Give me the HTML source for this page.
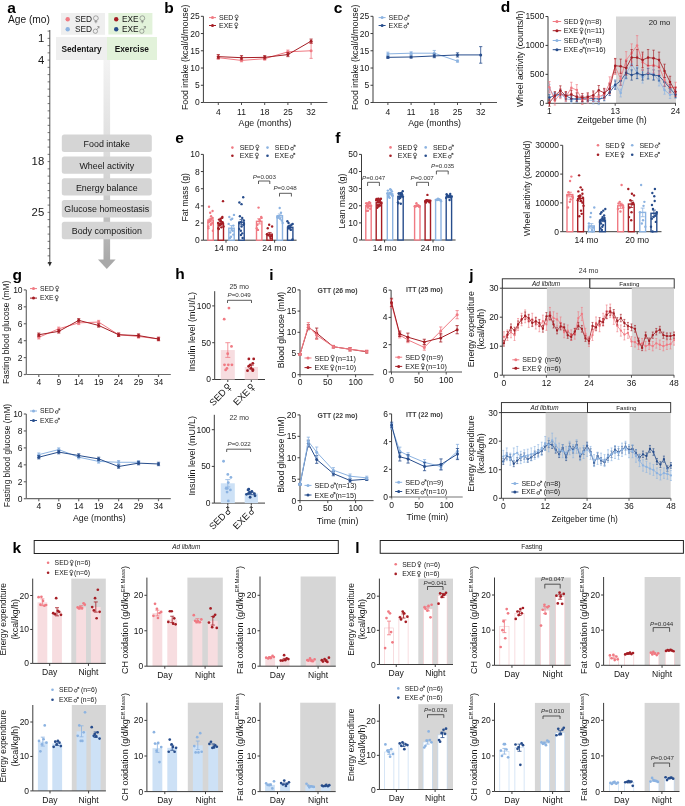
<!DOCTYPE html>
<html><head><meta charset="utf-8"><style>
html,body{margin:0;padding:0;background:#fff;}
svg{display:block;will-change:transform;}
</style></head><body>
<svg width="685" height="806" viewBox="0 0 685 806">
<rect width="685" height="806" fill="#fff"/>
<g font-family='"Liberation Sans", sans-serif' font-size="8.5" fill="#161616">
<text x="7.2" y="12.7" font-weight="bold" fill="#000" font-size="15.5">a</text>
<text x="8" y="23.2" font-size="10.2">Age (mo)</text>
<rect x="61" y="13" width="44" height="21.8" fill="#efefef"/>
<rect x="108.4" y="13" width="44" height="21.5" fill="#e2f2da"/>
<circle cx="67.7" cy="19.2" r="2.2" fill="#f07a83"/>
<g><text x="75" y="22.11" font-size="8.3" xml:space="preserve">SED</text><circle cx="95.88" cy="18.2" r="2.41" fill="none" stroke="#666" stroke-width="0.54"/><path d="M95.88 20.61V23.27M94.39 21.69H97.38" stroke="#666" stroke-width="0.54" fill="none"/></g>
<circle cx="67.7" cy="29.3" r="2.2" fill="#8cb3e1"/>
<g><text x="75" y="32.2" font-size="8.3" xml:space="preserve">SED</text><circle cx="95.39" cy="31.21" r="2.16" fill="none" stroke="#666" stroke-width="0.54"/><path d="M96.94 29.66L99.04 26.56M97.21 26.56H99.04V28.39" stroke="#666" stroke-width="0.54" fill="none"/></g>
<circle cx="116.2" cy="19.2" r="2.2" fill="#a51d24"/>
<g><text x="121.9" y="22.11" font-size="8.3" xml:space="preserve">EXE</text><circle cx="142.33" cy="18.2" r="2.41" fill="none" stroke="#666" stroke-width="0.54"/><path d="M142.33 20.61V23.27M140.83 21.69H143.82" stroke="#666" stroke-width="0.54" fill="none"/></g>
<circle cx="116.2" cy="29.3" r="2.2" fill="#274d8c"/>
<g><text x="121.9" y="32.2" font-size="8.3" xml:space="preserve">EXE</text><circle cx="141.83" cy="31.21" r="2.16" fill="none" stroke="#666" stroke-width="0.54"/><path d="M143.38 29.66L145.48 26.56M143.66 26.56H145.48V28.39" stroke="#666" stroke-width="0.54" fill="none"/></g>
<rect x="56" y="37" width="51" height="23" fill="#efefef"/>
<rect x="107" y="37" width="50" height="23" fill="#e2f2da"/>
<text x="81.5" y="51.8" text-anchor="middle" font-weight="bold" font-size="8.3">Sedentary</text>
<text x="131.8" y="51.8" text-anchor="middle" font-weight="bold" font-size="8.3">Exercise</text>
<defs><linearGradient id="gb" x1="0" y1="0" x2="0" y2="1"><stop offset="0" stop-color="#f3f3f3"/><stop offset="0.55" stop-color="#d8d8d8"/><stop offset="1" stop-color="#a9a9a9"/></linearGradient></defs>
<rect x="103.5" y="60" width="6.6" height="200" fill="url(#gb)"/>
<polygon points="98,259.5 115.6,259.5 106.8,269" fill="#a9a9a9"/>
<line x1="49.8" y1="30" x2="49.8" y2="263.5" stroke="#3c3c3c" stroke-width="0.9"/>
<polygon points="47.8,262 51.8,262 49.8,266.5" fill="#2a2a2a"/>
<line x1="47.6" y1="31.1" x2="49.8" y2="31.1" stroke="#3c3c3c" stroke-width="0.7"/>
<line x1="47.6" y1="38.35" x2="49.8" y2="38.35" stroke="#3c3c3c" stroke-width="0.7"/>
<line x1="47.6" y1="45.6" x2="49.8" y2="45.6" stroke="#3c3c3c" stroke-width="0.7"/>
<line x1="47.6" y1="52.85" x2="49.8" y2="52.85" stroke="#3c3c3c" stroke-width="0.7"/>
<line x1="47.6" y1="60.1" x2="49.8" y2="60.1" stroke="#3c3c3c" stroke-width="0.7"/>
<line x1="47.6" y1="67.35" x2="49.8" y2="67.35" stroke="#3c3c3c" stroke-width="0.7"/>
<line x1="47.6" y1="74.6" x2="49.8" y2="74.6" stroke="#3c3c3c" stroke-width="0.7"/>
<line x1="47.6" y1="81.85" x2="49.8" y2="81.85" stroke="#3c3c3c" stroke-width="0.7"/>
<line x1="47.6" y1="89.1" x2="49.8" y2="89.1" stroke="#3c3c3c" stroke-width="0.7"/>
<line x1="47.6" y1="96.35" x2="49.8" y2="96.35" stroke="#3c3c3c" stroke-width="0.7"/>
<line x1="47.6" y1="103.6" x2="49.8" y2="103.6" stroke="#3c3c3c" stroke-width="0.7"/>
<line x1="47.6" y1="110.85" x2="49.8" y2="110.85" stroke="#3c3c3c" stroke-width="0.7"/>
<line x1="47.6" y1="118.1" x2="49.8" y2="118.1" stroke="#3c3c3c" stroke-width="0.7"/>
<line x1="47.6" y1="125.35" x2="49.8" y2="125.35" stroke="#3c3c3c" stroke-width="0.7"/>
<line x1="47.6" y1="132.6" x2="49.8" y2="132.6" stroke="#3c3c3c" stroke-width="0.7"/>
<line x1="47.6" y1="139.85" x2="49.8" y2="139.85" stroke="#3c3c3c" stroke-width="0.7"/>
<line x1="47.6" y1="147.1" x2="49.8" y2="147.1" stroke="#3c3c3c" stroke-width="0.7"/>
<line x1="47.6" y1="154.35" x2="49.8" y2="154.35" stroke="#3c3c3c" stroke-width="0.7"/>
<line x1="47.6" y1="161.6" x2="49.8" y2="161.6" stroke="#3c3c3c" stroke-width="0.7"/>
<line x1="47.6" y1="168.85" x2="49.8" y2="168.85" stroke="#3c3c3c" stroke-width="0.7"/>
<line x1="47.6" y1="176.1" x2="49.8" y2="176.1" stroke="#3c3c3c" stroke-width="0.7"/>
<line x1="47.6" y1="183.35" x2="49.8" y2="183.35" stroke="#3c3c3c" stroke-width="0.7"/>
<line x1="47.6" y1="190.6" x2="49.8" y2="190.6" stroke="#3c3c3c" stroke-width="0.7"/>
<line x1="47.6" y1="197.85" x2="49.8" y2="197.85" stroke="#3c3c3c" stroke-width="0.7"/>
<line x1="47.6" y1="205.1" x2="49.8" y2="205.1" stroke="#3c3c3c" stroke-width="0.7"/>
<line x1="47.6" y1="212.35" x2="49.8" y2="212.35" stroke="#3c3c3c" stroke-width="0.7"/>
<line x1="47.6" y1="219.6" x2="49.8" y2="219.6" stroke="#3c3c3c" stroke-width="0.7"/>
<line x1="47.6" y1="226.85" x2="49.8" y2="226.85" stroke="#3c3c3c" stroke-width="0.7"/>
<line x1="47.6" y1="234.1" x2="49.8" y2="234.1" stroke="#3c3c3c" stroke-width="0.7"/>
<line x1="47.6" y1="241.35" x2="49.8" y2="241.35" stroke="#3c3c3c" stroke-width="0.7"/>
<line x1="47.6" y1="248.6" x2="49.8" y2="248.6" stroke="#3c3c3c" stroke-width="0.7"/>
<line x1="47.6" y1="255.85" x2="49.8" y2="255.85" stroke="#3c3c3c" stroke-width="0.7"/>
<line x1="47.6" y1="263.1" x2="49.8" y2="263.1" stroke="#3c3c3c" stroke-width="0.7"/>
<text x="44.2" y="42.15" text-anchor="end" font-size="11.3">1</text>
<text x="44.2" y="63.9" text-anchor="end" font-size="11.3">4</text>
<text x="44.2" y="165.4" text-anchor="end" font-size="11.3">18</text>
<text x="44.2" y="216.15" text-anchor="end" font-size="11.3">25</text>
<rect x="61.8" y="134.6" width="90" height="17.4" fill="#d5d5d5" rx="2.5"/>
<text x="106.8" y="146.9" text-anchor="middle" font-size="8.9">Food intake</text>
<rect x="61.8" y="156.4" width="90" height="17.4" fill="#d5d5d5" rx="2.5"/>
<text x="106.8" y="168.7" text-anchor="middle" font-size="8.9">Wheel activity</text>
<rect x="61.8" y="178.2" width="90" height="17.4" fill="#d5d5d5" rx="2.5"/>
<text x="106.8" y="190.5" text-anchor="middle" font-size="8.9">Energy balance</text>
<rect x="61.8" y="200" width="90" height="17.4" fill="#d5d5d5" rx="2.5"/>
<text x="106.8" y="212.3" text-anchor="middle" font-size="8.9">Glucose homeostasis</text>
<rect x="61.8" y="221.8" width="90" height="17.4" fill="#d5d5d5" rx="2.5"/>
<text x="106.8" y="234.1" text-anchor="middle" font-size="8.9">Body composition</text>
<text x="164.2" y="12.6" font-weight="bold" fill="#000" font-size="15.5">b</text>
<line x1="203.4" y1="16.3" x2="203.4" y2="102.5" stroke="#3c3c3c" stroke-width="1"/>
<line x1="200.9" y1="102.5" x2="203.4" y2="102.5" stroke="#3c3c3c" stroke-width="1"/>
<text x="199.7" y="105.47" text-anchor="end">0</text>
<line x1="200.9" y1="85.26" x2="203.4" y2="85.26" stroke="#3c3c3c" stroke-width="1"/>
<text x="199.7" y="88.23" text-anchor="end">5</text>
<line x1="200.9" y1="68.02" x2="203.4" y2="68.02" stroke="#3c3c3c" stroke-width="1"/>
<text x="199.7" y="71" text-anchor="end">10</text>
<line x1="200.9" y1="50.78" x2="203.4" y2="50.78" stroke="#3c3c3c" stroke-width="1"/>
<text x="199.7" y="53.76" text-anchor="end">15</text>
<line x1="200.9" y1="33.54" x2="203.4" y2="33.54" stroke="#3c3c3c" stroke-width="1"/>
<text x="199.7" y="36.52" text-anchor="end">20</text>
<line x1="200.9" y1="16.3" x2="203.4" y2="16.3" stroke="#3c3c3c" stroke-width="1"/>
<text x="199.7" y="19.27" text-anchor="end">25</text>
<line x1="203.4" y1="102.5" x2="327.4" y2="102.5" stroke="#3c3c3c" stroke-width="0.9"/>
<line x1="218.3" y1="102.5" x2="218.3" y2="105" stroke="#3c3c3c" stroke-width="0.9"/>
<text x="218.3" y="114.5" text-anchor="middle">4</text>
<line x1="241.5" y1="102.5" x2="241.5" y2="105" stroke="#3c3c3c" stroke-width="0.9"/>
<text x="241.5" y="114.5" text-anchor="middle">11</text>
<line x1="264.7" y1="102.5" x2="264.7" y2="105" stroke="#3c3c3c" stroke-width="0.9"/>
<text x="264.7" y="114.5" text-anchor="middle">18</text>
<line x1="287.9" y1="102.5" x2="287.9" y2="105" stroke="#3c3c3c" stroke-width="0.9"/>
<text x="287.9" y="114.5" text-anchor="middle">25</text>
<line x1="311.1" y1="102.5" x2="311.1" y2="105" stroke="#3c3c3c" stroke-width="0.9"/>
<text x="311.1" y="114.5" text-anchor="middle">32</text>
<text x="265" y="126.4" text-anchor="middle" font-size="8.8">Age (months)</text>
<text x="188" y="57.3" text-anchor="middle" font-size="8.75" transform="rotate(-90 188 57.3)">Food intake (kcal/d/mouse)</text>
<polyline points="218.3,57.68 241.5,60.43 264.7,58.71 287.9,51.81 311.1,50.78" fill="none" stroke="#f07a83" stroke-width="1" stroke-linejoin="round"/>
<line x1="218.3" y1="59.06" x2="218.3" y2="56.3" stroke="#f07a83" stroke-width="0.8"/>
<line x1="216.7" y1="59.06" x2="219.9" y2="59.06" stroke="#f07a83" stroke-width="0.8"/>
<line x1="216.7" y1="56.3" x2="219.9" y2="56.3" stroke="#f07a83" stroke-width="0.8"/>
<circle cx="218.3" cy="57.68" r="1.5" fill="#f07a83"/>
<line x1="241.5" y1="61.81" x2="241.5" y2="59.06" stroke="#f07a83" stroke-width="0.8"/>
<line x1="239.9" y1="61.81" x2="243.1" y2="61.81" stroke="#f07a83" stroke-width="0.8"/>
<line x1="239.9" y1="59.06" x2="243.1" y2="59.06" stroke="#f07a83" stroke-width="0.8"/>
<circle cx="241.5" cy="60.43" r="1.5" fill="#f07a83"/>
<line x1="264.7" y1="60.09" x2="264.7" y2="57.33" stroke="#f07a83" stroke-width="0.8"/>
<line x1="263.1" y1="60.09" x2="266.3" y2="60.09" stroke="#f07a83" stroke-width="0.8"/>
<line x1="263.1" y1="57.33" x2="266.3" y2="57.33" stroke="#f07a83" stroke-width="0.8"/>
<circle cx="264.7" cy="58.71" r="1.5" fill="#f07a83"/>
<line x1="287.9" y1="53.54" x2="287.9" y2="50.09" stroke="#f07a83" stroke-width="0.8"/>
<line x1="286.3" y1="53.54" x2="289.5" y2="53.54" stroke="#f07a83" stroke-width="0.8"/>
<line x1="286.3" y1="50.09" x2="289.5" y2="50.09" stroke="#f07a83" stroke-width="0.8"/>
<circle cx="287.9" cy="51.81" r="1.5" fill="#f07a83"/>
<line x1="311.1" y1="58.37" x2="311.1" y2="43.19" stroke="#f07a83" stroke-width="0.8"/>
<line x1="309.5" y1="58.37" x2="312.7" y2="58.37" stroke="#f07a83" stroke-width="0.8"/>
<line x1="309.5" y1="43.19" x2="312.7" y2="43.19" stroke="#f07a83" stroke-width="0.8"/>
<circle cx="311.1" cy="50.78" r="1.5" fill="#f07a83"/>
<polyline points="218.3,56.64 241.5,57.68 264.7,57.33 287.9,54.57 311.1,41.13" fill="none" stroke="#a51d24" stroke-width="1" stroke-linejoin="round"/>
<line x1="218.3" y1="58.71" x2="218.3" y2="54.57" stroke="#a51d24" stroke-width="0.8"/>
<line x1="216.7" y1="58.71" x2="219.9" y2="58.71" stroke="#a51d24" stroke-width="0.8"/>
<line x1="216.7" y1="54.57" x2="219.9" y2="54.57" stroke="#a51d24" stroke-width="0.8"/>
<circle cx="218.3" cy="56.64" r="1.5" fill="#a51d24"/>
<line x1="241.5" y1="59.74" x2="241.5" y2="55.61" stroke="#a51d24" stroke-width="0.8"/>
<line x1="239.9" y1="59.74" x2="243.1" y2="59.74" stroke="#a51d24" stroke-width="0.8"/>
<line x1="239.9" y1="55.61" x2="243.1" y2="55.61" stroke="#a51d24" stroke-width="0.8"/>
<circle cx="241.5" cy="57.68" r="1.5" fill="#a51d24"/>
<line x1="264.7" y1="59.06" x2="264.7" y2="55.61" stroke="#a51d24" stroke-width="0.8"/>
<line x1="263.1" y1="59.06" x2="266.3" y2="59.06" stroke="#a51d24" stroke-width="0.8"/>
<line x1="263.1" y1="55.61" x2="266.3" y2="55.61" stroke="#a51d24" stroke-width="0.8"/>
<circle cx="264.7" cy="57.33" r="1.5" fill="#a51d24"/>
<line x1="287.9" y1="56.64" x2="287.9" y2="52.5" stroke="#a51d24" stroke-width="0.8"/>
<line x1="286.3" y1="56.64" x2="289.5" y2="56.64" stroke="#a51d24" stroke-width="0.8"/>
<line x1="286.3" y1="52.5" x2="289.5" y2="52.5" stroke="#a51d24" stroke-width="0.8"/>
<circle cx="287.9" cy="54.57" r="1.5" fill="#a51d24"/>
<line x1="311.1" y1="43.19" x2="311.1" y2="39.06" stroke="#a51d24" stroke-width="0.8"/>
<line x1="309.5" y1="43.19" x2="312.7" y2="43.19" stroke="#a51d24" stroke-width="0.8"/>
<line x1="309.5" y1="39.06" x2="312.7" y2="39.06" stroke="#a51d24" stroke-width="0.8"/>
<circle cx="311.1" cy="41.13" r="1.5" fill="#a51d24"/>
<line x1="209" y1="17.6" x2="216" y2="17.6" stroke="#f07a83" stroke-width="1"/>
<circle cx="212.5" cy="17.6" r="1.5" fill="#f07a83"/>
<g><text x="219" y="20.05" font-size="7" xml:space="preserve">SED</text><circle cx="236.61" cy="16.55" r="1.54" fill="none" stroke="#161616" stroke-width="0.67"/><path d="M236.61 18.09V21.03M235.35 19.7H237.87" stroke="#161616" stroke-width="0.67" fill="none"/></g>
<line x1="209" y1="25.5" x2="216" y2="25.5" stroke="#a51d24" stroke-width="1"/>
<circle cx="212.5" cy="25.5" r="1.5" fill="#a51d24"/>
<g><text x="219" y="27.95" font-size="7" xml:space="preserve">EXE</text><circle cx="236.23" cy="24.45" r="1.54" fill="none" stroke="#161616" stroke-width="0.67"/><path d="M236.23 25.99V28.93M234.97 27.6H237.49" stroke="#161616" stroke-width="0.67" fill="none"/></g>
<text x="333.8" y="12.6" font-weight="bold" fill="#000" font-size="15.5">c</text>
<line x1="373" y1="16.3" x2="373" y2="102.5" stroke="#3c3c3c" stroke-width="1"/>
<line x1="370.5" y1="102.5" x2="373" y2="102.5" stroke="#3c3c3c" stroke-width="1"/>
<text x="369.3" y="105.47" text-anchor="end">0</text>
<line x1="370.5" y1="85.26" x2="373" y2="85.26" stroke="#3c3c3c" stroke-width="1"/>
<text x="369.3" y="88.23" text-anchor="end">5</text>
<line x1="370.5" y1="68.02" x2="373" y2="68.02" stroke="#3c3c3c" stroke-width="1"/>
<text x="369.3" y="71" text-anchor="end">10</text>
<line x1="370.5" y1="50.78" x2="373" y2="50.78" stroke="#3c3c3c" stroke-width="1"/>
<text x="369.3" y="53.76" text-anchor="end">15</text>
<line x1="370.5" y1="33.54" x2="373" y2="33.54" stroke="#3c3c3c" stroke-width="1"/>
<text x="369.3" y="36.52" text-anchor="end">20</text>
<line x1="370.5" y1="16.3" x2="373" y2="16.3" stroke="#3c3c3c" stroke-width="1"/>
<text x="369.3" y="19.27" text-anchor="end">25</text>
<line x1="373" y1="102.5" x2="497" y2="102.5" stroke="#3c3c3c" stroke-width="0.9"/>
<line x1="387.9" y1="102.5" x2="387.9" y2="105" stroke="#3c3c3c" stroke-width="0.9"/>
<text x="387.9" y="114.5" text-anchor="middle">4</text>
<line x1="411.1" y1="102.5" x2="411.1" y2="105" stroke="#3c3c3c" stroke-width="0.9"/>
<text x="411.1" y="114.5" text-anchor="middle">11</text>
<line x1="434.3" y1="102.5" x2="434.3" y2="105" stroke="#3c3c3c" stroke-width="0.9"/>
<text x="434.3" y="114.5" text-anchor="middle">18</text>
<line x1="457.5" y1="102.5" x2="457.5" y2="105" stroke="#3c3c3c" stroke-width="0.9"/>
<text x="457.5" y="114.5" text-anchor="middle">25</text>
<line x1="480.7" y1="102.5" x2="480.7" y2="105" stroke="#3c3c3c" stroke-width="0.9"/>
<text x="480.7" y="114.5" text-anchor="middle">32</text>
<text x="434.6" y="126.4" text-anchor="middle" font-size="8.8">Age (months)</text>
<text x="357.6" y="57.3" text-anchor="middle" font-size="8.75" transform="rotate(-90 357.6 57.3)">Food intake (kcal/d/mouse)</text>
<polyline points="387.9,53.88 411.1,53.19 434.3,53.19 457.5,61.12" fill="none" stroke="#8cb3e1" stroke-width="1" stroke-linejoin="round"/>
<line x1="387.9" y1="55.61" x2="387.9" y2="52.16" stroke="#8cb3e1" stroke-width="0.8"/>
<line x1="386.3" y1="55.61" x2="389.5" y2="55.61" stroke="#8cb3e1" stroke-width="0.8"/>
<line x1="386.3" y1="52.16" x2="389.5" y2="52.16" stroke="#8cb3e1" stroke-width="0.8"/>
<circle cx="387.9" cy="53.88" r="1.5" fill="#8cb3e1"/>
<line x1="411.1" y1="54.57" x2="411.1" y2="51.81" stroke="#8cb3e1" stroke-width="0.8"/>
<line x1="409.5" y1="54.57" x2="412.7" y2="54.57" stroke="#8cb3e1" stroke-width="0.8"/>
<line x1="409.5" y1="51.81" x2="412.7" y2="51.81" stroke="#8cb3e1" stroke-width="0.8"/>
<circle cx="411.1" cy="53.19" r="1.5" fill="#8cb3e1"/>
<line x1="434.3" y1="55.95" x2="434.3" y2="50.44" stroke="#8cb3e1" stroke-width="0.8"/>
<line x1="432.7" y1="55.95" x2="435.9" y2="55.95" stroke="#8cb3e1" stroke-width="0.8"/>
<line x1="432.7" y1="50.44" x2="435.9" y2="50.44" stroke="#8cb3e1" stroke-width="0.8"/>
<circle cx="434.3" cy="53.19" r="1.5" fill="#8cb3e1"/>
<line x1="457.5" y1="62.16" x2="457.5" y2="60.09" stroke="#8cb3e1" stroke-width="0.8"/>
<line x1="455.9" y1="62.16" x2="459.1" y2="62.16" stroke="#8cb3e1" stroke-width="0.8"/>
<line x1="455.9" y1="60.09" x2="459.1" y2="60.09" stroke="#8cb3e1" stroke-width="0.8"/>
<circle cx="457.5" cy="61.12" r="1.5" fill="#8cb3e1"/>
<polyline points="387.9,57.33 411.1,56.99 434.3,55.95 457.5,54.92 480.7,54.92" fill="none" stroke="#274d8c" stroke-width="1" stroke-linejoin="round"/>
<line x1="387.9" y1="58.37" x2="387.9" y2="56.3" stroke="#274d8c" stroke-width="0.8"/>
<line x1="386.3" y1="58.37" x2="389.5" y2="58.37" stroke="#274d8c" stroke-width="0.8"/>
<line x1="386.3" y1="56.3" x2="389.5" y2="56.3" stroke="#274d8c" stroke-width="0.8"/>
<circle cx="387.9" cy="57.33" r="1.5" fill="#274d8c"/>
<line x1="411.1" y1="58.02" x2="411.1" y2="55.95" stroke="#274d8c" stroke-width="0.8"/>
<line x1="409.5" y1="58.02" x2="412.7" y2="58.02" stroke="#274d8c" stroke-width="0.8"/>
<line x1="409.5" y1="55.95" x2="412.7" y2="55.95" stroke="#274d8c" stroke-width="0.8"/>
<circle cx="411.1" cy="56.99" r="1.5" fill="#274d8c"/>
<line x1="434.3" y1="57.68" x2="434.3" y2="54.23" stroke="#274d8c" stroke-width="0.8"/>
<line x1="432.7" y1="57.68" x2="435.9" y2="57.68" stroke="#274d8c" stroke-width="0.8"/>
<line x1="432.7" y1="54.23" x2="435.9" y2="54.23" stroke="#274d8c" stroke-width="0.8"/>
<circle cx="434.3" cy="55.95" r="1.5" fill="#274d8c"/>
<line x1="457.5" y1="56.99" x2="457.5" y2="52.85" stroke="#274d8c" stroke-width="0.8"/>
<line x1="455.9" y1="56.99" x2="459.1" y2="56.99" stroke="#274d8c" stroke-width="0.8"/>
<line x1="455.9" y1="52.85" x2="459.1" y2="52.85" stroke="#274d8c" stroke-width="0.8"/>
<circle cx="457.5" cy="54.92" r="1.5" fill="#274d8c"/>
<line x1="480.7" y1="63.19" x2="480.7" y2="46.64" stroke="#274d8c" stroke-width="0.8"/>
<line x1="479.1" y1="63.19" x2="482.3" y2="63.19" stroke="#274d8c" stroke-width="0.8"/>
<line x1="479.1" y1="46.64" x2="482.3" y2="46.64" stroke="#274d8c" stroke-width="0.8"/>
<circle cx="480.7" cy="54.92" r="1.5" fill="#274d8c"/>
<line x1="378.6" y1="17.6" x2="385.6" y2="17.6" stroke="#8cb3e1" stroke-width="1"/>
<circle cx="382.1" cy="17.6" r="1.5" fill="#8cb3e1"/>
<g><text x="388.6" y="20.05" font-size="7" xml:space="preserve">SED</text><circle cx="405.79" cy="18.65" r="1.4" fill="none" stroke="#161616" stroke-width="0.67"/><path d="M406.8 17.64L408.87 15.29M407.33 15.29H408.87V16.83" stroke="#161616" stroke-width="0.67" fill="none"/></g>
<line x1="378.6" y1="25.5" x2="385.6" y2="25.5" stroke="#274d8c" stroke-width="1"/>
<circle cx="382.1" cy="25.5" r="1.5" fill="#274d8c"/>
<g><text x="388.6" y="27.95" font-size="7" xml:space="preserve">EXE</text><circle cx="405.41" cy="26.55" r="1.4" fill="none" stroke="#161616" stroke-width="0.67"/><path d="M406.42 25.54L408.49 23.19M406.95 23.19H408.49V24.73" stroke="#161616" stroke-width="0.67" fill="none"/></g>
<text x="500.8" y="12.4" font-weight="bold" fill="#000" font-size="15.5">d</text>
<rect x="616" y="16.5" width="60" height="86.8" fill="#d6d6d6"/>
<line x1="548" y1="16.5" x2="548" y2="103.3" stroke="#3c3c3c" stroke-width="1"/>
<line x1="545.5" y1="103.3" x2="548" y2="103.3" stroke="#3c3c3c" stroke-width="1"/>
<text x="544.3" y="106.27" text-anchor="end">0</text>
<line x1="545.5" y1="74.37" x2="548" y2="74.37" stroke="#3c3c3c" stroke-width="1"/>
<text x="544.3" y="77.34" text-anchor="end">500</text>
<line x1="545.5" y1="45.43" x2="548" y2="45.43" stroke="#3c3c3c" stroke-width="1"/>
<text x="544.3" y="48.41" text-anchor="end">1000</text>
<line x1="545.5" y1="16.5" x2="548" y2="16.5" stroke="#3c3c3c" stroke-width="1"/>
<text x="544.3" y="19.48" text-anchor="end">1500</text>
<line x1="548" y1="103.3" x2="676" y2="103.3" stroke="#3c3c3c" stroke-width="0.9"/>
<line x1="549.4" y1="103.3" x2="549.4" y2="105.8" stroke="#3c3c3c" stroke-width="0.9"/>
<text x="549.4" y="113.88" text-anchor="middle">1</text>
<line x1="615.19" y1="103.3" x2="615.19" y2="105.8" stroke="#3c3c3c" stroke-width="0.9"/>
<text x="615.19" y="113.88" text-anchor="middle">13</text>
<line x1="675.5" y1="103.3" x2="675.5" y2="105.8" stroke="#3c3c3c" stroke-width="0.9"/>
<text x="675.5" y="113.88" text-anchor="middle">24</text>
<text x="659.5" y="25.2" text-anchor="middle" fill="#222" font-size="7.8">20 mo</text>
<text x="612" y="123.2" text-anchor="middle" font-size="8.8">Zeitgeber time (h)</text>
<text x="523.2" y="58.8" text-anchor="middle" font-size="8.7" transform="rotate(-90 523.2 58.8)">Wheel acitivity (counts/h)</text>
<polyline points="549.4,88.72 554.88,96.88 560.37,93.64 565.85,98.61 571.33,100.06 576.81,99.02 582.3,99.02 587.78,100.06 593.26,100.75 598.74,101.56 604.23,93 609.71,88.31 615.19,84.44 620.67,93 626.16,73.27 631.64,64.3 637.12,72.86 642.6,77.61 648.09,72.86 653.57,73.73 659.05,80.79 664.53,89.99 670.02,94.74 675.5,93.64" fill="none" stroke="#8cb3e1" stroke-width="0.85" stroke-linejoin="round"/>
<line x1="549.4" y1="93.07" x2="549.4" y2="84.37" stroke="#8cb3e1" stroke-width="0.65"/>
<line x1="548.2" y1="93.07" x2="550.6" y2="93.07" stroke="#8cb3e1" stroke-width="0.65"/>
<line x1="548.2" y1="84.37" x2="550.6" y2="84.37" stroke="#8cb3e1" stroke-width="0.65"/>
<circle cx="549.4" cy="88.72" r="1.25" fill="#8cb3e1"/>
<line x1="554.88" y1="100.41" x2="554.88" y2="93.34" stroke="#8cb3e1" stroke-width="0.65"/>
<line x1="553.68" y1="100.41" x2="556.08" y2="100.41" stroke="#8cb3e1" stroke-width="0.65"/>
<line x1="553.68" y1="93.34" x2="556.08" y2="93.34" stroke="#8cb3e1" stroke-width="0.65"/>
<circle cx="554.88" cy="96.88" r="1.25" fill="#8cb3e1"/>
<line x1="560.37" y1="97.5" x2="560.37" y2="89.78" stroke="#8cb3e1" stroke-width="0.65"/>
<line x1="559.17" y1="97.5" x2="561.57" y2="97.5" stroke="#8cb3e1" stroke-width="0.65"/>
<line x1="559.17" y1="89.78" x2="561.57" y2="89.78" stroke="#8cb3e1" stroke-width="0.65"/>
<circle cx="560.37" cy="93.64" r="1.25" fill="#8cb3e1"/>
<line x1="565.85" y1="101.97" x2="565.85" y2="95.25" stroke="#8cb3e1" stroke-width="0.65"/>
<line x1="564.65" y1="101.97" x2="567.05" y2="101.97" stroke="#8cb3e1" stroke-width="0.65"/>
<line x1="564.65" y1="95.25" x2="567.05" y2="95.25" stroke="#8cb3e1" stroke-width="0.65"/>
<circle cx="565.85" cy="98.61" r="1.25" fill="#8cb3e1"/>
<line x1="571.33" y1="103.28" x2="571.33" y2="96.84" stroke="#8cb3e1" stroke-width="0.65"/>
<line x1="570.13" y1="103.28" x2="572.53" y2="103.28" stroke="#8cb3e1" stroke-width="0.65"/>
<line x1="570.13" y1="96.84" x2="572.53" y2="96.84" stroke="#8cb3e1" stroke-width="0.65"/>
<circle cx="571.33" cy="100.06" r="1.25" fill="#8cb3e1"/>
<line x1="576.81" y1="102.34" x2="576.81" y2="95.7" stroke="#8cb3e1" stroke-width="0.65"/>
<line x1="575.61" y1="102.34" x2="578.01" y2="102.34" stroke="#8cb3e1" stroke-width="0.65"/>
<line x1="575.61" y1="95.7" x2="578.01" y2="95.7" stroke="#8cb3e1" stroke-width="0.65"/>
<circle cx="576.81" cy="99.02" r="1.25" fill="#8cb3e1"/>
<line x1="582.3" y1="102.34" x2="582.3" y2="95.7" stroke="#8cb3e1" stroke-width="0.65"/>
<line x1="581.1" y1="102.34" x2="583.5" y2="102.34" stroke="#8cb3e1" stroke-width="0.65"/>
<line x1="581.1" y1="95.7" x2="583.5" y2="95.7" stroke="#8cb3e1" stroke-width="0.65"/>
<circle cx="582.3" cy="99.02" r="1.25" fill="#8cb3e1"/>
<line x1="587.78" y1="103.28" x2="587.78" y2="96.84" stroke="#8cb3e1" stroke-width="0.65"/>
<line x1="586.58" y1="103.28" x2="588.98" y2="103.28" stroke="#8cb3e1" stroke-width="0.65"/>
<line x1="586.58" y1="96.84" x2="588.98" y2="96.84" stroke="#8cb3e1" stroke-width="0.65"/>
<circle cx="587.78" cy="100.06" r="1.25" fill="#8cb3e1"/>
<line x1="593.26" y1="103.9" x2="593.26" y2="97.61" stroke="#8cb3e1" stroke-width="0.65"/>
<line x1="592.06" y1="103.9" x2="594.46" y2="103.9" stroke="#8cb3e1" stroke-width="0.65"/>
<line x1="592.06" y1="97.61" x2="594.46" y2="97.61" stroke="#8cb3e1" stroke-width="0.65"/>
<circle cx="593.26" cy="100.75" r="1.25" fill="#8cb3e1"/>
<line x1="598.74" y1="104.63" x2="598.74" y2="98.5" stroke="#8cb3e1" stroke-width="0.65"/>
<line x1="597.54" y1="104.63" x2="599.94" y2="104.63" stroke="#8cb3e1" stroke-width="0.65"/>
<line x1="597.54" y1="98.5" x2="599.94" y2="98.5" stroke="#8cb3e1" stroke-width="0.65"/>
<circle cx="598.74" cy="101.56" r="1.25" fill="#8cb3e1"/>
<line x1="604.23" y1="96.92" x2="604.23" y2="89.08" stroke="#8cb3e1" stroke-width="0.65"/>
<line x1="603.03" y1="96.92" x2="605.43" y2="96.92" stroke="#8cb3e1" stroke-width="0.65"/>
<line x1="603.03" y1="89.08" x2="605.43" y2="89.08" stroke="#8cb3e1" stroke-width="0.65"/>
<circle cx="604.23" cy="93" r="1.25" fill="#8cb3e1"/>
<line x1="609.71" y1="92.7" x2="609.71" y2="83.92" stroke="#8cb3e1" stroke-width="0.65"/>
<line x1="608.51" y1="92.7" x2="610.91" y2="92.7" stroke="#8cb3e1" stroke-width="0.65"/>
<line x1="608.51" y1="83.92" x2="610.91" y2="83.92" stroke="#8cb3e1" stroke-width="0.65"/>
<circle cx="609.71" cy="88.31" r="1.25" fill="#8cb3e1"/>
<line x1="615.19" y1="89.22" x2="615.19" y2="79.66" stroke="#8cb3e1" stroke-width="0.65"/>
<line x1="613.99" y1="89.22" x2="616.39" y2="89.22" stroke="#8cb3e1" stroke-width="0.65"/>
<line x1="613.99" y1="79.66" x2="616.39" y2="79.66" stroke="#8cb3e1" stroke-width="0.65"/>
<circle cx="615.19" cy="84.44" r="1.25" fill="#8cb3e1"/>
<line x1="620.67" y1="96.92" x2="620.67" y2="89.08" stroke="#8cb3e1" stroke-width="0.65"/>
<line x1="619.47" y1="96.92" x2="621.87" y2="96.92" stroke="#8cb3e1" stroke-width="0.65"/>
<line x1="619.47" y1="89.08" x2="621.87" y2="89.08" stroke="#8cb3e1" stroke-width="0.65"/>
<circle cx="620.67" cy="93" r="1.25" fill="#8cb3e1"/>
<line x1="626.16" y1="79.16" x2="626.16" y2="67.37" stroke="#8cb3e1" stroke-width="0.65"/>
<line x1="624.96" y1="79.16" x2="627.36" y2="79.16" stroke="#8cb3e1" stroke-width="0.65"/>
<line x1="624.96" y1="67.37" x2="627.36" y2="67.37" stroke="#8cb3e1" stroke-width="0.65"/>
<circle cx="626.16" cy="73.27" r="1.25" fill="#8cb3e1"/>
<line x1="631.64" y1="71.09" x2="631.64" y2="57.5" stroke="#8cb3e1" stroke-width="0.65"/>
<line x1="630.44" y1="71.09" x2="632.84" y2="71.09" stroke="#8cb3e1" stroke-width="0.65"/>
<line x1="630.44" y1="57.5" x2="632.84" y2="57.5" stroke="#8cb3e1" stroke-width="0.65"/>
<circle cx="631.64" cy="64.3" r="1.25" fill="#8cb3e1"/>
<line x1="637.12" y1="78.8" x2="637.12" y2="66.93" stroke="#8cb3e1" stroke-width="0.65"/>
<line x1="635.92" y1="78.8" x2="638.32" y2="78.8" stroke="#8cb3e1" stroke-width="0.65"/>
<line x1="635.92" y1="66.93" x2="638.32" y2="66.93" stroke="#8cb3e1" stroke-width="0.65"/>
<circle cx="637.12" cy="72.86" r="1.25" fill="#8cb3e1"/>
<line x1="642.6" y1="83.07" x2="642.6" y2="72.14" stroke="#8cb3e1" stroke-width="0.65"/>
<line x1="641.4" y1="83.07" x2="643.8" y2="83.07" stroke="#8cb3e1" stroke-width="0.65"/>
<line x1="641.4" y1="72.14" x2="643.8" y2="72.14" stroke="#8cb3e1" stroke-width="0.65"/>
<circle cx="642.6" cy="77.61" r="1.25" fill="#8cb3e1"/>
<line x1="648.09" y1="78.8" x2="648.09" y2="66.93" stroke="#8cb3e1" stroke-width="0.65"/>
<line x1="646.89" y1="78.8" x2="649.29" y2="78.8" stroke="#8cb3e1" stroke-width="0.65"/>
<line x1="646.89" y1="66.93" x2="649.29" y2="66.93" stroke="#8cb3e1" stroke-width="0.65"/>
<circle cx="648.09" cy="72.86" r="1.25" fill="#8cb3e1"/>
<line x1="653.57" y1="79.58" x2="653.57" y2="67.88" stroke="#8cb3e1" stroke-width="0.65"/>
<line x1="652.37" y1="79.58" x2="654.77" y2="79.58" stroke="#8cb3e1" stroke-width="0.65"/>
<line x1="652.37" y1="67.88" x2="654.77" y2="67.88" stroke="#8cb3e1" stroke-width="0.65"/>
<circle cx="653.57" cy="73.73" r="1.25" fill="#8cb3e1"/>
<line x1="659.05" y1="85.93" x2="659.05" y2="75.65" stroke="#8cb3e1" stroke-width="0.65"/>
<line x1="657.85" y1="85.93" x2="660.25" y2="85.93" stroke="#8cb3e1" stroke-width="0.65"/>
<line x1="657.85" y1="75.65" x2="660.25" y2="75.65" stroke="#8cb3e1" stroke-width="0.65"/>
<circle cx="659.05" cy="80.79" r="1.25" fill="#8cb3e1"/>
<line x1="664.53" y1="94.21" x2="664.53" y2="85.77" stroke="#8cb3e1" stroke-width="0.65"/>
<line x1="663.33" y1="94.21" x2="665.73" y2="94.21" stroke="#8cb3e1" stroke-width="0.65"/>
<line x1="663.33" y1="85.77" x2="665.73" y2="85.77" stroke="#8cb3e1" stroke-width="0.65"/>
<circle cx="664.53" cy="89.99" r="1.25" fill="#8cb3e1"/>
<line x1="670.02" y1="98.49" x2="670.02" y2="90.99" stroke="#8cb3e1" stroke-width="0.65"/>
<line x1="668.82" y1="98.49" x2="671.22" y2="98.49" stroke="#8cb3e1" stroke-width="0.65"/>
<line x1="668.82" y1="90.99" x2="671.22" y2="90.99" stroke="#8cb3e1" stroke-width="0.65"/>
<circle cx="670.02" cy="94.74" r="1.25" fill="#8cb3e1"/>
<line x1="675.5" y1="97.5" x2="675.5" y2="89.78" stroke="#8cb3e1" stroke-width="0.65"/>
<line x1="674.3" y1="97.5" x2="676.7" y2="97.5" stroke="#8cb3e1" stroke-width="0.65"/>
<line x1="674.3" y1="89.78" x2="676.7" y2="89.78" stroke="#8cb3e1" stroke-width="0.65"/>
<circle cx="675.5" cy="93.64" r="1.25" fill="#8cb3e1"/>
<polyline points="549.4,97.51 554.88,95.78 560.37,93.64 565.85,95.78 571.33,98.67 576.81,99.02 582.3,99.02 587.78,98.61 593.26,98.61 598.74,99.02 604.23,97.92 609.71,92.13 615.19,85.07 620.67,80.79 626.16,72.86 631.64,75 637.12,73.27 642.6,75 648.09,73.73 653.57,75 659.05,75.87 664.53,81.89 670.02,88.31 675.5,94.74" fill="none" stroke="#274d8c" stroke-width="0.85" stroke-linejoin="round"/>
<line x1="549.4" y1="100.41" x2="549.4" y2="94.62" stroke="#274d8c" stroke-width="0.65"/>
<line x1="548.2" y1="100.41" x2="550.6" y2="100.41" stroke="#274d8c" stroke-width="0.65"/>
<line x1="548.2" y1="94.62" x2="550.6" y2="94.62" stroke="#274d8c" stroke-width="0.65"/>
<circle cx="549.4" cy="97.51" r="1.25" fill="#274d8c"/>
<line x1="554.88" y1="98.84" x2="554.88" y2="92.71" stroke="#274d8c" stroke-width="0.65"/>
<line x1="553.68" y1="98.84" x2="556.08" y2="98.84" stroke="#274d8c" stroke-width="0.65"/>
<line x1="553.68" y1="92.71" x2="556.08" y2="92.71" stroke="#274d8c" stroke-width="0.65"/>
<circle cx="554.88" cy="95.78" r="1.25" fill="#274d8c"/>
<line x1="560.37" y1="96.92" x2="560.37" y2="90.36" stroke="#274d8c" stroke-width="0.65"/>
<line x1="559.17" y1="96.92" x2="561.57" y2="96.92" stroke="#274d8c" stroke-width="0.65"/>
<line x1="559.17" y1="90.36" x2="561.57" y2="90.36" stroke="#274d8c" stroke-width="0.65"/>
<circle cx="560.37" cy="93.64" r="1.25" fill="#274d8c"/>
<line x1="565.85" y1="98.84" x2="565.85" y2="92.71" stroke="#274d8c" stroke-width="0.65"/>
<line x1="564.65" y1="98.84" x2="567.05" y2="98.84" stroke="#274d8c" stroke-width="0.65"/>
<line x1="564.65" y1="92.71" x2="567.05" y2="92.71" stroke="#274d8c" stroke-width="0.65"/>
<circle cx="565.85" cy="95.78" r="1.25" fill="#274d8c"/>
<line x1="571.33" y1="101.45" x2="571.33" y2="95.89" stroke="#274d8c" stroke-width="0.65"/>
<line x1="570.13" y1="101.45" x2="572.53" y2="101.45" stroke="#274d8c" stroke-width="0.65"/>
<line x1="570.13" y1="95.89" x2="572.53" y2="95.89" stroke="#274d8c" stroke-width="0.65"/>
<circle cx="571.33" cy="98.67" r="1.25" fill="#274d8c"/>
<line x1="576.81" y1="101.76" x2="576.81" y2="96.27" stroke="#274d8c" stroke-width="0.65"/>
<line x1="575.61" y1="101.76" x2="578.01" y2="101.76" stroke="#274d8c" stroke-width="0.65"/>
<line x1="575.61" y1="96.27" x2="578.01" y2="96.27" stroke="#274d8c" stroke-width="0.65"/>
<circle cx="576.81" cy="99.02" r="1.25" fill="#274d8c"/>
<line x1="582.3" y1="101.76" x2="582.3" y2="96.27" stroke="#274d8c" stroke-width="0.65"/>
<line x1="581.1" y1="101.76" x2="583.5" y2="101.76" stroke="#274d8c" stroke-width="0.65"/>
<line x1="581.1" y1="96.27" x2="583.5" y2="96.27" stroke="#274d8c" stroke-width="0.65"/>
<circle cx="582.3" cy="99.02" r="1.25" fill="#274d8c"/>
<line x1="587.78" y1="101.4" x2="587.78" y2="95.83" stroke="#274d8c" stroke-width="0.65"/>
<line x1="586.58" y1="101.4" x2="588.98" y2="101.4" stroke="#274d8c" stroke-width="0.65"/>
<line x1="586.58" y1="95.83" x2="588.98" y2="95.83" stroke="#274d8c" stroke-width="0.65"/>
<circle cx="587.78" cy="98.61" r="1.25" fill="#274d8c"/>
<line x1="593.26" y1="101.4" x2="593.26" y2="95.83" stroke="#274d8c" stroke-width="0.65"/>
<line x1="592.06" y1="101.4" x2="594.46" y2="101.4" stroke="#274d8c" stroke-width="0.65"/>
<line x1="592.06" y1="95.83" x2="594.46" y2="95.83" stroke="#274d8c" stroke-width="0.65"/>
<circle cx="593.26" cy="98.61" r="1.25" fill="#274d8c"/>
<line x1="598.74" y1="101.76" x2="598.74" y2="96.27" stroke="#274d8c" stroke-width="0.65"/>
<line x1="597.54" y1="101.76" x2="599.94" y2="101.76" stroke="#274d8c" stroke-width="0.65"/>
<line x1="597.54" y1="96.27" x2="599.94" y2="96.27" stroke="#274d8c" stroke-width="0.65"/>
<circle cx="598.74" cy="99.02" r="1.25" fill="#274d8c"/>
<line x1="604.23" y1="100.77" x2="604.23" y2="95.07" stroke="#274d8c" stroke-width="0.65"/>
<line x1="603.03" y1="100.77" x2="605.43" y2="100.77" stroke="#274d8c" stroke-width="0.65"/>
<line x1="603.03" y1="95.07" x2="605.43" y2="95.07" stroke="#274d8c" stroke-width="0.65"/>
<circle cx="604.23" cy="97.92" r="1.25" fill="#274d8c"/>
<line x1="609.71" y1="95.56" x2="609.71" y2="88.7" stroke="#274d8c" stroke-width="0.65"/>
<line x1="608.51" y1="95.56" x2="610.91" y2="95.56" stroke="#274d8c" stroke-width="0.65"/>
<line x1="608.51" y1="88.7" x2="610.91" y2="88.7" stroke="#274d8c" stroke-width="0.65"/>
<circle cx="609.71" cy="92.13" r="1.25" fill="#274d8c"/>
<line x1="615.19" y1="89.21" x2="615.19" y2="80.93" stroke="#274d8c" stroke-width="0.65"/>
<line x1="613.99" y1="89.21" x2="616.39" y2="89.21" stroke="#274d8c" stroke-width="0.65"/>
<line x1="613.99" y1="80.93" x2="616.39" y2="80.93" stroke="#274d8c" stroke-width="0.65"/>
<circle cx="615.19" cy="85.07" r="1.25" fill="#274d8c"/>
<line x1="620.67" y1="85.36" x2="620.67" y2="76.22" stroke="#274d8c" stroke-width="0.65"/>
<line x1="619.47" y1="85.36" x2="621.87" y2="85.36" stroke="#274d8c" stroke-width="0.65"/>
<line x1="619.47" y1="76.22" x2="621.87" y2="76.22" stroke="#274d8c" stroke-width="0.65"/>
<circle cx="620.67" cy="80.79" r="1.25" fill="#274d8c"/>
<line x1="626.16" y1="78.22" x2="626.16" y2="67.5" stroke="#274d8c" stroke-width="0.65"/>
<line x1="624.96" y1="78.22" x2="627.36" y2="78.22" stroke="#274d8c" stroke-width="0.65"/>
<line x1="624.96" y1="67.5" x2="627.36" y2="67.5" stroke="#274d8c" stroke-width="0.65"/>
<circle cx="626.16" cy="72.86" r="1.25" fill="#274d8c"/>
<line x1="631.64" y1="80.15" x2="631.64" y2="69.86" stroke="#274d8c" stroke-width="0.65"/>
<line x1="630.44" y1="80.15" x2="632.84" y2="80.15" stroke="#274d8c" stroke-width="0.65"/>
<line x1="630.44" y1="69.86" x2="632.84" y2="69.86" stroke="#274d8c" stroke-width="0.65"/>
<circle cx="631.64" cy="75" r="1.25" fill="#274d8c"/>
<line x1="637.12" y1="78.59" x2="637.12" y2="67.95" stroke="#274d8c" stroke-width="0.65"/>
<line x1="635.92" y1="78.59" x2="638.32" y2="78.59" stroke="#274d8c" stroke-width="0.65"/>
<line x1="635.92" y1="67.95" x2="638.32" y2="67.95" stroke="#274d8c" stroke-width="0.65"/>
<circle cx="637.12" cy="73.27" r="1.25" fill="#274d8c"/>
<line x1="642.6" y1="80.15" x2="642.6" y2="69.86" stroke="#274d8c" stroke-width="0.65"/>
<line x1="641.4" y1="80.15" x2="643.8" y2="80.15" stroke="#274d8c" stroke-width="0.65"/>
<line x1="641.4" y1="69.86" x2="643.8" y2="69.86" stroke="#274d8c" stroke-width="0.65"/>
<circle cx="642.6" cy="75" r="1.25" fill="#274d8c"/>
<line x1="648.09" y1="79" x2="648.09" y2="68.46" stroke="#274d8c" stroke-width="0.65"/>
<line x1="646.89" y1="79" x2="649.29" y2="79" stroke="#274d8c" stroke-width="0.65"/>
<line x1="646.89" y1="68.46" x2="649.29" y2="68.46" stroke="#274d8c" stroke-width="0.65"/>
<circle cx="648.09" cy="73.73" r="1.25" fill="#274d8c"/>
<line x1="653.57" y1="80.15" x2="653.57" y2="69.86" stroke="#274d8c" stroke-width="0.65"/>
<line x1="652.37" y1="80.15" x2="654.77" y2="80.15" stroke="#274d8c" stroke-width="0.65"/>
<line x1="652.37" y1="69.86" x2="654.77" y2="69.86" stroke="#274d8c" stroke-width="0.65"/>
<circle cx="653.57" cy="75" r="1.25" fill="#274d8c"/>
<line x1="659.05" y1="80.93" x2="659.05" y2="70.81" stroke="#274d8c" stroke-width="0.65"/>
<line x1="657.85" y1="80.93" x2="660.25" y2="80.93" stroke="#274d8c" stroke-width="0.65"/>
<line x1="657.85" y1="70.81" x2="660.25" y2="70.81" stroke="#274d8c" stroke-width="0.65"/>
<circle cx="659.05" cy="75.87" r="1.25" fill="#274d8c"/>
<line x1="664.53" y1="86.35" x2="664.53" y2="77.43" stroke="#274d8c" stroke-width="0.65"/>
<line x1="663.33" y1="86.35" x2="665.73" y2="86.35" stroke="#274d8c" stroke-width="0.65"/>
<line x1="663.33" y1="77.43" x2="665.73" y2="77.43" stroke="#274d8c" stroke-width="0.65"/>
<circle cx="664.53" cy="81.89" r="1.25" fill="#274d8c"/>
<line x1="670.02" y1="92.13" x2="670.02" y2="84.5" stroke="#274d8c" stroke-width="0.65"/>
<line x1="668.82" y1="92.13" x2="671.22" y2="92.13" stroke="#274d8c" stroke-width="0.65"/>
<line x1="668.82" y1="84.5" x2="671.22" y2="84.5" stroke="#274d8c" stroke-width="0.65"/>
<circle cx="670.02" cy="88.31" r="1.25" fill="#274d8c"/>
<line x1="675.5" y1="97.91" x2="675.5" y2="91.56" stroke="#274d8c" stroke-width="0.65"/>
<line x1="674.3" y1="97.91" x2="676.7" y2="97.91" stroke="#274d8c" stroke-width="0.65"/>
<line x1="674.3" y1="91.56" x2="676.7" y2="91.56" stroke="#274d8c" stroke-width="0.65"/>
<circle cx="675.5" cy="94.74" r="1.25" fill="#274d8c"/>
<polyline points="549.4,87.21 554.88,100.75 560.37,93.64 565.85,96.88 571.33,87.85 576.81,89.99 582.3,100.06 587.78,98.61 593.26,96.88 598.74,96.88 604.23,94.27 609.71,82.93 615.19,66.84 620.67,78.65 626.16,60.02 631.64,52.96 637.12,45.43 642.6,62.16 648.09,65.8 653.57,65.17 659.05,66.84 664.53,79.75 670.02,87.21 675.5,87.85" fill="none" stroke="#f07a83" stroke-width="0.85" stroke-linejoin="round"/>
<line x1="549.4" y1="92.87" x2="549.4" y2="81.55" stroke="#f07a83" stroke-width="0.65"/>
<line x1="548.2" y1="92.87" x2="550.6" y2="92.87" stroke="#f07a83" stroke-width="0.65"/>
<line x1="548.2" y1="81.55" x2="550.6" y2="81.55" stroke="#f07a83" stroke-width="0.65"/>
<circle cx="549.4" cy="87.21" r="1.25" fill="#f07a83"/>
<line x1="554.88" y1="105.06" x2="554.88" y2="96.45" stroke="#f07a83" stroke-width="0.65"/>
<line x1="553.68" y1="105.06" x2="556.08" y2="105.06" stroke="#f07a83" stroke-width="0.65"/>
<line x1="553.68" y1="96.45" x2="556.08" y2="96.45" stroke="#f07a83" stroke-width="0.65"/>
<circle cx="554.88" cy="100.75" r="1.25" fill="#f07a83"/>
<line x1="560.37" y1="98.65" x2="560.37" y2="88.62" stroke="#f07a83" stroke-width="0.65"/>
<line x1="559.17" y1="98.65" x2="561.57" y2="98.65" stroke="#f07a83" stroke-width="0.65"/>
<line x1="559.17" y1="88.62" x2="561.57" y2="88.62" stroke="#f07a83" stroke-width="0.65"/>
<circle cx="560.37" cy="93.64" r="1.25" fill="#f07a83"/>
<line x1="565.85" y1="101.57" x2="565.85" y2="92.18" stroke="#f07a83" stroke-width="0.65"/>
<line x1="564.65" y1="101.57" x2="567.05" y2="101.57" stroke="#f07a83" stroke-width="0.65"/>
<line x1="564.65" y1="92.18" x2="567.05" y2="92.18" stroke="#f07a83" stroke-width="0.65"/>
<circle cx="565.85" cy="96.88" r="1.25" fill="#f07a83"/>
<line x1="571.33" y1="93.45" x2="571.33" y2="82.25" stroke="#f07a83" stroke-width="0.65"/>
<line x1="570.13" y1="93.45" x2="572.53" y2="93.45" stroke="#f07a83" stroke-width="0.65"/>
<line x1="570.13" y1="82.25" x2="572.53" y2="82.25" stroke="#f07a83" stroke-width="0.65"/>
<circle cx="571.33" cy="87.85" r="1.25" fill="#f07a83"/>
<line x1="576.81" y1="95.37" x2="576.81" y2="84.61" stroke="#f07a83" stroke-width="0.65"/>
<line x1="575.61" y1="95.37" x2="578.01" y2="95.37" stroke="#f07a83" stroke-width="0.65"/>
<line x1="575.61" y1="84.61" x2="578.01" y2="84.61" stroke="#f07a83" stroke-width="0.65"/>
<circle cx="576.81" cy="89.99" r="1.25" fill="#f07a83"/>
<line x1="582.3" y1="104.43" x2="582.3" y2="95.68" stroke="#f07a83" stroke-width="0.65"/>
<line x1="581.1" y1="104.43" x2="583.5" y2="104.43" stroke="#f07a83" stroke-width="0.65"/>
<line x1="581.1" y1="95.68" x2="583.5" y2="95.68" stroke="#f07a83" stroke-width="0.65"/>
<circle cx="582.3" cy="100.06" r="1.25" fill="#f07a83"/>
<line x1="587.78" y1="103.13" x2="587.78" y2="94.09" stroke="#f07a83" stroke-width="0.65"/>
<line x1="586.58" y1="103.13" x2="588.98" y2="103.13" stroke="#f07a83" stroke-width="0.65"/>
<line x1="586.58" y1="94.09" x2="588.98" y2="94.09" stroke="#f07a83" stroke-width="0.65"/>
<circle cx="587.78" cy="98.61" r="1.25" fill="#f07a83"/>
<line x1="593.26" y1="101.57" x2="593.26" y2="92.18" stroke="#f07a83" stroke-width="0.65"/>
<line x1="592.06" y1="101.57" x2="594.46" y2="101.57" stroke="#f07a83" stroke-width="0.65"/>
<line x1="592.06" y1="92.18" x2="594.46" y2="92.18" stroke="#f07a83" stroke-width="0.65"/>
<circle cx="593.26" cy="96.88" r="1.25" fill="#f07a83"/>
<line x1="598.74" y1="101.57" x2="598.74" y2="92.18" stroke="#f07a83" stroke-width="0.65"/>
<line x1="597.54" y1="101.57" x2="599.94" y2="101.57" stroke="#f07a83" stroke-width="0.65"/>
<line x1="597.54" y1="92.18" x2="599.94" y2="92.18" stroke="#f07a83" stroke-width="0.65"/>
<circle cx="598.74" cy="96.88" r="1.25" fill="#f07a83"/>
<line x1="604.23" y1="99.23" x2="604.23" y2="89.32" stroke="#f07a83" stroke-width="0.65"/>
<line x1="603.03" y1="99.23" x2="605.43" y2="99.23" stroke="#f07a83" stroke-width="0.65"/>
<line x1="603.03" y1="89.32" x2="605.43" y2="89.32" stroke="#f07a83" stroke-width="0.65"/>
<circle cx="604.23" cy="94.27" r="1.25" fill="#f07a83"/>
<line x1="609.71" y1="89.02" x2="609.71" y2="76.84" stroke="#f07a83" stroke-width="0.65"/>
<line x1="608.51" y1="89.02" x2="610.91" y2="89.02" stroke="#f07a83" stroke-width="0.65"/>
<line x1="608.51" y1="76.84" x2="610.91" y2="76.84" stroke="#f07a83" stroke-width="0.65"/>
<circle cx="609.71" cy="82.93" r="1.25" fill="#f07a83"/>
<line x1="615.19" y1="74.54" x2="615.19" y2="59.15" stroke="#f07a83" stroke-width="0.65"/>
<line x1="613.99" y1="74.54" x2="616.39" y2="74.54" stroke="#f07a83" stroke-width="0.65"/>
<line x1="613.99" y1="59.15" x2="616.39" y2="59.15" stroke="#f07a83" stroke-width="0.65"/>
<circle cx="615.19" cy="66.84" r="1.25" fill="#f07a83"/>
<line x1="620.67" y1="85.16" x2="620.67" y2="72.13" stroke="#f07a83" stroke-width="0.65"/>
<line x1="619.47" y1="85.16" x2="621.87" y2="85.16" stroke="#f07a83" stroke-width="0.65"/>
<line x1="619.47" y1="72.13" x2="621.87" y2="72.13" stroke="#f07a83" stroke-width="0.65"/>
<circle cx="620.67" cy="78.65" r="1.25" fill="#f07a83"/>
<line x1="626.16" y1="68.39" x2="626.16" y2="51.64" stroke="#f07a83" stroke-width="0.65"/>
<line x1="624.96" y1="68.39" x2="627.36" y2="68.39" stroke="#f07a83" stroke-width="0.65"/>
<line x1="624.96" y1="51.64" x2="627.36" y2="51.64" stroke="#f07a83" stroke-width="0.65"/>
<circle cx="626.16" cy="60.02" r="1.25" fill="#f07a83"/>
<line x1="631.64" y1="62.04" x2="631.64" y2="43.87" stroke="#f07a83" stroke-width="0.65"/>
<line x1="630.44" y1="62.04" x2="632.84" y2="62.04" stroke="#f07a83" stroke-width="0.65"/>
<line x1="630.44" y1="43.87" x2="632.84" y2="43.87" stroke="#f07a83" stroke-width="0.65"/>
<circle cx="631.64" cy="52.96" r="1.25" fill="#f07a83"/>
<line x1="637.12" y1="55.27" x2="637.12" y2="35.6" stroke="#f07a83" stroke-width="0.65"/>
<line x1="635.92" y1="55.27" x2="638.32" y2="55.27" stroke="#f07a83" stroke-width="0.65"/>
<line x1="635.92" y1="35.6" x2="638.32" y2="35.6" stroke="#f07a83" stroke-width="0.65"/>
<circle cx="637.12" cy="45.43" r="1.25" fill="#f07a83"/>
<line x1="642.6" y1="70.32" x2="642.6" y2="53.99" stroke="#f07a83" stroke-width="0.65"/>
<line x1="641.4" y1="70.32" x2="643.8" y2="70.32" stroke="#f07a83" stroke-width="0.65"/>
<line x1="641.4" y1="53.99" x2="643.8" y2="53.99" stroke="#f07a83" stroke-width="0.65"/>
<circle cx="642.6" cy="62.16" r="1.25" fill="#f07a83"/>
<line x1="648.09" y1="73.6" x2="648.09" y2="58" stroke="#f07a83" stroke-width="0.65"/>
<line x1="646.89" y1="73.6" x2="649.29" y2="73.6" stroke="#f07a83" stroke-width="0.65"/>
<line x1="646.89" y1="58" x2="649.29" y2="58" stroke="#f07a83" stroke-width="0.65"/>
<circle cx="648.09" cy="65.8" r="1.25" fill="#f07a83"/>
<line x1="653.57" y1="73.03" x2="653.57" y2="57.3" stroke="#f07a83" stroke-width="0.65"/>
<line x1="652.37" y1="73.03" x2="654.77" y2="73.03" stroke="#f07a83" stroke-width="0.65"/>
<line x1="652.37" y1="57.3" x2="654.77" y2="57.3" stroke="#f07a83" stroke-width="0.65"/>
<circle cx="653.57" cy="65.17" r="1.25" fill="#f07a83"/>
<line x1="659.05" y1="74.54" x2="659.05" y2="59.15" stroke="#f07a83" stroke-width="0.65"/>
<line x1="657.85" y1="74.54" x2="660.25" y2="74.54" stroke="#f07a83" stroke-width="0.65"/>
<line x1="657.85" y1="59.15" x2="660.25" y2="59.15" stroke="#f07a83" stroke-width="0.65"/>
<circle cx="659.05" cy="66.84" r="1.25" fill="#f07a83"/>
<line x1="664.53" y1="86.15" x2="664.53" y2="73.34" stroke="#f07a83" stroke-width="0.65"/>
<line x1="663.33" y1="86.15" x2="665.73" y2="86.15" stroke="#f07a83" stroke-width="0.65"/>
<line x1="663.33" y1="73.34" x2="665.73" y2="73.34" stroke="#f07a83" stroke-width="0.65"/>
<circle cx="664.53" cy="79.75" r="1.25" fill="#f07a83"/>
<line x1="670.02" y1="92.87" x2="670.02" y2="81.55" stroke="#f07a83" stroke-width="0.65"/>
<line x1="668.82" y1="92.87" x2="671.22" y2="92.87" stroke="#f07a83" stroke-width="0.65"/>
<line x1="668.82" y1="81.55" x2="671.22" y2="81.55" stroke="#f07a83" stroke-width="0.65"/>
<circle cx="670.02" cy="87.21" r="1.25" fill="#f07a83"/>
<line x1="675.5" y1="93.45" x2="675.5" y2="82.25" stroke="#f07a83" stroke-width="0.65"/>
<line x1="674.3" y1="93.45" x2="676.7" y2="93.45" stroke="#f07a83" stroke-width="0.65"/>
<line x1="674.3" y1="82.25" x2="676.7" y2="82.25" stroke="#f07a83" stroke-width="0.65"/>
<circle cx="675.5" cy="87.85" r="1.25" fill="#f07a83"/>
<polyline points="549.4,102.72 554.88,95.78 560.37,90.57 565.85,95.78 571.33,94.62 576.81,96.93 582.3,97.51 587.78,96.93 593.26,95.2 598.74,90.28 604.23,92.88 609.71,88.83 615.19,65.69 620.67,66.27 626.16,68 631.64,57.59 637.12,57.59 642.6,59.9 648.09,57.59 653.57,58.16 659.05,59.9 664.53,70.89 670.02,81.89 675.5,91.73" fill="none" stroke="#a51d24" stroke-width="0.85" stroke-linejoin="round"/>
<line x1="549.4" y1="106.25" x2="549.4" y2="99.19" stroke="#a51d24" stroke-width="0.65"/>
<line x1="548.2" y1="106.25" x2="550.6" y2="106.25" stroke="#a51d24" stroke-width="0.65"/>
<line x1="548.2" y1="99.19" x2="550.6" y2="99.19" stroke="#a51d24" stroke-width="0.65"/>
<circle cx="549.4" cy="102.72" r="1.25" fill="#a51d24"/>
<line x1="554.88" y1="100" x2="554.88" y2="91.55" stroke="#a51d24" stroke-width="0.65"/>
<line x1="553.68" y1="100" x2="556.08" y2="100" stroke="#a51d24" stroke-width="0.65"/>
<line x1="553.68" y1="91.55" x2="556.08" y2="91.55" stroke="#a51d24" stroke-width="0.65"/>
<circle cx="554.88" cy="95.78" r="1.25" fill="#a51d24"/>
<line x1="560.37" y1="95.31" x2="560.37" y2="85.82" stroke="#a51d24" stroke-width="0.65"/>
<line x1="559.17" y1="95.31" x2="561.57" y2="95.31" stroke="#a51d24" stroke-width="0.65"/>
<line x1="559.17" y1="85.82" x2="561.57" y2="85.82" stroke="#a51d24" stroke-width="0.65"/>
<circle cx="560.37" cy="90.57" r="1.25" fill="#a51d24"/>
<line x1="565.85" y1="100" x2="565.85" y2="91.55" stroke="#a51d24" stroke-width="0.65"/>
<line x1="564.65" y1="100" x2="567.05" y2="100" stroke="#a51d24" stroke-width="0.65"/>
<line x1="564.65" y1="91.55" x2="567.05" y2="91.55" stroke="#a51d24" stroke-width="0.65"/>
<circle cx="565.85" cy="95.78" r="1.25" fill="#a51d24"/>
<line x1="571.33" y1="98.96" x2="571.33" y2="90.28" stroke="#a51d24" stroke-width="0.65"/>
<line x1="570.13" y1="98.96" x2="572.53" y2="98.96" stroke="#a51d24" stroke-width="0.65"/>
<line x1="570.13" y1="90.28" x2="572.53" y2="90.28" stroke="#a51d24" stroke-width="0.65"/>
<circle cx="571.33" cy="94.62" r="1.25" fill="#a51d24"/>
<line x1="576.81" y1="101.04" x2="576.81" y2="92.83" stroke="#a51d24" stroke-width="0.65"/>
<line x1="575.61" y1="101.04" x2="578.01" y2="101.04" stroke="#a51d24" stroke-width="0.65"/>
<line x1="575.61" y1="92.83" x2="578.01" y2="92.83" stroke="#a51d24" stroke-width="0.65"/>
<circle cx="576.81" cy="96.93" r="1.25" fill="#a51d24"/>
<line x1="582.3" y1="101.56" x2="582.3" y2="93.46" stroke="#a51d24" stroke-width="0.65"/>
<line x1="581.1" y1="101.56" x2="583.5" y2="101.56" stroke="#a51d24" stroke-width="0.65"/>
<line x1="581.1" y1="93.46" x2="583.5" y2="93.46" stroke="#a51d24" stroke-width="0.65"/>
<circle cx="582.3" cy="97.51" r="1.25" fill="#a51d24"/>
<line x1="587.78" y1="101.04" x2="587.78" y2="92.83" stroke="#a51d24" stroke-width="0.65"/>
<line x1="586.58" y1="101.04" x2="588.98" y2="101.04" stroke="#a51d24" stroke-width="0.65"/>
<line x1="586.58" y1="92.83" x2="588.98" y2="92.83" stroke="#a51d24" stroke-width="0.65"/>
<circle cx="587.78" cy="96.93" r="1.25" fill="#a51d24"/>
<line x1="593.26" y1="99.48" x2="593.26" y2="90.92" stroke="#a51d24" stroke-width="0.65"/>
<line x1="592.06" y1="99.48" x2="594.46" y2="99.48" stroke="#a51d24" stroke-width="0.65"/>
<line x1="592.06" y1="90.92" x2="594.46" y2="90.92" stroke="#a51d24" stroke-width="0.65"/>
<circle cx="593.26" cy="95.2" r="1.25" fill="#a51d24"/>
<line x1="598.74" y1="95.05" x2="598.74" y2="85.51" stroke="#a51d24" stroke-width="0.65"/>
<line x1="597.54" y1="95.05" x2="599.94" y2="95.05" stroke="#a51d24" stroke-width="0.65"/>
<line x1="597.54" y1="85.51" x2="599.94" y2="85.51" stroke="#a51d24" stroke-width="0.65"/>
<circle cx="598.74" cy="90.28" r="1.25" fill="#a51d24"/>
<line x1="604.23" y1="97.4" x2="604.23" y2="88.37" stroke="#a51d24" stroke-width="0.65"/>
<line x1="603.03" y1="97.4" x2="605.43" y2="97.4" stroke="#a51d24" stroke-width="0.65"/>
<line x1="603.03" y1="88.37" x2="605.43" y2="88.37" stroke="#a51d24" stroke-width="0.65"/>
<circle cx="604.23" cy="92.88" r="1.25" fill="#a51d24"/>
<line x1="609.71" y1="93.75" x2="609.71" y2="83.91" stroke="#a51d24" stroke-width="0.65"/>
<line x1="608.51" y1="93.75" x2="610.91" y2="93.75" stroke="#a51d24" stroke-width="0.65"/>
<line x1="608.51" y1="83.91" x2="610.91" y2="83.91" stroke="#a51d24" stroke-width="0.65"/>
<circle cx="609.71" cy="88.83" r="1.25" fill="#a51d24"/>
<line x1="615.19" y1="72.92" x2="615.19" y2="58.45" stroke="#a51d24" stroke-width="0.65"/>
<line x1="613.99" y1="72.92" x2="616.39" y2="72.92" stroke="#a51d24" stroke-width="0.65"/>
<line x1="613.99" y1="58.45" x2="616.39" y2="58.45" stroke="#a51d24" stroke-width="0.65"/>
<circle cx="615.19" cy="65.69" r="1.25" fill="#a51d24"/>
<line x1="620.67" y1="73.44" x2="620.67" y2="59.09" stroke="#a51d24" stroke-width="0.65"/>
<line x1="619.47" y1="73.44" x2="621.87" y2="73.44" stroke="#a51d24" stroke-width="0.65"/>
<line x1="619.47" y1="59.09" x2="621.87" y2="59.09" stroke="#a51d24" stroke-width="0.65"/>
<circle cx="620.67" cy="66.27" r="1.25" fill="#a51d24"/>
<line x1="626.16" y1="75" x2="626.16" y2="61" stroke="#a51d24" stroke-width="0.65"/>
<line x1="624.96" y1="75" x2="627.36" y2="75" stroke="#a51d24" stroke-width="0.65"/>
<line x1="624.96" y1="61" x2="627.36" y2="61" stroke="#a51d24" stroke-width="0.65"/>
<circle cx="626.16" cy="68" r="1.25" fill="#a51d24"/>
<line x1="631.64" y1="65.63" x2="631.64" y2="49.54" stroke="#a51d24" stroke-width="0.65"/>
<line x1="630.44" y1="65.63" x2="632.84" y2="65.63" stroke="#a51d24" stroke-width="0.65"/>
<line x1="630.44" y1="49.54" x2="632.84" y2="49.54" stroke="#a51d24" stroke-width="0.65"/>
<circle cx="631.64" cy="57.59" r="1.25" fill="#a51d24"/>
<line x1="637.12" y1="65.63" x2="637.12" y2="49.54" stroke="#a51d24" stroke-width="0.65"/>
<line x1="635.92" y1="65.63" x2="638.32" y2="65.63" stroke="#a51d24" stroke-width="0.65"/>
<line x1="635.92" y1="49.54" x2="638.32" y2="49.54" stroke="#a51d24" stroke-width="0.65"/>
<circle cx="637.12" cy="57.59" r="1.25" fill="#a51d24"/>
<line x1="642.6" y1="67.71" x2="642.6" y2="52.09" stroke="#a51d24" stroke-width="0.65"/>
<line x1="641.4" y1="67.71" x2="643.8" y2="67.71" stroke="#a51d24" stroke-width="0.65"/>
<line x1="641.4" y1="52.09" x2="643.8" y2="52.09" stroke="#a51d24" stroke-width="0.65"/>
<circle cx="642.6" cy="59.9" r="1.25" fill="#a51d24"/>
<line x1="648.09" y1="65.63" x2="648.09" y2="49.54" stroke="#a51d24" stroke-width="0.65"/>
<line x1="646.89" y1="65.63" x2="649.29" y2="65.63" stroke="#a51d24" stroke-width="0.65"/>
<line x1="646.89" y1="49.54" x2="649.29" y2="49.54" stroke="#a51d24" stroke-width="0.65"/>
<circle cx="648.09" cy="57.59" r="1.25" fill="#a51d24"/>
<line x1="653.57" y1="66.15" x2="653.57" y2="50.18" stroke="#a51d24" stroke-width="0.65"/>
<line x1="652.37" y1="66.15" x2="654.77" y2="66.15" stroke="#a51d24" stroke-width="0.65"/>
<line x1="652.37" y1="50.18" x2="654.77" y2="50.18" stroke="#a51d24" stroke-width="0.65"/>
<circle cx="653.57" cy="58.16" r="1.25" fill="#a51d24"/>
<line x1="659.05" y1="67.71" x2="659.05" y2="52.09" stroke="#a51d24" stroke-width="0.65"/>
<line x1="657.85" y1="67.71" x2="660.25" y2="67.71" stroke="#a51d24" stroke-width="0.65"/>
<line x1="657.85" y1="52.09" x2="660.25" y2="52.09" stroke="#a51d24" stroke-width="0.65"/>
<circle cx="659.05" cy="59.9" r="1.25" fill="#a51d24"/>
<line x1="664.53" y1="77.61" x2="664.53" y2="64.18" stroke="#a51d24" stroke-width="0.65"/>
<line x1="663.33" y1="77.61" x2="665.73" y2="77.61" stroke="#a51d24" stroke-width="0.65"/>
<line x1="663.33" y1="64.18" x2="665.73" y2="64.18" stroke="#a51d24" stroke-width="0.65"/>
<circle cx="664.53" cy="70.89" r="1.25" fill="#a51d24"/>
<line x1="670.02" y1="87.5" x2="670.02" y2="76.28" stroke="#a51d24" stroke-width="0.65"/>
<line x1="668.82" y1="87.5" x2="671.22" y2="87.5" stroke="#a51d24" stroke-width="0.65"/>
<line x1="668.82" y1="76.28" x2="671.22" y2="76.28" stroke="#a51d24" stroke-width="0.65"/>
<circle cx="670.02" cy="81.89" r="1.25" fill="#a51d24"/>
<line x1="675.5" y1="96.36" x2="675.5" y2="87.1" stroke="#a51d24" stroke-width="0.65"/>
<line x1="674.3" y1="96.36" x2="676.7" y2="96.36" stroke="#a51d24" stroke-width="0.65"/>
<line x1="674.3" y1="87.1" x2="676.7" y2="87.1" stroke="#a51d24" stroke-width="0.65"/>
<circle cx="675.5" cy="91.73" r="1.25" fill="#a51d24"/>
<line x1="552.7" y1="21.5" x2="561.2" y2="21.5" stroke="#f07a83" stroke-width="1"/>
<circle cx="556.95" cy="21.5" r="1.5" fill="#f07a83"/>
<g><text x="563.7" y="24.02" font-size="7.2" xml:space="preserve">SED</text><circle cx="581.82" cy="20.42" r="1.58" fill="none" stroke="#161616" stroke-width="0.68"/><path d="M581.82 22V25.03M580.52 23.66H583.11" stroke="#161616" stroke-width="0.68" fill="none"/><text x="584.7" y="24.02" font-size="7.2" xml:space="preserve">(n=8)</text></g>
<line x1="552.7" y1="30.7" x2="561.2" y2="30.7" stroke="#a51d24" stroke-width="1"/>
<circle cx="556.95" cy="30.7" r="1.5" fill="#a51d24"/>
<g><text x="563.7" y="33.22" font-size="7.2" xml:space="preserve">EXE</text><circle cx="581.42" cy="29.62" r="1.58" fill="none" stroke="#161616" stroke-width="0.68"/><path d="M581.42 31.2V34.23M580.12 32.86H582.72" stroke="#161616" stroke-width="0.68" fill="none"/><text x="584.3" y="33.22" font-size="7.2" xml:space="preserve">(n=11)</text></g>
<line x1="552.7" y1="40.5" x2="561.2" y2="40.5" stroke="#8cb3e1" stroke-width="1"/>
<circle cx="556.95" cy="40.5" r="1.5" fill="#8cb3e1"/>
<g><text x="563.7" y="43.02" font-size="7.2" xml:space="preserve">SED</text><circle cx="581.38" cy="41.58" r="1.44" fill="none" stroke="#161616" stroke-width="0.68"/><path d="M582.42 40.54L584.55 38.12M582.97 38.12H584.55V39.71" stroke="#161616" stroke-width="0.68" fill="none"/><text x="584.99" y="43.02" font-size="7.2" xml:space="preserve">(n=8)</text></g>
<line x1="552.7" y1="49.7" x2="561.2" y2="49.7" stroke="#274d8c" stroke-width="1"/>
<circle cx="556.95" cy="49.7" r="1.5" fill="#274d8c"/>
<g><text x="563.7" y="52.22" font-size="7.2" xml:space="preserve">EXE</text><circle cx="580.99" cy="50.78" r="1.44" fill="none" stroke="#161616" stroke-width="0.68"/><path d="M582.02 49.74L584.16 47.32M582.57 47.32H584.16V48.91" stroke="#161616" stroke-width="0.68" fill="none"/><text x="584.59" y="52.22" font-size="7.2" xml:space="preserve">(n=16)</text></g>
<text x="175.3" y="142.9" font-weight="bold" fill="#000" font-size="15.5">e</text>
<line x1="203.4" y1="154.4" x2="203.4" y2="240.2" stroke="#3c3c3c" stroke-width="1"/>
<line x1="200.9" y1="240.2" x2="203.4" y2="240.2" stroke="#3c3c3c" stroke-width="1"/>
<text x="199.7" y="243.17" text-anchor="end">0</text>
<line x1="200.9" y1="223.04" x2="203.4" y2="223.04" stroke="#3c3c3c" stroke-width="1"/>
<text x="199.7" y="226.01" text-anchor="end">2</text>
<line x1="200.9" y1="205.88" x2="203.4" y2="205.88" stroke="#3c3c3c" stroke-width="1"/>
<text x="199.7" y="208.85" text-anchor="end">4</text>
<line x1="200.9" y1="188.72" x2="203.4" y2="188.72" stroke="#3c3c3c" stroke-width="1"/>
<text x="199.7" y="191.69" text-anchor="end">6</text>
<line x1="200.9" y1="171.56" x2="203.4" y2="171.56" stroke="#3c3c3c" stroke-width="1"/>
<text x="199.7" y="174.53" text-anchor="end">8</text>
<line x1="200.9" y1="154.4" x2="203.4" y2="154.4" stroke="#3c3c3c" stroke-width="1"/>
<text x="199.7" y="157.38" text-anchor="end">10</text>
<line x1="203.4" y1="240.2" x2="296.6" y2="240.2" stroke="#3c3c3c" stroke-width="1"/>
<line x1="226" y1="240.2" x2="226" y2="242.7" stroke="#3c3c3c" stroke-width="1"/>
<line x1="274.6" y1="240.2" x2="274.6" y2="242.7" stroke="#3c3c3c" stroke-width="1"/>
<text x="226.2" y="251.2" text-anchor="middle" font-size="8.6">14 mo</text>
<text x="274.3" y="251.2" text-anchor="middle" font-size="8.6">24 mo</text>
<text x="188.5" y="197.3" text-anchor="middle" font-size="8.6" transform="rotate(-90 188.5 197.3)">Fat mass (g)</text>
<rect x="207.9" y="220.04" width="5.4" height="20.16" fill="#fff" stroke="#f07a83" stroke-width="1.4"/>
<circle cx="209.02" cy="206.74" r="1.2" fill="#f07a83"/>
<circle cx="212.57" cy="211.03" r="1.2" fill="#f07a83"/>
<circle cx="210.18" cy="212.74" r="1.2" fill="#f07a83"/>
<circle cx="211.07" cy="216.18" r="1.2" fill="#f07a83"/>
<circle cx="212.68" cy="217.89" r="1.2" fill="#f07a83"/>
<circle cx="211.57" cy="218.75" r="1.2" fill="#f07a83"/>
<circle cx="209.23" cy="220.47" r="1.2" fill="#f07a83"/>
<circle cx="209.82" cy="221.32" r="1.2" fill="#f07a83"/>
<circle cx="212.41" cy="223.04" r="1.2" fill="#f07a83"/>
<circle cx="210.82" cy="224.76" r="1.2" fill="#f07a83"/>
<circle cx="208.31" cy="226.47" r="1.2" fill="#f07a83"/>
<circle cx="208.32" cy="228.19" r="1.2" fill="#f07a83"/>
<circle cx="212.9" cy="230.76" r="1.2" fill="#f07a83"/>
<circle cx="210.3" cy="219.61" r="1.2" fill="#f07a83"/>
<circle cx="208.59" cy="222.18" r="1.2" fill="#f07a83"/>
<circle cx="211.24" cy="223.9" r="1.2" fill="#f07a83"/>
<line x1="210.6" y1="221.75" x2="210.6" y2="218.32" stroke="#f07a83" stroke-width="0.8"/>
<line x1="208.6" y1="221.75" x2="212.6" y2="221.75" stroke="#f07a83" stroke-width="0.8"/>
<line x1="208.6" y1="218.32" x2="212.6" y2="218.32" stroke="#f07a83" stroke-width="0.8"/>
<rect x="218.1" y="223.47" width="5.4" height="16.73" fill="#fff" stroke="#a51d24" stroke-width="1.4"/>
<circle cx="223.03" cy="201.16" r="1.2" fill="#a51d24"/>
<circle cx="222.36" cy="217.03" r="1.2" fill="#a51d24"/>
<circle cx="222.17" cy="217.89" r="1.2" fill="#a51d24"/>
<circle cx="220.61" cy="218.75" r="1.2" fill="#a51d24"/>
<circle cx="220.54" cy="220.47" r="1.2" fill="#a51d24"/>
<circle cx="222.6" cy="222.18" r="1.2" fill="#a51d24"/>
<circle cx="218.08" cy="223.04" r="1.2" fill="#a51d24"/>
<circle cx="219.75" cy="224.76" r="1.2" fill="#a51d24"/>
<circle cx="223.54" cy="226.47" r="1.2" fill="#a51d24"/>
<circle cx="218.32" cy="228.19" r="1.2" fill="#a51d24"/>
<circle cx="218.8" cy="229.05" r="1.2" fill="#a51d24"/>
<circle cx="221.65" cy="223.9" r="1.2" fill="#a51d24"/>
<circle cx="220.88" cy="221.32" r="1.2" fill="#a51d24"/>
<circle cx="219.57" cy="225.61" r="1.2" fill="#a51d24"/>
<circle cx="221.38" cy="227.33" r="1.2" fill="#a51d24"/>
<circle cx="219" cy="219.61" r="1.2" fill="#a51d24"/>
<line x1="220.8" y1="225.19" x2="220.8" y2="221.75" stroke="#a51d24" stroke-width="0.8"/>
<line x1="218.8" y1="225.19" x2="222.8" y2="225.19" stroke="#a51d24" stroke-width="0.8"/>
<line x1="218.8" y1="221.75" x2="222.8" y2="221.75" stroke="#a51d24" stroke-width="0.8"/>
<rect x="228.8" y="228.19" width="5.4" height="12.01" fill="#fff" stroke="#8cb3e1" stroke-width="1.4"/>
<circle cx="233.97" cy="214.89" r="1.2" fill="#8cb3e1"/>
<circle cx="229.31" cy="217.03" r="1.2" fill="#8cb3e1"/>
<circle cx="232.2" cy="218.75" r="1.2" fill="#8cb3e1"/>
<circle cx="230.98" cy="219.61" r="1.2" fill="#8cb3e1"/>
<circle cx="228.67" cy="223.9" r="1.2" fill="#8cb3e1"/>
<circle cx="233.36" cy="225.61" r="1.2" fill="#8cb3e1"/>
<circle cx="230.19" cy="232.48" r="1.2" fill="#8cb3e1"/>
<circle cx="233.25" cy="234.62" r="1.2" fill="#8cb3e1"/>
<circle cx="231.01" cy="236.77" r="1.2" fill="#8cb3e1"/>
<circle cx="230" cy="238.05" r="1.2" fill="#8cb3e1"/>
<circle cx="231.62" cy="229.05" r="1.2" fill="#8cb3e1"/>
<circle cx="232.72" cy="230.76" r="1.2" fill="#8cb3e1"/>
<line x1="231.5" y1="230.76" x2="231.5" y2="225.61" stroke="#8cb3e1" stroke-width="0.8"/>
<line x1="229.5" y1="230.76" x2="233.5" y2="230.76" stroke="#8cb3e1" stroke-width="0.8"/>
<line x1="229.5" y1="225.61" x2="233.5" y2="225.61" stroke="#8cb3e1" stroke-width="0.8"/>
<rect x="238.8" y="222.18" width="5.4" height="18.02" fill="#fff" stroke="#274d8c" stroke-width="1.4"/>
<circle cx="243.2" cy="197.3" r="1.2" fill="#274d8c"/>
<circle cx="239.39" cy="202.45" r="1.2" fill="#274d8c"/>
<circle cx="241.52" cy="204.16" r="1.2" fill="#274d8c"/>
<circle cx="239.89" cy="216.18" r="1.2" fill="#274d8c"/>
<circle cx="242.24" cy="217.89" r="1.2" fill="#274d8c"/>
<circle cx="243.82" cy="220.47" r="1.2" fill="#274d8c"/>
<circle cx="239.24" cy="223.04" r="1.2" fill="#274d8c"/>
<circle cx="243.41" cy="224.76" r="1.2" fill="#274d8c"/>
<circle cx="241.56" cy="226.47" r="1.2" fill="#274d8c"/>
<circle cx="239.12" cy="229.05" r="1.2" fill="#274d8c"/>
<circle cx="240.86" cy="230.76" r="1.2" fill="#274d8c"/>
<circle cx="242.22" cy="233.34" r="1.2" fill="#274d8c"/>
<circle cx="240.94" cy="235.05" r="1.2" fill="#274d8c"/>
<circle cx="242.61" cy="238.05" r="1.2" fill="#274d8c"/>
<circle cx="240.53" cy="222.18" r="1.2" fill="#274d8c"/>
<circle cx="244" cy="223.9" r="1.2" fill="#274d8c"/>
<line x1="241.5" y1="224.76" x2="241.5" y2="219.61" stroke="#274d8c" stroke-width="0.8"/>
<line x1="239.5" y1="224.76" x2="243.5" y2="224.76" stroke="#274d8c" stroke-width="0.8"/>
<line x1="239.5" y1="219.61" x2="243.5" y2="219.61" stroke="#274d8c" stroke-width="0.8"/>
<rect x="256.5" y="221.32" width="5.4" height="18.88" fill="#fff" stroke="#f07a83" stroke-width="1.4"/>
<circle cx="258.54" cy="207.6" r="1.2" fill="#f07a83"/>
<circle cx="261.23" cy="217.03" r="1.2" fill="#f07a83"/>
<circle cx="261.58" cy="217.89" r="1.2" fill="#f07a83"/>
<circle cx="259.44" cy="219.61" r="1.2" fill="#f07a83"/>
<circle cx="260.09" cy="221.32" r="1.2" fill="#f07a83"/>
<circle cx="257.38" cy="224.76" r="1.2" fill="#f07a83"/>
<circle cx="256.7" cy="228.19" r="1.2" fill="#f07a83"/>
<circle cx="257.99" cy="229.9" r="1.2" fill="#f07a83"/>
<line x1="259.2" y1="223.9" x2="259.2" y2="218.75" stroke="#f07a83" stroke-width="0.8"/>
<line x1="257.2" y1="223.9" x2="261.2" y2="223.9" stroke="#f07a83" stroke-width="0.8"/>
<line x1="257.2" y1="218.75" x2="261.2" y2="218.75" stroke="#f07a83" stroke-width="0.8"/>
<rect x="266.9" y="234.19" width="5.4" height="6.01" fill="#fff" stroke="#a51d24" stroke-width="1.4"/>
<circle cx="269.17" cy="224.76" r="1.2" fill="#a51d24"/>
<circle cx="272.11" cy="226.47" r="1.2" fill="#a51d24"/>
<circle cx="267.75" cy="228.19" r="1.2" fill="#a51d24"/>
<circle cx="266.97" cy="234.19" r="1.2" fill="#a51d24"/>
<circle cx="271.25" cy="235.91" r="1.2" fill="#a51d24"/>
<circle cx="270.26" cy="236.77" r="1.2" fill="#a51d24"/>
<circle cx="270.67" cy="238.48" r="1.2" fill="#a51d24"/>
<circle cx="268.26" cy="235.05" r="1.2" fill="#a51d24"/>
<line x1="269.6" y1="235.91" x2="269.6" y2="232.48" stroke="#a51d24" stroke-width="0.8"/>
<line x1="267.6" y1="235.91" x2="271.6" y2="235.91" stroke="#a51d24" stroke-width="0.8"/>
<line x1="267.6" y1="232.48" x2="271.6" y2="232.48" stroke="#a51d24" stroke-width="0.8"/>
<rect x="277.1" y="215.75" width="5.4" height="24.45" fill="#fff" stroke="#8cb3e1" stroke-width="1.4"/>
<circle cx="279.7" cy="208.02" r="1.2" fill="#8cb3e1"/>
<circle cx="280.97" cy="212.74" r="1.2" fill="#8cb3e1"/>
<circle cx="278.44" cy="216.18" r="1.2" fill="#8cb3e1"/>
<circle cx="277.79" cy="217.89" r="1.2" fill="#8cb3e1"/>
<circle cx="280.09" cy="218.75" r="1.2" fill="#8cb3e1"/>
<circle cx="281.72" cy="220.47" r="1.2" fill="#8cb3e1"/>
<circle cx="282.64" cy="223.04" r="1.2" fill="#8cb3e1"/>
<circle cx="277.29" cy="217.03" r="1.2" fill="#8cb3e1"/>
<line x1="279.8" y1="217.46" x2="279.8" y2="214.03" stroke="#8cb3e1" stroke-width="0.8"/>
<line x1="277.8" y1="217.46" x2="281.8" y2="217.46" stroke="#8cb3e1" stroke-width="0.8"/>
<line x1="277.8" y1="214.03" x2="281.8" y2="214.03" stroke="#8cb3e1" stroke-width="0.8"/>
<rect x="287.5" y="227.33" width="5.4" height="12.87" fill="#fff" stroke="#274d8c" stroke-width="1.4"/>
<circle cx="287.38" cy="221.32" r="1.2" fill="#274d8c"/>
<circle cx="288.53" cy="223.04" r="1.2" fill="#274d8c"/>
<circle cx="292.68" cy="223.9" r="1.2" fill="#274d8c"/>
<circle cx="289.77" cy="225.61" r="1.2" fill="#274d8c"/>
<circle cx="290.68" cy="227.33" r="1.2" fill="#274d8c"/>
<circle cx="289.14" cy="228.19" r="1.2" fill="#274d8c"/>
<circle cx="290.77" cy="229.9" r="1.2" fill="#274d8c"/>
<circle cx="292.47" cy="239.34" r="1.2" fill="#274d8c"/>
<circle cx="288.22" cy="226.47" r="1.2" fill="#274d8c"/>
<circle cx="291.42" cy="224.76" r="1.2" fill="#274d8c"/>
<line x1="290.2" y1="229.05" x2="290.2" y2="225.61" stroke="#274d8c" stroke-width="0.8"/>
<line x1="288.2" y1="229.05" x2="292.2" y2="229.05" stroke="#274d8c" stroke-width="0.8"/>
<line x1="288.2" y1="225.61" x2="292.2" y2="225.61" stroke="#274d8c" stroke-width="0.8"/>
<circle cx="232.4" cy="147.6" r="1.3" fill="#f07a83"/>
<g><text x="239.7" y="150.05" font-size="7" xml:space="preserve">SED</text><circle cx="257.31" cy="146.55" r="1.54" fill="none" stroke="#161616" stroke-width="0.67"/><path d="M257.31 148.09V151.03M256.05 149.7H258.57" stroke="#161616" stroke-width="0.67" fill="none"/></g>
<circle cx="232.4" cy="155.7" r="1.3" fill="#a51d24"/>
<g><text x="239.7" y="158.15" font-size="7" xml:space="preserve">EXE</text><circle cx="256.93" cy="154.65" r="1.54" fill="none" stroke="#161616" stroke-width="0.67"/><path d="M256.93 156.19V159.13M255.67 157.8H258.19" stroke="#161616" stroke-width="0.67" fill="none"/></g>
<circle cx="267.5" cy="147.6" r="1.3" fill="#8cb3e1"/>
<g><text x="274.8" y="150.05" font-size="7" xml:space="preserve">SED</text><circle cx="291.99" cy="148.65" r="1.4" fill="none" stroke="#161616" stroke-width="0.67"/><path d="M293 147.64L295.07 145.29M293.53 145.29H295.07V146.83" stroke="#161616" stroke-width="0.67" fill="none"/></g>
<circle cx="267.5" cy="155.7" r="1.3" fill="#274d8c"/>
<g><text x="274.8" y="158.15" font-size="7" xml:space="preserve">EXE</text><circle cx="291.61" cy="156.75" r="1.4" fill="none" stroke="#161616" stroke-width="0.67"/><path d="M292.62 155.74L294.69 153.39M293.15 153.39H294.69V154.93" stroke="#161616" stroke-width="0.67" fill="none"/></g>
<text x="264.3" y="178.97" text-anchor="middle" fill="#333" font-size="6.2"><tspan font-style="italic">P</tspan>=0.003</text>
<polyline points="258.5,184 258.5,181 269.8,181 269.8,184" fill="none" stroke="#333" stroke-width="0.8"/>
<text x="285" y="190.17" text-anchor="middle" fill="#333" font-size="6.2"><tspan font-style="italic">P</tspan>=0.048</text>
<polyline points="279.5,196.5 279.5,193.3 291.4,193.3 291.4,196.5" fill="none" stroke="#333" stroke-width="0.8"/>
<text x="335.3" y="142.9" font-weight="bold" fill="#000" font-size="15.5">f</text>
<line x1="361.5" y1="154.4" x2="361.5" y2="240" stroke="#3c3c3c" stroke-width="1"/>
<line x1="359" y1="240" x2="361.5" y2="240" stroke="#3c3c3c" stroke-width="1"/>
<text x="357.8" y="242.97" text-anchor="end">0</text>
<line x1="359" y1="222.88" x2="361.5" y2="222.88" stroke="#3c3c3c" stroke-width="1"/>
<text x="357.8" y="225.85" text-anchor="end">10</text>
<line x1="359" y1="205.76" x2="361.5" y2="205.76" stroke="#3c3c3c" stroke-width="1"/>
<text x="357.8" y="208.73" text-anchor="end">20</text>
<line x1="359" y1="188.64" x2="361.5" y2="188.64" stroke="#3c3c3c" stroke-width="1"/>
<text x="357.8" y="191.61" text-anchor="end">30</text>
<line x1="359" y1="171.52" x2="361.5" y2="171.52" stroke="#3c3c3c" stroke-width="1"/>
<text x="357.8" y="174.49" text-anchor="end">40</text>
<line x1="359" y1="154.4" x2="361.5" y2="154.4" stroke="#3c3c3c" stroke-width="1"/>
<text x="357.8" y="157.38" text-anchor="end">50</text>
<line x1="361.5" y1="240" x2="455.6" y2="240" stroke="#3c3c3c" stroke-width="1"/>
<line x1="384.6" y1="240" x2="384.6" y2="242.5" stroke="#3c3c3c" stroke-width="1"/>
<line x1="433" y1="240" x2="433" y2="242.5" stroke="#3c3c3c" stroke-width="1"/>
<text x="384.6" y="251.2" text-anchor="middle" font-size="8.6">14 mo</text>
<text x="432.5" y="251.2" text-anchor="middle" font-size="8.6">24 mo</text>
<text x="345" y="201" text-anchor="middle" font-size="8.6" transform="rotate(-90 345 201)">Lean mass (g)</text>
<rect x="365.8" y="205.76" width="5.4" height="34.24" fill="#fff" stroke="#f07a83" stroke-width="1.4"/>
<circle cx="368.87" cy="205.74" r="1.2" fill="#f07a83"/>
<circle cx="370.84" cy="205.4" r="1.2" fill="#f07a83"/>
<circle cx="366.55" cy="210.88" r="1.2" fill="#f07a83"/>
<circle cx="367.27" cy="206.27" r="1.2" fill="#f07a83"/>
<circle cx="366.19" cy="203.2" r="1.2" fill="#f07a83"/>
<circle cx="367.94" cy="207.67" r="1.2" fill="#f07a83"/>
<circle cx="366.89" cy="205.41" r="1.2" fill="#f07a83"/>
<circle cx="368.25" cy="203.31" r="1.2" fill="#f07a83"/>
<circle cx="368.5" cy="203.51" r="1.2" fill="#f07a83"/>
<circle cx="369.19" cy="202.21" r="1.2" fill="#f07a83"/>
<circle cx="370.2" cy="208.77" r="1.2" fill="#f07a83"/>
<circle cx="369.52" cy="206" r="1.2" fill="#f07a83"/>
<circle cx="371.14" cy="205.97" r="1.2" fill="#f07a83"/>
<circle cx="367.2" cy="203.99" r="1.2" fill="#f07a83"/>
<circle cx="370.25" cy="203.03" r="1.2" fill="#f07a83"/>
<circle cx="367.97" cy="210.78" r="1.2" fill="#f07a83"/>
<line x1="368.5" y1="206.44" x2="368.5" y2="205.08" stroke="#f07a83" stroke-width="0.8"/>
<line x1="366.5" y1="206.44" x2="370.5" y2="206.44" stroke="#f07a83" stroke-width="0.8"/>
<line x1="366.5" y1="205.08" x2="370.5" y2="205.08" stroke="#f07a83" stroke-width="0.8"/>
<rect x="376.2" y="202.34" width="5.4" height="37.66" fill="#fff" stroke="#a51d24" stroke-width="1.4"/>
<circle cx="377.54" cy="205.32" r="1.2" fill="#a51d24"/>
<circle cx="378.52" cy="206.46" r="1.2" fill="#a51d24"/>
<circle cx="380.2" cy="199.43" r="1.2" fill="#a51d24"/>
<circle cx="377.85" cy="200.77" r="1.2" fill="#a51d24"/>
<circle cx="376.46" cy="198.9" r="1.2" fill="#a51d24"/>
<circle cx="379.36" cy="205.09" r="1.2" fill="#a51d24"/>
<circle cx="381.29" cy="202.68" r="1.2" fill="#a51d24"/>
<circle cx="379.98" cy="205.61" r="1.2" fill="#a51d24"/>
<circle cx="379.82" cy="200.72" r="1.2" fill="#a51d24"/>
<circle cx="378.56" cy="198.6" r="1.2" fill="#a51d24"/>
<circle cx="379.41" cy="204.97" r="1.2" fill="#a51d24"/>
<circle cx="380.94" cy="198.68" r="1.2" fill="#a51d24"/>
<circle cx="376.23" cy="200.15" r="1.2" fill="#a51d24"/>
<circle cx="381.15" cy="203.14" r="1.2" fill="#a51d24"/>
<circle cx="377.22" cy="207.75" r="1.2" fill="#a51d24"/>
<circle cx="377.78" cy="199.07" r="1.2" fill="#a51d24"/>
<line x1="378.9" y1="203.19" x2="378.9" y2="201.48" stroke="#a51d24" stroke-width="0.8"/>
<line x1="376.9" y1="203.19" x2="380.9" y2="203.19" stroke="#a51d24" stroke-width="0.8"/>
<line x1="376.9" y1="201.48" x2="380.9" y2="201.48" stroke="#a51d24" stroke-width="0.8"/>
<rect x="387.3" y="193.78" width="5.4" height="46.22" fill="#fff" stroke="#8cb3e1" stroke-width="1.4"/>
<circle cx="390.44" cy="192.72" r="1.2" fill="#8cb3e1"/>
<circle cx="389.67" cy="197.85" r="1.2" fill="#8cb3e1"/>
<circle cx="391.55" cy="194.84" r="1.2" fill="#8cb3e1"/>
<circle cx="388.62" cy="196.4" r="1.2" fill="#8cb3e1"/>
<circle cx="389.05" cy="197.16" r="1.2" fill="#8cb3e1"/>
<circle cx="389.56" cy="192.88" r="1.2" fill="#8cb3e1"/>
<circle cx="392.03" cy="191.39" r="1.2" fill="#8cb3e1"/>
<circle cx="387.4" cy="193.32" r="1.2" fill="#8cb3e1"/>
<circle cx="387.89" cy="190.6" r="1.2" fill="#8cb3e1"/>
<circle cx="390.99" cy="189.87" r="1.2" fill="#8cb3e1"/>
<circle cx="390.21" cy="189.28" r="1.2" fill="#8cb3e1"/>
<circle cx="392.29" cy="195.56" r="1.2" fill="#8cb3e1"/>
<circle cx="392.54" cy="195.82" r="1.2" fill="#8cb3e1"/>
<circle cx="388.24" cy="195.18" r="1.2" fill="#8cb3e1"/>
<line x1="390" y1="194.63" x2="390" y2="192.92" stroke="#8cb3e1" stroke-width="0.8"/>
<line x1="388" y1="194.63" x2="392" y2="194.63" stroke="#8cb3e1" stroke-width="0.8"/>
<line x1="388" y1="192.92" x2="392" y2="192.92" stroke="#8cb3e1" stroke-width="0.8"/>
<rect x="397.8" y="196.34" width="5.4" height="43.66" fill="#fff" stroke="#274d8c" stroke-width="1.4"/>
<circle cx="400.81" cy="203.8" r="1.2" fill="#274d8c"/>
<circle cx="400.77" cy="194.6" r="1.2" fill="#274d8c"/>
<circle cx="400.16" cy="197.91" r="1.2" fill="#274d8c"/>
<circle cx="398.05" cy="202.37" r="1.2" fill="#274d8c"/>
<circle cx="400.28" cy="193.24" r="1.2" fill="#274d8c"/>
<circle cx="403.01" cy="196.66" r="1.2" fill="#274d8c"/>
<circle cx="398.23" cy="203.35" r="1.2" fill="#274d8c"/>
<circle cx="399.21" cy="198.71" r="1.2" fill="#274d8c"/>
<circle cx="402.14" cy="194.72" r="1.2" fill="#274d8c"/>
<circle cx="399.56" cy="197.29" r="1.2" fill="#274d8c"/>
<circle cx="401.26" cy="193.05" r="1.2" fill="#274d8c"/>
<circle cx="401.67" cy="193.16" r="1.2" fill="#274d8c"/>
<circle cx="398.74" cy="193.44" r="1.2" fill="#274d8c"/>
<circle cx="401.97" cy="194.6" r="1.2" fill="#274d8c"/>
<circle cx="402.74" cy="191.15" r="1.2" fill="#274d8c"/>
<circle cx="398.84" cy="193.46" r="1.2" fill="#274d8c"/>
<line x1="400.5" y1="197.37" x2="400.5" y2="195.32" stroke="#274d8c" stroke-width="0.8"/>
<line x1="398.5" y1="197.37" x2="402.5" y2="197.37" stroke="#274d8c" stroke-width="0.8"/>
<line x1="398.5" y1="195.32" x2="402.5" y2="195.32" stroke="#274d8c" stroke-width="0.8"/>
<rect x="414.6" y="205.76" width="5.4" height="34.24" fill="#fff" stroke="#f07a83" stroke-width="1.4"/>
<circle cx="417.69" cy="205.54" r="1.2" fill="#f07a83"/>
<circle cx="414.74" cy="206.35" r="1.2" fill="#f07a83"/>
<circle cx="418.4" cy="205.33" r="1.2" fill="#f07a83"/>
<circle cx="419.03" cy="206.67" r="1.2" fill="#f07a83"/>
<circle cx="416.8" cy="205.78" r="1.2" fill="#f07a83"/>
<circle cx="415.64" cy="206.59" r="1.2" fill="#f07a83"/>
<circle cx="419.68" cy="206.6" r="1.2" fill="#f07a83"/>
<circle cx="416.44" cy="203.24" r="1.2" fill="#f07a83"/>
<line x1="417.3" y1="206.44" x2="417.3" y2="205.08" stroke="#f07a83" stroke-width="0.8"/>
<line x1="415.3" y1="206.44" x2="419.3" y2="206.44" stroke="#f07a83" stroke-width="0.8"/>
<line x1="415.3" y1="205.08" x2="419.3" y2="205.08" stroke="#f07a83" stroke-width="0.8"/>
<rect x="425.1" y="200.62" width="5.4" height="39.38" fill="#fff" stroke="#a51d24" stroke-width="1.4"/>
<circle cx="428.96" cy="201.52" r="1.2" fill="#a51d24"/>
<circle cx="427.91" cy="201.1" r="1.2" fill="#a51d24"/>
<circle cx="426.83" cy="200.12" r="1.2" fill="#a51d24"/>
<circle cx="430.25" cy="200.63" r="1.2" fill="#a51d24"/>
<circle cx="425.96" cy="202.61" r="1.2" fill="#a51d24"/>
<circle cx="429.67" cy="202.39" r="1.2" fill="#a51d24"/>
<circle cx="425.23" cy="201.57" r="1.2" fill="#a51d24"/>
<circle cx="426.18" cy="200.43" r="1.2" fill="#a51d24"/>
<circle cx="427.42" cy="194.89" r="1.2" fill="#a51d24"/>
<circle cx="428.37" cy="200.99" r="1.2" fill="#a51d24"/>
<line x1="427.8" y1="201.48" x2="427.8" y2="199.77" stroke="#a51d24" stroke-width="0.8"/>
<line x1="425.8" y1="201.48" x2="429.8" y2="201.48" stroke="#a51d24" stroke-width="0.8"/>
<line x1="425.8" y1="199.77" x2="429.8" y2="199.77" stroke="#a51d24" stroke-width="0.8"/>
<rect x="435.6" y="199.77" width="5.4" height="40.23" fill="#fff" stroke="#8cb3e1" stroke-width="1.4"/>
<circle cx="435.84" cy="199.83" r="1.2" fill="#8cb3e1"/>
<circle cx="436.75" cy="199.65" r="1.2" fill="#8cb3e1"/>
<circle cx="437.1" cy="199.97" r="1.2" fill="#8cb3e1"/>
<circle cx="441.07" cy="201.13" r="1.2" fill="#8cb3e1"/>
<circle cx="438.79" cy="199.4" r="1.2" fill="#8cb3e1"/>
<circle cx="438.01" cy="198.75" r="1.2" fill="#8cb3e1"/>
<circle cx="439.34" cy="199.39" r="1.2" fill="#8cb3e1"/>
<circle cx="440.04" cy="200.03" r="1.2" fill="#8cb3e1"/>
<line x1="438.3" y1="200.28" x2="438.3" y2="199.25" stroke="#8cb3e1" stroke-width="0.8"/>
<line x1="436.3" y1="200.28" x2="440.3" y2="200.28" stroke="#8cb3e1" stroke-width="0.8"/>
<line x1="436.3" y1="199.25" x2="440.3" y2="199.25" stroke="#8cb3e1" stroke-width="0.8"/>
<rect x="446.2" y="196.34" width="5.4" height="43.66" fill="#fff" stroke="#274d8c" stroke-width="1.4"/>
<circle cx="451.75" cy="196.46" r="1.2" fill="#274d8c"/>
<circle cx="448.69" cy="197.17" r="1.2" fill="#274d8c"/>
<circle cx="446.64" cy="194.26" r="1.2" fill="#274d8c"/>
<circle cx="449.41" cy="195.99" r="1.2" fill="#274d8c"/>
<circle cx="450.89" cy="197.61" r="1.2" fill="#274d8c"/>
<circle cx="447.65" cy="196.24" r="1.2" fill="#274d8c"/>
<circle cx="450.24" cy="193.88" r="1.2" fill="#274d8c"/>
<circle cx="450" cy="195.4" r="1.2" fill="#274d8c"/>
<circle cx="447.25" cy="195.29" r="1.2" fill="#274d8c"/>
<circle cx="449.6" cy="199.98" r="1.2" fill="#274d8c"/>
<circle cx="446.15" cy="197.9" r="1.2" fill="#274d8c"/>
<circle cx="448.2" cy="195.94" r="1.2" fill="#274d8c"/>
<line x1="448.9" y1="197.03" x2="448.9" y2="195.66" stroke="#274d8c" stroke-width="0.8"/>
<line x1="446.9" y1="197.03" x2="450.9" y2="197.03" stroke="#274d8c" stroke-width="0.8"/>
<line x1="446.9" y1="195.66" x2="450.9" y2="195.66" stroke="#274d8c" stroke-width="0.8"/>
<circle cx="390.5" cy="147.4" r="1.3" fill="#f07a83"/>
<g><text x="397.8" y="149.85" font-size="7" xml:space="preserve">SED</text><circle cx="415.41" cy="146.35" r="1.54" fill="none" stroke="#161616" stroke-width="0.67"/><path d="M415.41 147.89V150.83M414.15 149.5H416.67" stroke="#161616" stroke-width="0.67" fill="none"/></g>
<circle cx="390.5" cy="155.7" r="1.3" fill="#a51d24"/>
<g><text x="397.8" y="158.15" font-size="7" xml:space="preserve">EXE</text><circle cx="415.03" cy="154.65" r="1.54" fill="none" stroke="#161616" stroke-width="0.67"/><path d="M415.03 156.19V159.13M413.77 157.8H416.29" stroke="#161616" stroke-width="0.67" fill="none"/></g>
<circle cx="425.7" cy="147.4" r="1.3" fill="#8cb3e1"/>
<g><text x="433" y="149.85" font-size="7" xml:space="preserve">SED</text><circle cx="450.19" cy="148.45" r="1.4" fill="none" stroke="#161616" stroke-width="0.67"/><path d="M451.2 147.44L453.27 145.09M451.73 145.09H453.27V146.63" stroke="#161616" stroke-width="0.67" fill="none"/></g>
<circle cx="425.7" cy="155.7" r="1.3" fill="#274d8c"/>
<g><text x="433" y="158.15" font-size="7" xml:space="preserve">EXE</text><circle cx="449.81" cy="156.75" r="1.4" fill="none" stroke="#161616" stroke-width="0.67"/><path d="M450.82 155.74L452.89 153.39M451.35 153.39H452.89V154.93" stroke="#161616" stroke-width="0.67" fill="none"/></g>
<text x="373.7" y="179.67" text-anchor="middle" fill="#333" font-size="6.2"><tspan font-style="italic">P</tspan>=0.047</text>
<polyline points="367.6,186 367.6,182.3 379.4,182.3 379.4,186" fill="none" stroke="#333" stroke-width="0.8"/>
<text x="422.2" y="179.67" text-anchor="middle" fill="#333" font-size="6.2"><tspan font-style="italic">P</tspan>=0.007</text>
<polyline points="416.7,186 416.7,182.3 428.5,182.3 428.5,186" fill="none" stroke="#333" stroke-width="0.8"/>
<text x="442.7" y="167.87" text-anchor="middle" fill="#333" font-size="6.2"><tspan font-style="italic">P</tspan>=0.035</text>
<polyline points="436.4,174.4 436.4,171 448.2,171 448.2,174.4" fill="none" stroke="#333" stroke-width="0.8"/>
<line x1="562.7" y1="145.3" x2="562.7" y2="231.7" stroke="#3c3c3c" stroke-width="1"/>
<line x1="560.2" y1="231.7" x2="562.7" y2="231.7" stroke="#3c3c3c" stroke-width="1"/>
<text x="559" y="234.67" text-anchor="end">0</text>
<line x1="560.2" y1="202.9" x2="562.7" y2="202.9" stroke="#3c3c3c" stroke-width="1"/>
<text x="559" y="205.88" text-anchor="end">10000</text>
<line x1="560.2" y1="174.1" x2="562.7" y2="174.1" stroke="#3c3c3c" stroke-width="1"/>
<text x="559" y="177.07" text-anchor="end">20000</text>
<line x1="560.2" y1="145.3" x2="562.7" y2="145.3" stroke="#3c3c3c" stroke-width="1"/>
<text x="559" y="148.28" text-anchor="end">30000</text>
<line x1="562.7" y1="231.7" x2="661.5" y2="231.7" stroke="#3c3c3c" stroke-width="1"/>
<line x1="586.4" y1="231.7" x2="586.4" y2="234.2" stroke="#3c3c3c" stroke-width="1"/>
<line x1="637.2" y1="231.7" x2="637.2" y2="234.2" stroke="#3c3c3c" stroke-width="1"/>
<text x="586.4" y="243.2" text-anchor="middle" font-size="8.6">14 mo</text>
<text x="637.2" y="243.2" text-anchor="middle" font-size="8.6">20 mo</text>
<text x="530" y="188.5" text-anchor="middle" font-size="8.6" transform="rotate(-90 530 188.5)">Wheel acitivity (counts/d)</text>
<rect x="567" y="194.55" width="5.8" height="37.15" fill="#fff" stroke="#f07a83" stroke-width="1.4"/>
<circle cx="571.35" cy="176.61" r="1.2" fill="#f07a83"/>
<circle cx="570.08" cy="180.95" r="1.2" fill="#f07a83"/>
<circle cx="568.47" cy="192.19" r="1.2" fill="#f07a83"/>
<circle cx="568.74" cy="194.6" r="1.2" fill="#f07a83"/>
<circle cx="572.29" cy="196.21" r="1.2" fill="#f07a83"/>
<circle cx="572.83" cy="197.81" r="1.2" fill="#f07a83"/>
<circle cx="570.6" cy="199.42" r="1.2" fill="#f07a83"/>
<circle cx="569.83" cy="201.83" r="1.2" fill="#f07a83"/>
<circle cx="567.95" cy="207.45" r="1.2" fill="#f07a83"/>
<circle cx="567.24" cy="195.4" r="1.2" fill="#f07a83"/>
<line x1="569.9" y1="196.85" x2="569.9" y2="192.24" stroke="#f07a83" stroke-width="0.8"/>
<line x1="567.9" y1="196.85" x2="571.9" y2="196.85" stroke="#f07a83" stroke-width="0.8"/>
<line x1="567.9" y1="192.24" x2="571.9" y2="192.24" stroke="#f07a83" stroke-width="0.8"/>
<rect x="577.7" y="198.58" width="5.8" height="33.12" fill="#fff" stroke="#a51d24" stroke-width="1.4"/>
<circle cx="579.09" cy="175.33" r="1.2" fill="#a51d24"/>
<circle cx="580.65" cy="187.37" r="1.2" fill="#a51d24"/>
<circle cx="582.2" cy="189.78" r="1.2" fill="#a51d24"/>
<circle cx="578.33" cy="191.39" r="1.2" fill="#a51d24"/>
<circle cx="582.42" cy="193.8" r="1.2" fill="#a51d24"/>
<circle cx="580.1" cy="195.4" r="1.2" fill="#a51d24"/>
<circle cx="579.3" cy="197.01" r="1.2" fill="#a51d24"/>
<circle cx="579.7" cy="198.62" r="1.2" fill="#a51d24"/>
<circle cx="577.79" cy="200.22" r="1.2" fill="#a51d24"/>
<circle cx="582.4" cy="202.63" r="1.2" fill="#a51d24"/>
<circle cx="583.52" cy="205.84" r="1.2" fill="#a51d24"/>
<circle cx="580.98" cy="210.66" r="1.2" fill="#a51d24"/>
<circle cx="581.7" cy="213.87" r="1.2" fill="#a51d24"/>
<circle cx="579.31" cy="216.28" r="1.2" fill="#a51d24"/>
<circle cx="578.67" cy="196.21" r="1.2" fill="#a51d24"/>
<circle cx="582.97" cy="197.81" r="1.2" fill="#a51d24"/>
<circle cx="580.98" cy="201.02" r="1.2" fill="#a51d24"/>
<line x1="580.6" y1="201.17" x2="580.6" y2="195.99" stroke="#a51d24" stroke-width="0.8"/>
<line x1="578.6" y1="201.17" x2="582.6" y2="201.17" stroke="#a51d24" stroke-width="0.8"/>
<line x1="578.6" y1="195.99" x2="582.6" y2="195.99" stroke="#a51d24" stroke-width="0.8"/>
<rect x="588.5" y="225.94" width="5.8" height="5.76" fill="#fff" stroke="#8cb3e1" stroke-width="1.4"/>
<circle cx="594.27" cy="207.45" r="1.2" fill="#8cb3e1"/>
<circle cx="591" cy="213.07" r="1.2" fill="#8cb3e1"/>
<circle cx="590.42" cy="217.08" r="1.2" fill="#8cb3e1"/>
<circle cx="588.89" cy="223.51" r="1.2" fill="#8cb3e1"/>
<circle cx="593.18" cy="227.52" r="1.2" fill="#8cb3e1"/>
<circle cx="591.94" cy="229.93" r="1.2" fill="#8cb3e1"/>
<circle cx="592.4" cy="231.54" r="1.2" fill="#8cb3e1"/>
<circle cx="589.55" cy="226.72" r="1.2" fill="#8cb3e1"/>
<line x1="591.4" y1="228.24" x2="591.4" y2="223.64" stroke="#8cb3e1" stroke-width="0.8"/>
<line x1="589.4" y1="228.24" x2="593.4" y2="228.24" stroke="#8cb3e1" stroke-width="0.8"/>
<line x1="589.4" y1="223.64" x2="593.4" y2="223.64" stroke="#8cb3e1" stroke-width="0.8"/>
<rect x="599.6" y="220.18" width="5.8" height="11.52" fill="#fff" stroke="#274d8c" stroke-width="1.4"/>
<circle cx="605.29" cy="209.05" r="1.2" fill="#274d8c"/>
<circle cx="603.3" cy="210.66" r="1.2" fill="#274d8c"/>
<circle cx="601.47" cy="212.27" r="1.2" fill="#274d8c"/>
<circle cx="600.45" cy="213.87" r="1.2" fill="#274d8c"/>
<circle cx="604.14" cy="215.48" r="1.2" fill="#274d8c"/>
<circle cx="602.6" cy="217.08" r="1.2" fill="#274d8c"/>
<circle cx="602.33" cy="218.69" r="1.2" fill="#274d8c"/>
<circle cx="600.79" cy="220.3" r="1.2" fill="#274d8c"/>
<circle cx="599.9" cy="221.9" r="1.2" fill="#274d8c"/>
<circle cx="601.01" cy="223.51" r="1.2" fill="#274d8c"/>
<circle cx="603.16" cy="225.11" r="1.2" fill="#274d8c"/>
<circle cx="602.32" cy="226.72" r="1.2" fill="#274d8c"/>
<circle cx="600.41" cy="228.33" r="1.2" fill="#274d8c"/>
<circle cx="601.85" cy="229.93" r="1.2" fill="#274d8c"/>
<circle cx="604.09" cy="219.49" r="1.2" fill="#274d8c"/>
<circle cx="604.63" cy="221.1" r="1.2" fill="#274d8c"/>
<circle cx="604.52" cy="217.89" r="1.2" fill="#274d8c"/>
<line x1="602.5" y1="221.62" x2="602.5" y2="218.74" stroke="#274d8c" stroke-width="0.8"/>
<line x1="600.5" y1="221.62" x2="604.5" y2="221.62" stroke="#274d8c" stroke-width="0.8"/>
<line x1="600.5" y1="218.74" x2="604.5" y2="218.74" stroke="#274d8c" stroke-width="0.8"/>
<rect x="617.7" y="205.78" width="5.8" height="25.92" fill="#fff" stroke="#f07a83" stroke-width="1.4"/>
<circle cx="621.59" cy="184.97" r="1.2" fill="#f07a83"/>
<circle cx="619.7" cy="201.83" r="1.2" fill="#f07a83"/>
<circle cx="618.48" cy="203.43" r="1.2" fill="#f07a83"/>
<circle cx="622.59" cy="205.04" r="1.2" fill="#f07a83"/>
<circle cx="623.11" cy="207.45" r="1.2" fill="#f07a83"/>
<circle cx="617.89" cy="209.05" r="1.2" fill="#f07a83"/>
<circle cx="620.48" cy="211.46" r="1.2" fill="#f07a83"/>
<circle cx="620.77" cy="204.24" r="1.2" fill="#f07a83"/>
<line x1="620.6" y1="208.37" x2="620.6" y2="203.19" stroke="#f07a83" stroke-width="0.8"/>
<line x1="618.6" y1="208.37" x2="622.6" y2="208.37" stroke="#f07a83" stroke-width="0.8"/>
<line x1="618.6" y1="203.19" x2="622.6" y2="203.19" stroke="#f07a83" stroke-width="0.8"/>
<rect x="628.4" y="204.05" width="5.8" height="27.65" fill="#fff" stroke="#a51d24" stroke-width="1.4"/>
<circle cx="628.29" cy="188.98" r="1.2" fill="#a51d24"/>
<circle cx="631.91" cy="193.8" r="1.2" fill="#a51d24"/>
<circle cx="634.02" cy="195.4" r="1.2" fill="#a51d24"/>
<circle cx="630.36" cy="200.22" r="1.2" fill="#a51d24"/>
<circle cx="632.69" cy="204.24" r="1.2" fill="#a51d24"/>
<circle cx="629.57" cy="207.45" r="1.2" fill="#a51d24"/>
<circle cx="631.51" cy="212.27" r="1.2" fill="#a51d24"/>
<circle cx="629.07" cy="217.08" r="1.2" fill="#a51d24"/>
<circle cx="631.2" cy="220.3" r="1.2" fill="#a51d24"/>
<circle cx="633.12" cy="202.63" r="1.2" fill="#a51d24"/>
<line x1="631.3" y1="207.51" x2="631.3" y2="200.6" stroke="#a51d24" stroke-width="0.8"/>
<line x1="629.3" y1="207.51" x2="633.3" y2="207.51" stroke="#a51d24" stroke-width="0.8"/>
<line x1="629.3" y1="200.6" x2="633.3" y2="200.6" stroke="#a51d24" stroke-width="0.8"/>
<rect x="639.8" y="212.4" width="5.8" height="19.3" fill="#fff" stroke="#8cb3e1" stroke-width="1.4"/>
<circle cx="641.13" cy="184.97" r="1.2" fill="#8cb3e1"/>
<circle cx="644.39" cy="201.83" r="1.2" fill="#8cb3e1"/>
<circle cx="643.53" cy="205.84" r="1.2" fill="#8cb3e1"/>
<circle cx="639.91" cy="212.27" r="1.2" fill="#8cb3e1"/>
<circle cx="643" cy="220.3" r="1.2" fill="#8cb3e1"/>
<circle cx="641.85" cy="223.51" r="1.2" fill="#8cb3e1"/>
<circle cx="645.34" cy="226.72" r="1.2" fill="#8cb3e1"/>
<line x1="642.7" y1="216.72" x2="642.7" y2="208.08" stroke="#8cb3e1" stroke-width="0.8"/>
<line x1="640.7" y1="216.72" x2="644.7" y2="216.72" stroke="#8cb3e1" stroke-width="0.8"/>
<line x1="640.7" y1="208.08" x2="644.7" y2="208.08" stroke="#8cb3e1" stroke-width="0.8"/>
<rect x="651" y="213.27" width="5.8" height="18.43" fill="#fff" stroke="#274d8c" stroke-width="1.4"/>
<circle cx="654.91" cy="188.98" r="1.2" fill="#274d8c"/>
<circle cx="652.32" cy="193" r="1.2" fill="#274d8c"/>
<circle cx="654.27" cy="196.21" r="1.2" fill="#274d8c"/>
<circle cx="654.7" cy="201.02" r="1.2" fill="#274d8c"/>
<circle cx="651.97" cy="205.04" r="1.2" fill="#274d8c"/>
<circle cx="652.99" cy="209.05" r="1.2" fill="#274d8c"/>
<circle cx="656.78" cy="212.27" r="1.2" fill="#274d8c"/>
<circle cx="655.31" cy="215.48" r="1.2" fill="#274d8c"/>
<circle cx="651.82" cy="218.69" r="1.2" fill="#274d8c"/>
<circle cx="655.82" cy="221.9" r="1.2" fill="#274d8c"/>
<circle cx="651" cy="226.72" r="1.2" fill="#274d8c"/>
<circle cx="652.6" cy="231.54" r="1.2" fill="#274d8c"/>
<circle cx="656.46" cy="213.87" r="1.2" fill="#274d8c"/>
<circle cx="653.64" cy="217.08" r="1.2" fill="#274d8c"/>
<line x1="653.9" y1="216.44" x2="653.9" y2="210.1" stroke="#274d8c" stroke-width="0.8"/>
<line x1="651.9" y1="216.44" x2="655.9" y2="216.44" stroke="#274d8c" stroke-width="0.8"/>
<line x1="651.9" y1="210.1" x2="655.9" y2="210.1" stroke="#274d8c" stroke-width="0.8"/>
<circle cx="598" cy="145.3" r="1.3" fill="#f07a83"/>
<g><text x="605.2" y="147.75" font-size="7" xml:space="preserve">SED</text><circle cx="622.81" cy="144.25" r="1.54" fill="none" stroke="#161616" stroke-width="0.67"/><path d="M622.81 145.79V148.73M621.55 147.4H624.07" stroke="#161616" stroke-width="0.67" fill="none"/></g>
<circle cx="598" cy="154.7" r="1.3" fill="#a51d24"/>
<g><text x="605.2" y="157.15" font-size="7" xml:space="preserve">EXE</text><circle cx="622.43" cy="153.65" r="1.54" fill="none" stroke="#161616" stroke-width="0.67"/><path d="M622.43 155.19V158.13M621.17 156.8H623.69" stroke="#161616" stroke-width="0.67" fill="none"/></g>
<circle cx="632.2" cy="145.3" r="1.3" fill="#8cb3e1"/>
<g><text x="639.4" y="147.75" font-size="7" xml:space="preserve">SED</text><circle cx="656.59" cy="146.35" r="1.4" fill="none" stroke="#161616" stroke-width="0.67"/><path d="M657.6 145.34L659.67 142.99M658.13 142.99H659.67V144.53" stroke="#161616" stroke-width="0.67" fill="none"/></g>
<circle cx="632.2" cy="154.7" r="1.3" fill="#274d8c"/>
<g><text x="639.4" y="157.15" font-size="7" xml:space="preserve">EXE</text><circle cx="656.21" cy="155.75" r="1.4" fill="none" stroke="#161616" stroke-width="0.67"/><path d="M657.22 154.74L659.29 152.39M657.75 152.39H659.29V153.93" stroke="#161616" stroke-width="0.67" fill="none"/></g>
<text x="12.5" y="279.7" font-weight="bold" fill="#000" font-size="15.5">g</text>
<line x1="26.3" y1="289.9" x2="26.3" y2="374.5" stroke="#6a6a6a" stroke-width="1.2"/>
<line x1="23.8" y1="374.5" x2="26.3" y2="374.5" stroke="#6a6a6a" stroke-width="1.2"/>
<text x="22.6" y="377.48" text-anchor="end">0</text>
<line x1="23.8" y1="357.58" x2="26.3" y2="357.58" stroke="#6a6a6a" stroke-width="1.2"/>
<text x="22.6" y="360.56" text-anchor="end">2</text>
<line x1="23.8" y1="340.66" x2="26.3" y2="340.66" stroke="#6a6a6a" stroke-width="1.2"/>
<text x="22.6" y="343.63" text-anchor="end">4</text>
<line x1="23.8" y1="323.74" x2="26.3" y2="323.74" stroke="#6a6a6a" stroke-width="1.2"/>
<text x="22.6" y="326.72" text-anchor="end">6</text>
<line x1="23.8" y1="306.82" x2="26.3" y2="306.82" stroke="#6a6a6a" stroke-width="1.2"/>
<text x="22.6" y="309.8" text-anchor="end">8</text>
<line x1="23.8" y1="289.9" x2="26.3" y2="289.9" stroke="#6a6a6a" stroke-width="1.2"/>
<text x="22.6" y="292.88" text-anchor="end">10</text>
<line x1="26.3" y1="374.5" x2="170.8" y2="374.5" stroke="#6a6a6a" stroke-width="1.2"/>
<line x1="38.8" y1="374.5" x2="38.8" y2="377" stroke="#6a6a6a" stroke-width="1.2"/>
<text x="38.8" y="385.07" text-anchor="middle">4</text>
<line x1="58.75" y1="374.5" x2="58.75" y2="377" stroke="#6a6a6a" stroke-width="1.2"/>
<text x="58.75" y="385.07" text-anchor="middle">9</text>
<line x1="78.7" y1="374.5" x2="78.7" y2="377" stroke="#6a6a6a" stroke-width="1.2"/>
<text x="78.7" y="385.07" text-anchor="middle">14</text>
<line x1="98.65" y1="374.5" x2="98.65" y2="377" stroke="#6a6a6a" stroke-width="1.2"/>
<text x="98.65" y="385.07" text-anchor="middle">19</text>
<line x1="118.6" y1="374.5" x2="118.6" y2="377" stroke="#6a6a6a" stroke-width="1.2"/>
<text x="118.6" y="385.07" text-anchor="middle">24</text>
<line x1="138.55" y1="374.5" x2="138.55" y2="377" stroke="#6a6a6a" stroke-width="1.2"/>
<text x="138.55" y="385.07" text-anchor="middle">29</text>
<line x1="158.5" y1="374.5" x2="158.5" y2="377" stroke="#6a6a6a" stroke-width="1.2"/>
<text x="158.5" y="385.07" text-anchor="middle">34</text>
<text x="9.5" y="332.4" text-anchor="middle" font-size="8.4" transform="rotate(-90 9.5 332.4)">Fasting blood glucose (mM)</text>
<polyline points="38.8,337.28 58.75,328.82 78.7,322.89 98.65,322.05 118.6,334.74 138.55,336.43 158.5,338.97" fill="none" stroke="#f07a83" stroke-width="1" stroke-linejoin="round"/>
<line x1="38.8" y1="338.97" x2="38.8" y2="335.58" stroke="#f07a83" stroke-width="0.8"/>
<line x1="37.2" y1="338.97" x2="40.4" y2="338.97" stroke="#f07a83" stroke-width="0.8"/>
<line x1="37.2" y1="335.58" x2="40.4" y2="335.58" stroke="#f07a83" stroke-width="0.8"/>
<circle cx="38.8" cy="337.28" r="1.5" fill="#f07a83"/>
<line x1="58.75" y1="330.51" x2="58.75" y2="327.12" stroke="#f07a83" stroke-width="0.8"/>
<line x1="57.15" y1="330.51" x2="60.35" y2="330.51" stroke="#f07a83" stroke-width="0.8"/>
<line x1="57.15" y1="327.12" x2="60.35" y2="327.12" stroke="#f07a83" stroke-width="0.8"/>
<circle cx="58.75" cy="328.82" r="1.5" fill="#f07a83"/>
<line x1="78.7" y1="324.59" x2="78.7" y2="321.2" stroke="#f07a83" stroke-width="0.8"/>
<line x1="77.1" y1="324.59" x2="80.3" y2="324.59" stroke="#f07a83" stroke-width="0.8"/>
<line x1="77.1" y1="321.2" x2="80.3" y2="321.2" stroke="#f07a83" stroke-width="0.8"/>
<circle cx="78.7" cy="322.89" r="1.5" fill="#f07a83"/>
<line x1="98.65" y1="323.74" x2="98.65" y2="320.36" stroke="#f07a83" stroke-width="0.8"/>
<line x1="97.05" y1="323.74" x2="100.25" y2="323.74" stroke="#f07a83" stroke-width="0.8"/>
<line x1="97.05" y1="320.36" x2="100.25" y2="320.36" stroke="#f07a83" stroke-width="0.8"/>
<circle cx="98.65" cy="322.05" r="1.5" fill="#f07a83"/>
<line x1="118.6" y1="336.43" x2="118.6" y2="333.05" stroke="#f07a83" stroke-width="0.8"/>
<line x1="117" y1="336.43" x2="120.2" y2="336.43" stroke="#f07a83" stroke-width="0.8"/>
<line x1="117" y1="333.05" x2="120.2" y2="333.05" stroke="#f07a83" stroke-width="0.8"/>
<circle cx="118.6" cy="334.74" r="1.5" fill="#f07a83"/>
<line x1="138.55" y1="338.12" x2="138.55" y2="334.74" stroke="#f07a83" stroke-width="0.8"/>
<line x1="136.95" y1="338.12" x2="140.15" y2="338.12" stroke="#f07a83" stroke-width="0.8"/>
<line x1="136.95" y1="334.74" x2="140.15" y2="334.74" stroke="#f07a83" stroke-width="0.8"/>
<circle cx="138.55" cy="336.43" r="1.5" fill="#f07a83"/>
<line x1="158.5" y1="340.66" x2="158.5" y2="337.28" stroke="#f07a83" stroke-width="0.8"/>
<line x1="156.9" y1="340.66" x2="160.1" y2="340.66" stroke="#f07a83" stroke-width="0.8"/>
<line x1="156.9" y1="337.28" x2="160.1" y2="337.28" stroke="#f07a83" stroke-width="0.8"/>
<circle cx="158.5" cy="338.97" r="1.5" fill="#f07a83"/>
<polyline points="38.8,334.74 58.75,331.35 78.7,320.36 98.65,325.43 118.6,334.74 138.55,335.58 158.5,338.97" fill="none" stroke="#a51d24" stroke-width="1" stroke-linejoin="round"/>
<line x1="38.8" y1="336.43" x2="38.8" y2="333.05" stroke="#a51d24" stroke-width="0.8"/>
<line x1="37.2" y1="336.43" x2="40.4" y2="336.43" stroke="#a51d24" stroke-width="0.8"/>
<line x1="37.2" y1="333.05" x2="40.4" y2="333.05" stroke="#a51d24" stroke-width="0.8"/>
<circle cx="38.8" cy="334.74" r="1.5" fill="#a51d24"/>
<line x1="58.75" y1="333.05" x2="58.75" y2="329.66" stroke="#a51d24" stroke-width="0.8"/>
<line x1="57.15" y1="333.05" x2="60.35" y2="333.05" stroke="#a51d24" stroke-width="0.8"/>
<line x1="57.15" y1="329.66" x2="60.35" y2="329.66" stroke="#a51d24" stroke-width="0.8"/>
<circle cx="58.75" cy="331.35" r="1.5" fill="#a51d24"/>
<line x1="78.7" y1="322.05" x2="78.7" y2="318.66" stroke="#a51d24" stroke-width="0.8"/>
<line x1="77.1" y1="322.05" x2="80.3" y2="322.05" stroke="#a51d24" stroke-width="0.8"/>
<line x1="77.1" y1="318.66" x2="80.3" y2="318.66" stroke="#a51d24" stroke-width="0.8"/>
<circle cx="78.7" cy="320.36" r="1.5" fill="#a51d24"/>
<line x1="98.65" y1="327.12" x2="98.65" y2="323.74" stroke="#a51d24" stroke-width="0.8"/>
<line x1="97.05" y1="327.12" x2="100.25" y2="327.12" stroke="#a51d24" stroke-width="0.8"/>
<line x1="97.05" y1="323.74" x2="100.25" y2="323.74" stroke="#a51d24" stroke-width="0.8"/>
<circle cx="98.65" cy="325.43" r="1.5" fill="#a51d24"/>
<line x1="118.6" y1="336.43" x2="118.6" y2="333.05" stroke="#a51d24" stroke-width="0.8"/>
<line x1="117" y1="336.43" x2="120.2" y2="336.43" stroke="#a51d24" stroke-width="0.8"/>
<line x1="117" y1="333.05" x2="120.2" y2="333.05" stroke="#a51d24" stroke-width="0.8"/>
<circle cx="118.6" cy="334.74" r="1.5" fill="#a51d24"/>
<line x1="138.55" y1="337.28" x2="138.55" y2="333.89" stroke="#a51d24" stroke-width="0.8"/>
<line x1="136.95" y1="337.28" x2="140.15" y2="337.28" stroke="#a51d24" stroke-width="0.8"/>
<line x1="136.95" y1="333.89" x2="140.15" y2="333.89" stroke="#a51d24" stroke-width="0.8"/>
<circle cx="138.55" cy="335.58" r="1.5" fill="#a51d24"/>
<line x1="158.5" y1="340.66" x2="158.5" y2="337.28" stroke="#a51d24" stroke-width="0.8"/>
<line x1="156.9" y1="340.66" x2="160.1" y2="340.66" stroke="#a51d24" stroke-width="0.8"/>
<line x1="156.9" y1="337.28" x2="160.1" y2="337.28" stroke="#a51d24" stroke-width="0.8"/>
<circle cx="158.5" cy="338.97" r="1.5" fill="#a51d24"/>
<line x1="30" y1="288.6" x2="37" y2="288.6" stroke="#f07a83" stroke-width="1"/>
<circle cx="33.5" cy="288.6" r="1.5" fill="#f07a83"/>
<g><text x="40" y="290.98" font-size="6.8" xml:space="preserve">SED</text><circle cx="57.11" cy="287.58" r="1.5" fill="none" stroke="#161616" stroke-width="0.65"/><path d="M57.11 289.08V291.93M55.89 290.64H58.33" stroke="#161616" stroke-width="0.65" fill="none"/></g>
<line x1="30" y1="298.1" x2="37" y2="298.1" stroke="#a51d24" stroke-width="1"/>
<circle cx="33.5" cy="298.1" r="1.5" fill="#a51d24"/>
<g><text x="40" y="300.48" font-size="6.8" xml:space="preserve">EXE</text><circle cx="56.74" cy="297.08" r="1.5" fill="none" stroke="#161616" stroke-width="0.65"/><path d="M56.74 298.58V301.43M55.51 300.14H57.96" stroke="#161616" stroke-width="0.65" fill="none"/></g>
<line x1="26.3" y1="414" x2="26.3" y2="498.7" stroke="#6a6a6a" stroke-width="1.2"/>
<line x1="23.8" y1="498.7" x2="26.3" y2="498.7" stroke="#6a6a6a" stroke-width="1.2"/>
<text x="22.6" y="501.68" text-anchor="end">0</text>
<line x1="23.8" y1="481.76" x2="26.3" y2="481.76" stroke="#6a6a6a" stroke-width="1.2"/>
<text x="22.6" y="484.74" text-anchor="end">2</text>
<line x1="23.8" y1="464.82" x2="26.3" y2="464.82" stroke="#6a6a6a" stroke-width="1.2"/>
<text x="22.6" y="467.8" text-anchor="end">4</text>
<line x1="23.8" y1="447.88" x2="26.3" y2="447.88" stroke="#6a6a6a" stroke-width="1.2"/>
<text x="22.6" y="450.86" text-anchor="end">6</text>
<line x1="23.8" y1="430.94" x2="26.3" y2="430.94" stroke="#6a6a6a" stroke-width="1.2"/>
<text x="22.6" y="433.92" text-anchor="end">8</text>
<line x1="23.8" y1="414" x2="26.3" y2="414" stroke="#6a6a6a" stroke-width="1.2"/>
<text x="22.6" y="416.98" text-anchor="end">10</text>
<line x1="26.3" y1="498.7" x2="170.8" y2="498.7" stroke="#6a6a6a" stroke-width="1.2"/>
<line x1="38.8" y1="498.7" x2="38.8" y2="501.2" stroke="#6a6a6a" stroke-width="1.2"/>
<text x="38.8" y="509.27" text-anchor="middle">4</text>
<line x1="58.75" y1="498.7" x2="58.75" y2="501.2" stroke="#6a6a6a" stroke-width="1.2"/>
<text x="58.75" y="509.27" text-anchor="middle">9</text>
<line x1="78.7" y1="498.7" x2="78.7" y2="501.2" stroke="#6a6a6a" stroke-width="1.2"/>
<text x="78.7" y="509.27" text-anchor="middle">14</text>
<line x1="98.65" y1="498.7" x2="98.65" y2="501.2" stroke="#6a6a6a" stroke-width="1.2"/>
<text x="98.65" y="509.27" text-anchor="middle">19</text>
<line x1="118.6" y1="498.7" x2="118.6" y2="501.2" stroke="#6a6a6a" stroke-width="1.2"/>
<text x="118.6" y="509.27" text-anchor="middle">24</text>
<line x1="138.55" y1="498.7" x2="138.55" y2="501.2" stroke="#6a6a6a" stroke-width="1.2"/>
<text x="138.55" y="509.27" text-anchor="middle">29</text>
<line x1="158.5" y1="498.7" x2="158.5" y2="501.2" stroke="#6a6a6a" stroke-width="1.2"/>
<text x="158.5" y="509.27" text-anchor="middle">34</text>
<text x="9.5" y="455.5" text-anchor="middle" font-size="8.4" transform="rotate(-90 9.5 455.5)">Fasting blood glucose (mM)</text>
<polyline points="38.8,454.66 58.75,449.57 78.7,457.2 98.65,461.43 118.6,462.28 138.55,462.28" fill="none" stroke="#8cb3e1" stroke-width="1" stroke-linejoin="round"/>
<line x1="38.8" y1="456.35" x2="38.8" y2="452.96" stroke="#8cb3e1" stroke-width="0.8"/>
<line x1="37.2" y1="456.35" x2="40.4" y2="456.35" stroke="#8cb3e1" stroke-width="0.8"/>
<line x1="37.2" y1="452.96" x2="40.4" y2="452.96" stroke="#8cb3e1" stroke-width="0.8"/>
<circle cx="38.8" cy="454.66" r="1.5" fill="#8cb3e1"/>
<line x1="58.75" y1="451.27" x2="58.75" y2="447.88" stroke="#8cb3e1" stroke-width="0.8"/>
<line x1="57.15" y1="451.27" x2="60.35" y2="451.27" stroke="#8cb3e1" stroke-width="0.8"/>
<line x1="57.15" y1="447.88" x2="60.35" y2="447.88" stroke="#8cb3e1" stroke-width="0.8"/>
<circle cx="58.75" cy="449.57" r="1.5" fill="#8cb3e1"/>
<line x1="78.7" y1="458.89" x2="78.7" y2="455.5" stroke="#8cb3e1" stroke-width="0.8"/>
<line x1="77.1" y1="458.89" x2="80.3" y2="458.89" stroke="#8cb3e1" stroke-width="0.8"/>
<line x1="77.1" y1="455.5" x2="80.3" y2="455.5" stroke="#8cb3e1" stroke-width="0.8"/>
<circle cx="78.7" cy="457.2" r="1.5" fill="#8cb3e1"/>
<line x1="98.65" y1="463.13" x2="98.65" y2="459.74" stroke="#8cb3e1" stroke-width="0.8"/>
<line x1="97.05" y1="463.13" x2="100.25" y2="463.13" stroke="#8cb3e1" stroke-width="0.8"/>
<line x1="97.05" y1="459.74" x2="100.25" y2="459.74" stroke="#8cb3e1" stroke-width="0.8"/>
<circle cx="98.65" cy="461.43" r="1.5" fill="#8cb3e1"/>
<line x1="118.6" y1="463.97" x2="118.6" y2="460.58" stroke="#8cb3e1" stroke-width="0.8"/>
<line x1="117" y1="463.97" x2="120.2" y2="463.97" stroke="#8cb3e1" stroke-width="0.8"/>
<line x1="117" y1="460.58" x2="120.2" y2="460.58" stroke="#8cb3e1" stroke-width="0.8"/>
<circle cx="118.6" cy="462.28" r="1.5" fill="#8cb3e1"/>
<line x1="138.55" y1="463.97" x2="138.55" y2="460.58" stroke="#8cb3e1" stroke-width="0.8"/>
<line x1="136.95" y1="463.97" x2="140.15" y2="463.97" stroke="#8cb3e1" stroke-width="0.8"/>
<line x1="136.95" y1="460.58" x2="140.15" y2="460.58" stroke="#8cb3e1" stroke-width="0.8"/>
<circle cx="138.55" cy="462.28" r="1.5" fill="#8cb3e1"/>
<polyline points="38.8,457.2 58.75,452.12 78.7,455.5 98.65,458.89 118.6,466.51 138.55,463.13 158.5,463.97" fill="none" stroke="#274d8c" stroke-width="1" stroke-linejoin="round"/>
<line x1="38.8" y1="458.89" x2="38.8" y2="455.5" stroke="#274d8c" stroke-width="0.8"/>
<line x1="37.2" y1="458.89" x2="40.4" y2="458.89" stroke="#274d8c" stroke-width="0.8"/>
<line x1="37.2" y1="455.5" x2="40.4" y2="455.5" stroke="#274d8c" stroke-width="0.8"/>
<circle cx="38.8" cy="457.2" r="1.5" fill="#274d8c"/>
<line x1="58.75" y1="453.81" x2="58.75" y2="450.42" stroke="#274d8c" stroke-width="0.8"/>
<line x1="57.15" y1="453.81" x2="60.35" y2="453.81" stroke="#274d8c" stroke-width="0.8"/>
<line x1="57.15" y1="450.42" x2="60.35" y2="450.42" stroke="#274d8c" stroke-width="0.8"/>
<circle cx="58.75" cy="452.12" r="1.5" fill="#274d8c"/>
<line x1="78.7" y1="457.2" x2="78.7" y2="453.81" stroke="#274d8c" stroke-width="0.8"/>
<line x1="77.1" y1="457.2" x2="80.3" y2="457.2" stroke="#274d8c" stroke-width="0.8"/>
<line x1="77.1" y1="453.81" x2="80.3" y2="453.81" stroke="#274d8c" stroke-width="0.8"/>
<circle cx="78.7" cy="455.5" r="1.5" fill="#274d8c"/>
<line x1="98.65" y1="460.58" x2="98.65" y2="457.2" stroke="#274d8c" stroke-width="0.8"/>
<line x1="97.05" y1="460.58" x2="100.25" y2="460.58" stroke="#274d8c" stroke-width="0.8"/>
<line x1="97.05" y1="457.2" x2="100.25" y2="457.2" stroke="#274d8c" stroke-width="0.8"/>
<circle cx="98.65" cy="458.89" r="1.5" fill="#274d8c"/>
<line x1="118.6" y1="468.21" x2="118.6" y2="464.82" stroke="#274d8c" stroke-width="0.8"/>
<line x1="117" y1="468.21" x2="120.2" y2="468.21" stroke="#274d8c" stroke-width="0.8"/>
<line x1="117" y1="464.82" x2="120.2" y2="464.82" stroke="#274d8c" stroke-width="0.8"/>
<circle cx="118.6" cy="466.51" r="1.5" fill="#274d8c"/>
<line x1="138.55" y1="464.82" x2="138.55" y2="461.43" stroke="#274d8c" stroke-width="0.8"/>
<line x1="136.95" y1="464.82" x2="140.15" y2="464.82" stroke="#274d8c" stroke-width="0.8"/>
<line x1="136.95" y1="461.43" x2="140.15" y2="461.43" stroke="#274d8c" stroke-width="0.8"/>
<circle cx="138.55" cy="463.13" r="1.5" fill="#274d8c"/>
<line x1="158.5" y1="465.67" x2="158.5" y2="462.28" stroke="#274d8c" stroke-width="0.8"/>
<line x1="156.9" y1="465.67" x2="160.1" y2="465.67" stroke="#274d8c" stroke-width="0.8"/>
<line x1="156.9" y1="462.28" x2="160.1" y2="462.28" stroke="#274d8c" stroke-width="0.8"/>
<circle cx="158.5" cy="463.97" r="1.5" fill="#274d8c"/>
<line x1="30" y1="411" x2="37" y2="411" stroke="#8cb3e1" stroke-width="1"/>
<circle cx="33.5" cy="411" r="1.5" fill="#8cb3e1"/>
<g><text x="40" y="413.38" font-size="6.8" xml:space="preserve">SED</text><circle cx="56.7" cy="412.02" r="1.36" fill="none" stroke="#161616" stroke-width="0.65"/><path d="M57.68 411.04L59.69 408.76M58.2 408.76H59.69V410.25" stroke="#161616" stroke-width="0.65" fill="none"/></g>
<line x1="30" y1="420.5" x2="37" y2="420.5" stroke="#274d8c" stroke-width="1"/>
<circle cx="33.5" cy="420.5" r="1.5" fill="#274d8c"/>
<g><text x="40" y="422.88" font-size="6.8" xml:space="preserve">EXE</text><circle cx="56.33" cy="421.52" r="1.36" fill="none" stroke="#161616" stroke-width="0.65"/><path d="M57.31 420.54L59.32 418.26M57.82 418.26H59.32V419.75" stroke="#161616" stroke-width="0.65" fill="none"/></g>
<text x="99.3" y="521.4" text-anchor="middle" font-size="8.8">Age (months)</text>
<text x="175.3" y="279.4" font-weight="bold" fill="#000" font-size="15.5">h</text>
<line x1="214.7" y1="291.2" x2="214.7" y2="379.5" stroke="#3c3c3c" stroke-width="1"/>
<line x1="212.2" y1="379.5" x2="214.7" y2="379.5" stroke="#3c3c3c" stroke-width="1"/>
<text x="211" y="382.48" text-anchor="end">0</text>
<line x1="212.2" y1="342.7" x2="214.7" y2="342.7" stroke="#3c3c3c" stroke-width="1"/>
<text x="211" y="345.68" text-anchor="end">50</text>
<line x1="212.2" y1="305.9" x2="214.7" y2="305.9" stroke="#3c3c3c" stroke-width="1"/>
<text x="211" y="308.88" text-anchor="end">100</text>
<line x1="214.7" y1="379.5" x2="265" y2="379.5" stroke="#3c3c3c" stroke-width="1"/>
<line x1="227.8" y1="379.5" x2="227.8" y2="382" stroke="#3c3c3c" stroke-width="1"/>
<line x1="251.3" y1="379.5" x2="251.3" y2="382" stroke="#3c3c3c" stroke-width="1"/>
<rect x="220.8" y="350.06" width="14" height="29.44" fill="#f7dde0"/>
<rect x="244.7" y="366.99" width="13.3" height="12.51" fill="#f7dde0"/>
<circle cx="228.95" cy="308.11" r="1.4" fill="#f07a83"/>
<circle cx="224.19" cy="319.15" r="1.4" fill="#f07a83"/>
<circle cx="231.49" cy="346.38" r="1.4" fill="#f07a83"/>
<circle cx="227.66" cy="353.74" r="1.4" fill="#f07a83"/>
<circle cx="231.92" cy="364.78" r="1.4" fill="#f07a83"/>
<circle cx="228.3" cy="364.78" r="1.4" fill="#f07a83"/>
<circle cx="224.51" cy="364.78" r="1.4" fill="#f07a83"/>
<circle cx="226.95" cy="368.46" r="1.4" fill="#f07a83"/>
<circle cx="225.62" cy="369.93" r="1.4" fill="#f07a83"/>
<circle cx="248.86" cy="358.89" r="1.4" fill="#a51d24"/>
<circle cx="253.69" cy="358.89" r="1.4" fill="#a51d24"/>
<circle cx="252.83" cy="363.31" r="1.4" fill="#a51d24"/>
<circle cx="250.36" cy="364.78" r="1.4" fill="#a51d24"/>
<circle cx="248.69" cy="366.25" r="1.4" fill="#a51d24"/>
<circle cx="251.13" cy="368.46" r="1.4" fill="#a51d24"/>
<circle cx="252.99" cy="369.93" r="1.4" fill="#a51d24"/>
<circle cx="247.5" cy="370.67" r="1.4" fill="#a51d24"/>
<circle cx="252.73" cy="370.67" r="1.4" fill="#a51d24"/>
<line x1="227.8" y1="357.42" x2="227.8" y2="342.7" stroke="#f07a83" stroke-width="0.8"/>
<line x1="225.3" y1="357.42" x2="230.3" y2="357.42" stroke="#f07a83" stroke-width="0.8"/>
<line x1="225.3" y1="342.7" x2="230.3" y2="342.7" stroke="#f07a83" stroke-width="0.8"/>
<line x1="251.3" y1="368.83" x2="251.3" y2="365.15" stroke="#a51d24" stroke-width="0.8"/>
<line x1="248.8" y1="368.83" x2="253.8" y2="368.83" stroke="#a51d24" stroke-width="0.8"/>
<line x1="248.8" y1="365.15" x2="253.8" y2="365.15" stroke="#a51d24" stroke-width="0.8"/>
<text x="239.2" y="289.3" text-anchor="middle" fill="#333" font-size="7">25 mo</text>
<text x="239.2" y="297.17" text-anchor="middle" fill="#333" font-size="6.2"><tspan font-style="italic">P</tspan>=0.049</text>
<polyline points="227.5,303 227.5,300.3 251.5,300.3 251.5,303" fill="none" stroke="#333" stroke-width="0.8"/>
<g transform="rotate(-45 232.6 387)"><text x="205.19" y="387" font-size="9.4" xml:space="preserve">SED</text><circle cx="228.84" cy="382.3" r="2.07" fill="none" stroke="#161616" stroke-width="0.89"/><path d="M228.84 384.37V388.32M227.15 386.53H230.53" stroke="#161616" stroke-width="0.89" fill="none"/></g>
<g transform="rotate(-45 256.1 387)"><text x="229.21" y="387" font-size="9.4" xml:space="preserve">EXE</text><circle cx="252.34" cy="382.3" r="2.07" fill="none" stroke="#161616" stroke-width="0.89"/><path d="M252.34 384.37V388.32M250.65 386.53H254.03" stroke="#161616" stroke-width="0.89" fill="none"/></g>
<text x="195" y="331.8" text-anchor="middle" font-size="9" transform="rotate(-90 195 331.8)">Insulin level (mUI/L)</text>
<line x1="214.3" y1="414.8" x2="214.3" y2="503.1" stroke="#3c3c3c" stroke-width="1"/>
<line x1="211.8" y1="503.1" x2="214.3" y2="503.1" stroke="#3c3c3c" stroke-width="1"/>
<text x="210.6" y="506.08" text-anchor="end">0</text>
<line x1="211.8" y1="466.4" x2="214.3" y2="466.4" stroke="#3c3c3c" stroke-width="1"/>
<text x="210.6" y="469.38" text-anchor="end">50</text>
<line x1="211.8" y1="429.7" x2="214.3" y2="429.7" stroke="#3c3c3c" stroke-width="1"/>
<text x="210.6" y="432.68" text-anchor="end">100</text>
<line x1="214.3" y1="503.1" x2="265" y2="503.1" stroke="#3c3c3c" stroke-width="1"/>
<line x1="227.8" y1="503.1" x2="227.8" y2="505.6" stroke="#3c3c3c" stroke-width="1"/>
<line x1="251.3" y1="503.1" x2="251.3" y2="505.6" stroke="#3c3c3c" stroke-width="1"/>
<rect x="220.8" y="483.28" width="14" height="19.82" fill="#cde1f6"/>
<rect x="244.7" y="493.56" width="13.3" height="9.54" fill="#cde1f6"/>
<circle cx="223.55" cy="461.26" r="1.4" fill="#8cb3e1"/>
<circle cx="227.81" cy="474.47" r="1.4" fill="#8cb3e1"/>
<circle cx="230.92" cy="477.41" r="1.4" fill="#8cb3e1"/>
<circle cx="228.3" cy="482.55" r="1.4" fill="#8cb3e1"/>
<circle cx="227.33" cy="488.42" r="1.4" fill="#8cb3e1"/>
<circle cx="226.13" cy="488.42" r="1.4" fill="#8cb3e1"/>
<circle cx="230.39" cy="489.89" r="1.4" fill="#8cb3e1"/>
<circle cx="227.07" cy="492.09" r="1.4" fill="#8cb3e1"/>
<circle cx="228.28" cy="500.9" r="1.4" fill="#8cb3e1"/>
<circle cx="248.74" cy="489.15" r="1.4" fill="#274d8c"/>
<circle cx="248.05" cy="489.89" r="1.4" fill="#274d8c"/>
<circle cx="251.86" cy="491.36" r="1.4" fill="#274d8c"/>
<circle cx="249.49" cy="492.09" r="1.4" fill="#274d8c"/>
<circle cx="249.98" cy="492.82" r="1.4" fill="#274d8c"/>
<circle cx="254.39" cy="493.56" r="1.4" fill="#274d8c"/>
<circle cx="248.32" cy="493.56" r="1.4" fill="#274d8c"/>
<circle cx="246.5" cy="494.29" r="1.4" fill="#274d8c"/>
<circle cx="255.01" cy="495.76" r="1.4" fill="#274d8c"/>
<circle cx="250.13" cy="497.23" r="1.4" fill="#274d8c"/>
<line x1="227.8" y1="486.95" x2="227.8" y2="479.61" stroke="#8cb3e1" stroke-width="0.8"/>
<line x1="225.3" y1="486.95" x2="230.3" y2="486.95" stroke="#8cb3e1" stroke-width="0.8"/>
<line x1="225.3" y1="479.61" x2="230.3" y2="479.61" stroke="#8cb3e1" stroke-width="0.8"/>
<line x1="251.3" y1="494.66" x2="251.3" y2="492.46" stroke="#274d8c" stroke-width="0.8"/>
<line x1="248.8" y1="494.66" x2="253.8" y2="494.66" stroke="#274d8c" stroke-width="0.8"/>
<line x1="248.8" y1="492.46" x2="253.8" y2="492.46" stroke="#274d8c" stroke-width="0.8"/>
<text x="239.2" y="420.1" text-anchor="middle" fill="#333" font-size="7">22 mo</text>
<text x="239.2" y="446.37" text-anchor="middle" fill="#333" font-size="6.2"><tspan font-style="italic">P</tspan>=0.022</text>
<polyline points="226.7,452 226.7,449.2 250.6,449.2 250.6,452" fill="none" stroke="#333" stroke-width="0.8"/>
<g transform="rotate(-45 232.6 510.6)"><text x="204.81" y="510.6" font-size="9.4" xml:space="preserve">SED</text><circle cx="227.9" cy="508.72" r="1.88" fill="none" stroke="#161616" stroke-width="0.89"/><path d="M229.25 507.37L232.04 504.21M229.97 504.21H232.04V506.28" stroke="#161616" stroke-width="0.89" fill="none"/></g>
<g transform="rotate(-45 256.1 510.6)"><text x="228.83" y="510.6" font-size="9.4" xml:space="preserve">EXE</text><circle cx="251.4" cy="508.72" r="1.88" fill="none" stroke="#161616" stroke-width="0.89"/><path d="M252.75 507.37L255.54 504.21M253.47 504.21H255.54V506.28" stroke="#161616" stroke-width="0.89" fill="none"/></g>
<text x="195" y="455.7" text-anchor="middle" font-size="9" transform="rotate(-90 195 455.7)">Insulin level (mUI/L)</text>
<text x="269.3" y="279.8" font-weight="bold" fill="#000" font-size="15.5">i</text>
<line x1="300" y1="289.9" x2="300" y2="374.7" stroke="#3c3c3c" stroke-width="1"/>
<line x1="297.5" y1="374.7" x2="300" y2="374.7" stroke="#3c3c3c" stroke-width="1"/>
<text x="296.3" y="377.68" text-anchor="end">0</text>
<line x1="297.5" y1="353.5" x2="300" y2="353.5" stroke="#3c3c3c" stroke-width="1"/>
<text x="296.3" y="356.48" text-anchor="end">5</text>
<line x1="297.5" y1="332.3" x2="300" y2="332.3" stroke="#3c3c3c" stroke-width="1"/>
<text x="296.3" y="335.27" text-anchor="end">10</text>
<line x1="297.5" y1="311.1" x2="300" y2="311.1" stroke="#3c3c3c" stroke-width="1"/>
<text x="296.3" y="314.07" text-anchor="end">15</text>
<line x1="297.5" y1="289.9" x2="300" y2="289.9" stroke="#3c3c3c" stroke-width="1"/>
<text x="296.3" y="292.88" text-anchor="end">20</text>
<line x1="300" y1="374.7" x2="373.6" y2="374.7" stroke="#3c3c3c" stroke-width="0.9"/>
<line x1="300" y1="374.7" x2="300" y2="377.2" stroke="#3c3c3c" stroke-width="0.9"/>
<text x="300" y="385.27" text-anchor="middle">0</text>
<line x1="327.8" y1="374.7" x2="327.8" y2="377.2" stroke="#3c3c3c" stroke-width="0.9"/>
<text x="327.8" y="385.27" text-anchor="middle">50</text>
<line x1="355.6" y1="374.7" x2="355.6" y2="377.2" stroke="#3c3c3c" stroke-width="0.9"/>
<text x="355.6" y="385.27" text-anchor="middle">100</text>
<text x="337.5" y="292.8" text-anchor="middle" font-weight="bold" fill="#3a3a3a" font-size="6.9">GTT (26 mo)</text>
<polyline points="300,354.35 308.34,327.21 316.68,333.15 333.36,346.72 350.04,349.26 366.72,351.8" fill="none" stroke="#a51d24" stroke-width="1" stroke-linejoin="round"/>
<line x1="300" y1="355.2" x2="300" y2="353.5" stroke="#a51d24" stroke-width="0.8"/>
<line x1="298.4" y1="355.2" x2="301.6" y2="355.2" stroke="#a51d24" stroke-width="0.8"/>
<line x1="298.4" y1="353.5" x2="301.6" y2="353.5" stroke="#a51d24" stroke-width="0.8"/>
<circle cx="300" cy="354.35" r="1.5" fill="#a51d24"/>
<line x1="308.34" y1="329.76" x2="308.34" y2="324.67" stroke="#a51d24" stroke-width="0.8"/>
<line x1="306.74" y1="329.76" x2="309.94" y2="329.76" stroke="#a51d24" stroke-width="0.8"/>
<line x1="306.74" y1="324.67" x2="309.94" y2="324.67" stroke="#a51d24" stroke-width="0.8"/>
<circle cx="308.34" cy="327.21" r="1.5" fill="#a51d24"/>
<line x1="316.68" y1="338.24" x2="316.68" y2="328.06" stroke="#a51d24" stroke-width="0.8"/>
<line x1="315.08" y1="338.24" x2="318.28" y2="338.24" stroke="#a51d24" stroke-width="0.8"/>
<line x1="315.08" y1="328.06" x2="318.28" y2="328.06" stroke="#a51d24" stroke-width="0.8"/>
<circle cx="316.68" cy="333.15" r="1.5" fill="#a51d24"/>
<line x1="333.36" y1="347.99" x2="333.36" y2="345.44" stroke="#a51d24" stroke-width="0.8"/>
<line x1="331.76" y1="347.99" x2="334.96" y2="347.99" stroke="#a51d24" stroke-width="0.8"/>
<line x1="331.76" y1="345.44" x2="334.96" y2="345.44" stroke="#a51d24" stroke-width="0.8"/>
<circle cx="333.36" cy="346.72" r="1.5" fill="#a51d24"/>
<line x1="350.04" y1="350.96" x2="350.04" y2="347.56" stroke="#a51d24" stroke-width="0.8"/>
<line x1="348.44" y1="350.96" x2="351.64" y2="350.96" stroke="#a51d24" stroke-width="0.8"/>
<line x1="348.44" y1="347.56" x2="351.64" y2="347.56" stroke="#a51d24" stroke-width="0.8"/>
<circle cx="350.04" cy="349.26" r="1.5" fill="#a51d24"/>
<line x1="366.72" y1="353.08" x2="366.72" y2="350.53" stroke="#a51d24" stroke-width="0.8"/>
<line x1="365.12" y1="353.08" x2="368.32" y2="353.08" stroke="#a51d24" stroke-width="0.8"/>
<line x1="365.12" y1="350.53" x2="368.32" y2="350.53" stroke="#a51d24" stroke-width="0.8"/>
<circle cx="366.72" cy="351.8" r="1.5" fill="#a51d24"/>
<polyline points="300,354.35 308.34,325.94 316.68,335.27 333.36,346.72 350.04,349.26 366.72,351.38" fill="none" stroke="#f07a83" stroke-width="1" stroke-linejoin="round"/>
<line x1="300" y1="355.2" x2="300" y2="353.5" stroke="#f07a83" stroke-width="0.8"/>
<line x1="298.4" y1="355.2" x2="301.6" y2="355.2" stroke="#f07a83" stroke-width="0.8"/>
<line x1="298.4" y1="353.5" x2="301.6" y2="353.5" stroke="#f07a83" stroke-width="0.8"/>
<circle cx="300" cy="354.35" r="1.5" fill="#f07a83"/>
<line x1="308.34" y1="329.33" x2="308.34" y2="322.55" stroke="#f07a83" stroke-width="0.8"/>
<line x1="306.74" y1="329.33" x2="309.94" y2="329.33" stroke="#f07a83" stroke-width="0.8"/>
<line x1="306.74" y1="322.55" x2="309.94" y2="322.55" stroke="#f07a83" stroke-width="0.8"/>
<circle cx="308.34" cy="325.94" r="1.5" fill="#f07a83"/>
<line x1="316.68" y1="339.51" x2="316.68" y2="331.03" stroke="#f07a83" stroke-width="0.8"/>
<line x1="315.08" y1="339.51" x2="318.28" y2="339.51" stroke="#f07a83" stroke-width="0.8"/>
<line x1="315.08" y1="331.03" x2="318.28" y2="331.03" stroke="#f07a83" stroke-width="0.8"/>
<circle cx="316.68" cy="335.27" r="1.5" fill="#f07a83"/>
<line x1="333.36" y1="347.99" x2="333.36" y2="345.44" stroke="#f07a83" stroke-width="0.8"/>
<line x1="331.76" y1="347.99" x2="334.96" y2="347.99" stroke="#f07a83" stroke-width="0.8"/>
<line x1="331.76" y1="345.44" x2="334.96" y2="345.44" stroke="#f07a83" stroke-width="0.8"/>
<circle cx="333.36" cy="346.72" r="1.5" fill="#f07a83"/>
<line x1="350.04" y1="350.96" x2="350.04" y2="347.56" stroke="#f07a83" stroke-width="0.8"/>
<line x1="348.44" y1="350.96" x2="351.64" y2="350.96" stroke="#f07a83" stroke-width="0.8"/>
<line x1="348.44" y1="347.56" x2="351.64" y2="347.56" stroke="#f07a83" stroke-width="0.8"/>
<circle cx="350.04" cy="349.26" r="1.5" fill="#f07a83"/>
<line x1="366.72" y1="352.65" x2="366.72" y2="350.11" stroke="#f07a83" stroke-width="0.8"/>
<line x1="365.12" y1="352.65" x2="368.32" y2="352.65" stroke="#f07a83" stroke-width="0.8"/>
<line x1="365.12" y1="350.11" x2="368.32" y2="350.11" stroke="#f07a83" stroke-width="0.8"/>
<circle cx="366.72" cy="351.38" r="1.5" fill="#f07a83"/>
<line x1="304.5" y1="358" x2="311.5" y2="358" stroke="#f07a83" stroke-width="1"/>
<circle cx="308" cy="358" r="1.5" fill="#f07a83"/>
<g><text x="314.5" y="360.52" font-size="7.2" xml:space="preserve">SED</text><circle cx="332.62" cy="356.92" r="1.58" fill="none" stroke="#161616" stroke-width="0.68"/><path d="M332.62 358.5V361.53M331.32 360.16H333.91" stroke="#161616" stroke-width="0.68" fill="none"/><text x="335.5" y="360.52" font-size="7.2" xml:space="preserve">(n=11)</text></g>
<line x1="304.5" y1="367.6" x2="311.5" y2="367.6" stroke="#a51d24" stroke-width="1"/>
<circle cx="308" cy="367.6" r="1.5" fill="#a51d24"/>
<g><text x="314.5" y="370.12" font-size="7.2" xml:space="preserve">EXE</text><circle cx="332.22" cy="366.52" r="1.58" fill="none" stroke="#161616" stroke-width="0.68"/><path d="M332.22 368.1V371.13M330.92 369.76H333.52" stroke="#161616" stroke-width="0.68" fill="none"/><text x="335.1" y="370.12" font-size="7.2" xml:space="preserve">(n=10)</text></g>
<text x="284" y="330" text-anchor="middle" font-size="8.6" transform="rotate(-90 284 330)">Blood glucose (mM)</text>
<line x1="300" y1="414.9" x2="300" y2="500.6" stroke="#3c3c3c" stroke-width="1"/>
<line x1="297.5" y1="500.6" x2="300" y2="500.6" stroke="#3c3c3c" stroke-width="1"/>
<text x="296.3" y="503.58" text-anchor="end">0</text>
<line x1="297.5" y1="479.18" x2="300" y2="479.18" stroke="#3c3c3c" stroke-width="1"/>
<text x="296.3" y="482.15" text-anchor="end">5</text>
<line x1="297.5" y1="457.75" x2="300" y2="457.75" stroke="#3c3c3c" stroke-width="1"/>
<text x="296.3" y="460.73" text-anchor="end">10</text>
<line x1="297.5" y1="436.32" x2="300" y2="436.32" stroke="#3c3c3c" stroke-width="1"/>
<text x="296.3" y="439.3" text-anchor="end">15</text>
<line x1="297.5" y1="414.9" x2="300" y2="414.9" stroke="#3c3c3c" stroke-width="1"/>
<text x="296.3" y="417.88" text-anchor="end">20</text>
<line x1="300" y1="500.6" x2="373.6" y2="500.6" stroke="#3c3c3c" stroke-width="0.9"/>
<line x1="300" y1="500.6" x2="300" y2="503.1" stroke="#3c3c3c" stroke-width="0.9"/>
<text x="300" y="511.18" text-anchor="middle">0</text>
<line x1="327.8" y1="500.6" x2="327.8" y2="503.1" stroke="#3c3c3c" stroke-width="0.9"/>
<text x="327.8" y="511.18" text-anchor="middle">50</text>
<line x1="355.6" y1="500.6" x2="355.6" y2="503.1" stroke="#3c3c3c" stroke-width="0.9"/>
<text x="355.6" y="511.18" text-anchor="middle">100</text>
<text x="337.5" y="417.7" text-anchor="middle" font-weight="bold" fill="#3a3a3a" font-size="6.9">GTT (22 mo)</text>
<polyline points="300,484.32 308.34,443.61 316.68,459.46 333.36,473.6 350.04,480.46 366.72,479.18" fill="none" stroke="#274d8c" stroke-width="1" stroke-linejoin="round"/>
<line x1="300" y1="485.17" x2="300" y2="483.46" stroke="#274d8c" stroke-width="0.8"/>
<line x1="298.4" y1="485.17" x2="301.6" y2="485.17" stroke="#274d8c" stroke-width="0.8"/>
<line x1="298.4" y1="483.46" x2="301.6" y2="483.46" stroke="#274d8c" stroke-width="0.8"/>
<circle cx="300" cy="484.32" r="1.5" fill="#274d8c"/>
<line x1="308.34" y1="447.04" x2="308.34" y2="440.18" stroke="#274d8c" stroke-width="0.8"/>
<line x1="306.74" y1="447.04" x2="309.94" y2="447.04" stroke="#274d8c" stroke-width="0.8"/>
<line x1="306.74" y1="440.18" x2="309.94" y2="440.18" stroke="#274d8c" stroke-width="0.8"/>
<circle cx="308.34" cy="443.61" r="1.5" fill="#274d8c"/>
<line x1="316.68" y1="463.32" x2="316.68" y2="455.61" stroke="#274d8c" stroke-width="0.8"/>
<line x1="315.08" y1="463.32" x2="318.28" y2="463.32" stroke="#274d8c" stroke-width="0.8"/>
<line x1="315.08" y1="455.61" x2="318.28" y2="455.61" stroke="#274d8c" stroke-width="0.8"/>
<circle cx="316.68" cy="459.46" r="1.5" fill="#274d8c"/>
<line x1="333.36" y1="475.75" x2="333.36" y2="471.46" stroke="#274d8c" stroke-width="0.8"/>
<line x1="331.76" y1="475.75" x2="334.96" y2="475.75" stroke="#274d8c" stroke-width="0.8"/>
<line x1="331.76" y1="471.46" x2="334.96" y2="471.46" stroke="#274d8c" stroke-width="0.8"/>
<circle cx="333.36" cy="473.6" r="1.5" fill="#274d8c"/>
<line x1="350.04" y1="482.17" x2="350.04" y2="478.75" stroke="#274d8c" stroke-width="0.8"/>
<line x1="348.44" y1="482.17" x2="351.64" y2="482.17" stroke="#274d8c" stroke-width="0.8"/>
<line x1="348.44" y1="478.75" x2="351.64" y2="478.75" stroke="#274d8c" stroke-width="0.8"/>
<circle cx="350.04" cy="480.46" r="1.5" fill="#274d8c"/>
<line x1="366.72" y1="480.46" x2="366.72" y2="477.89" stroke="#274d8c" stroke-width="0.8"/>
<line x1="365.12" y1="480.46" x2="368.32" y2="480.46" stroke="#274d8c" stroke-width="0.8"/>
<line x1="365.12" y1="477.89" x2="368.32" y2="477.89" stroke="#274d8c" stroke-width="0.8"/>
<circle cx="366.72" cy="479.18" r="1.5" fill="#274d8c"/>
<polyline points="300,484.32 308.34,441.47 316.68,452.18 333.36,470.18 350.04,476.18 366.72,477.89" fill="none" stroke="#8cb3e1" stroke-width="1" stroke-linejoin="round"/>
<line x1="300" y1="485.17" x2="300" y2="483.46" stroke="#8cb3e1" stroke-width="0.8"/>
<line x1="298.4" y1="485.17" x2="301.6" y2="485.17" stroke="#8cb3e1" stroke-width="0.8"/>
<line x1="298.4" y1="483.46" x2="301.6" y2="483.46" stroke="#8cb3e1" stroke-width="0.8"/>
<circle cx="300" cy="484.32" r="1.5" fill="#8cb3e1"/>
<line x1="308.34" y1="445.75" x2="308.34" y2="437.18" stroke="#8cb3e1" stroke-width="0.8"/>
<line x1="306.74" y1="445.75" x2="309.94" y2="445.75" stroke="#8cb3e1" stroke-width="0.8"/>
<line x1="306.74" y1="437.18" x2="309.94" y2="437.18" stroke="#8cb3e1" stroke-width="0.8"/>
<circle cx="308.34" cy="441.47" r="1.5" fill="#8cb3e1"/>
<line x1="316.68" y1="457.32" x2="316.68" y2="447.04" stroke="#8cb3e1" stroke-width="0.8"/>
<line x1="315.08" y1="457.32" x2="318.28" y2="457.32" stroke="#8cb3e1" stroke-width="0.8"/>
<line x1="315.08" y1="447.04" x2="318.28" y2="447.04" stroke="#8cb3e1" stroke-width="0.8"/>
<circle cx="316.68" cy="452.18" r="1.5" fill="#8cb3e1"/>
<line x1="333.36" y1="472.75" x2="333.36" y2="467.61" stroke="#8cb3e1" stroke-width="0.8"/>
<line x1="331.76" y1="472.75" x2="334.96" y2="472.75" stroke="#8cb3e1" stroke-width="0.8"/>
<line x1="331.76" y1="467.61" x2="334.96" y2="467.61" stroke="#8cb3e1" stroke-width="0.8"/>
<circle cx="333.36" cy="470.18" r="1.5" fill="#8cb3e1"/>
<line x1="350.04" y1="478.32" x2="350.04" y2="474.03" stroke="#8cb3e1" stroke-width="0.8"/>
<line x1="348.44" y1="478.32" x2="351.64" y2="478.32" stroke="#8cb3e1" stroke-width="0.8"/>
<line x1="348.44" y1="474.03" x2="351.64" y2="474.03" stroke="#8cb3e1" stroke-width="0.8"/>
<circle cx="350.04" cy="476.18" r="1.5" fill="#8cb3e1"/>
<line x1="366.72" y1="479.6" x2="366.72" y2="476.18" stroke="#8cb3e1" stroke-width="0.8"/>
<line x1="365.12" y1="479.6" x2="368.32" y2="479.6" stroke="#8cb3e1" stroke-width="0.8"/>
<line x1="365.12" y1="476.18" x2="368.32" y2="476.18" stroke="#8cb3e1" stroke-width="0.8"/>
<circle cx="366.72" cy="477.89" r="1.5" fill="#8cb3e1"/>
<line x1="304.5" y1="485.4" x2="311.5" y2="485.4" stroke="#8cb3e1" stroke-width="1"/>
<circle cx="308" cy="485.4" r="1.5" fill="#8cb3e1"/>
<g><text x="314.5" y="487.92" font-size="7.2" xml:space="preserve">SED</text><circle cx="332.19" cy="486.48" r="1.44" fill="none" stroke="#161616" stroke-width="0.68"/><path d="M333.22 485.44L335.35 483.02M333.77 483.02H335.35V484.61" stroke="#161616" stroke-width="0.68" fill="none"/><text x="335.79" y="487.92" font-size="7.2" xml:space="preserve">(n=13)</text></g>
<line x1="304.5" y1="495" x2="311.5" y2="495" stroke="#274d8c" stroke-width="1"/>
<circle cx="308" cy="495" r="1.5" fill="#274d8c"/>
<g><text x="314.5" y="497.52" font-size="7.2" xml:space="preserve">EXE</text><circle cx="331.79" cy="496.08" r="1.44" fill="none" stroke="#161616" stroke-width="0.68"/><path d="M332.82 495.04L334.96 492.62M333.37 492.62H334.96V494.21" stroke="#161616" stroke-width="0.68" fill="none"/><text x="335.39" y="497.52" font-size="7.2" xml:space="preserve">(n=15)</text></g>
<text x="284" y="454.6" text-anchor="middle" font-size="8.6" transform="rotate(-90 284 454.6)">Blood glucose (mM)</text>
<text x="337.5" y="524.2" text-anchor="middle" font-size="8.8">Time (min)</text>
<line x1="391.1" y1="290.1" x2="391.1" y2="372" stroke="#3c3c3c" stroke-width="1"/>
<line x1="388.6" y1="372" x2="391.1" y2="372" stroke="#3c3c3c" stroke-width="1"/>
<text x="387.4" y="374.98" text-anchor="end">0</text>
<line x1="388.6" y1="344.7" x2="391.1" y2="344.7" stroke="#3c3c3c" stroke-width="1"/>
<text x="387.4" y="347.68" text-anchor="end">2</text>
<line x1="388.6" y1="317.4" x2="391.1" y2="317.4" stroke="#3c3c3c" stroke-width="1"/>
<text x="387.4" y="320.38" text-anchor="end">4</text>
<line x1="388.6" y1="290.1" x2="391.1" y2="290.1" stroke="#3c3c3c" stroke-width="1"/>
<text x="387.4" y="293.08" text-anchor="end">6</text>
<line x1="391.1" y1="372" x2="462" y2="372" stroke="#3c3c3c" stroke-width="0.9"/>
<line x1="391.5" y1="372" x2="391.5" y2="374.5" stroke="#3c3c3c" stroke-width="0.9"/>
<text x="391.5" y="382.57" text-anchor="middle">0</text>
<line x1="418.85" y1="372" x2="418.85" y2="374.5" stroke="#3c3c3c" stroke-width="0.9"/>
<text x="418.85" y="382.57" text-anchor="middle">50</text>
<line x1="446.2" y1="372" x2="446.2" y2="374.5" stroke="#3c3c3c" stroke-width="0.9"/>
<text x="446.2" y="382.57" text-anchor="middle">100</text>
<text x="424.5" y="292.2" text-anchor="middle" font-weight="bold" fill="#3a3a3a" font-size="6.9">ITT (25 mo)</text>
<polyline points="391.5,303.75 399.7,335.14 407.91,339.92 424.32,347.43 440.73,331.05 457.14,314.67" fill="none" stroke="#f07a83" stroke-width="1" stroke-linejoin="round"/>
<line x1="391.5" y1="307.85" x2="391.5" y2="299.66" stroke="#f07a83" stroke-width="0.8"/>
<line x1="389.9" y1="307.85" x2="393.1" y2="307.85" stroke="#f07a83" stroke-width="0.8"/>
<line x1="389.9" y1="299.66" x2="393.1" y2="299.66" stroke="#f07a83" stroke-width="0.8"/>
<circle cx="391.5" cy="303.75" r="1.5" fill="#f07a83"/>
<line x1="399.7" y1="337.88" x2="399.7" y2="332.42" stroke="#f07a83" stroke-width="0.8"/>
<line x1="398.1" y1="337.88" x2="401.31" y2="337.88" stroke="#f07a83" stroke-width="0.8"/>
<line x1="398.1" y1="332.42" x2="401.31" y2="332.42" stroke="#f07a83" stroke-width="0.8"/>
<circle cx="399.7" cy="335.14" r="1.5" fill="#f07a83"/>
<line x1="407.91" y1="342.65" x2="407.91" y2="337.19" stroke="#f07a83" stroke-width="0.8"/>
<line x1="406.31" y1="342.65" x2="409.51" y2="342.65" stroke="#f07a83" stroke-width="0.8"/>
<line x1="406.31" y1="337.19" x2="409.51" y2="337.19" stroke="#f07a83" stroke-width="0.8"/>
<circle cx="407.91" cy="339.92" r="1.5" fill="#f07a83"/>
<line x1="424.32" y1="350.16" x2="424.32" y2="344.7" stroke="#f07a83" stroke-width="0.8"/>
<line x1="422.72" y1="350.16" x2="425.92" y2="350.16" stroke="#f07a83" stroke-width="0.8"/>
<line x1="422.72" y1="344.7" x2="425.92" y2="344.7" stroke="#f07a83" stroke-width="0.8"/>
<circle cx="424.32" cy="347.43" r="1.5" fill="#f07a83"/>
<line x1="440.73" y1="335.14" x2="440.73" y2="326.96" stroke="#f07a83" stroke-width="0.8"/>
<line x1="439.13" y1="335.14" x2="442.33" y2="335.14" stroke="#f07a83" stroke-width="0.8"/>
<line x1="439.13" y1="326.96" x2="442.33" y2="326.96" stroke="#f07a83" stroke-width="0.8"/>
<circle cx="440.73" cy="331.05" r="1.5" fill="#f07a83"/>
<line x1="457.14" y1="318.76" x2="457.14" y2="310.58" stroke="#f07a83" stroke-width="0.8"/>
<line x1="455.54" y1="318.76" x2="458.74" y2="318.76" stroke="#f07a83" stroke-width="0.8"/>
<line x1="455.54" y1="310.58" x2="458.74" y2="310.58" stroke="#f07a83" stroke-width="0.8"/>
<circle cx="457.14" cy="314.67" r="1.5" fill="#f07a83"/>
<polyline points="391.5,302.39 399.7,333.78 407.91,337.19 424.32,341.97 440.73,337.88 457.14,329.69" fill="none" stroke="#a51d24" stroke-width="1" stroke-linejoin="round"/>
<line x1="391.5" y1="306.48" x2="391.5" y2="298.29" stroke="#a51d24" stroke-width="0.8"/>
<line x1="389.9" y1="306.48" x2="393.1" y2="306.48" stroke="#a51d24" stroke-width="0.8"/>
<line x1="389.9" y1="298.29" x2="393.1" y2="298.29" stroke="#a51d24" stroke-width="0.8"/>
<circle cx="391.5" cy="302.39" r="1.5" fill="#a51d24"/>
<line x1="399.7" y1="336.51" x2="399.7" y2="331.05" stroke="#a51d24" stroke-width="0.8"/>
<line x1="398.1" y1="336.51" x2="401.31" y2="336.51" stroke="#a51d24" stroke-width="0.8"/>
<line x1="398.1" y1="331.05" x2="401.31" y2="331.05" stroke="#a51d24" stroke-width="0.8"/>
<circle cx="399.7" cy="333.78" r="1.5" fill="#a51d24"/>
<line x1="407.91" y1="341.29" x2="407.91" y2="333.1" stroke="#a51d24" stroke-width="0.8"/>
<line x1="406.31" y1="341.29" x2="409.51" y2="341.29" stroke="#a51d24" stroke-width="0.8"/>
<line x1="406.31" y1="333.1" x2="409.51" y2="333.1" stroke="#a51d24" stroke-width="0.8"/>
<circle cx="407.91" cy="337.19" r="1.5" fill="#a51d24"/>
<line x1="424.32" y1="344.7" x2="424.32" y2="339.24" stroke="#a51d24" stroke-width="0.8"/>
<line x1="422.72" y1="344.7" x2="425.92" y2="344.7" stroke="#a51d24" stroke-width="0.8"/>
<line x1="422.72" y1="339.24" x2="425.92" y2="339.24" stroke="#a51d24" stroke-width="0.8"/>
<circle cx="424.32" cy="341.97" r="1.5" fill="#a51d24"/>
<line x1="440.73" y1="341.97" x2="440.73" y2="333.78" stroke="#a51d24" stroke-width="0.8"/>
<line x1="439.13" y1="341.97" x2="442.33" y2="341.97" stroke="#a51d24" stroke-width="0.8"/>
<line x1="439.13" y1="333.78" x2="442.33" y2="333.78" stroke="#a51d24" stroke-width="0.8"/>
<circle cx="440.73" cy="337.88" r="1.5" fill="#a51d24"/>
<line x1="457.14" y1="333.78" x2="457.14" y2="325.59" stroke="#a51d24" stroke-width="0.8"/>
<line x1="455.54" y1="333.78" x2="458.74" y2="333.78" stroke="#a51d24" stroke-width="0.8"/>
<line x1="455.54" y1="325.59" x2="458.74" y2="325.59" stroke="#a51d24" stroke-width="0.8"/>
<circle cx="457.14" cy="329.69" r="1.5" fill="#a51d24"/>
<line x1="395.2" y1="357.2" x2="402.2" y2="357.2" stroke="#f07a83" stroke-width="1"/>
<circle cx="398.7" cy="357.2" r="1.5" fill="#f07a83"/>
<g><text x="405.2" y="359.72" font-size="7.2" xml:space="preserve">SED</text><circle cx="423.32" cy="356.12" r="1.58" fill="none" stroke="#161616" stroke-width="0.68"/><path d="M423.32 357.7V360.73M422.02 359.36H424.61" stroke="#161616" stroke-width="0.68" fill="none"/><text x="426.2" y="359.72" font-size="7.2" xml:space="preserve">(n=9)</text></g>
<line x1="395.2" y1="366.4" x2="402.2" y2="366.4" stroke="#a51d24" stroke-width="1"/>
<circle cx="398.7" cy="366.4" r="1.5" fill="#a51d24"/>
<g><text x="405.2" y="368.92" font-size="7.2" xml:space="preserve">EXE</text><circle cx="422.92" cy="365.32" r="1.58" fill="none" stroke="#161616" stroke-width="0.68"/><path d="M422.92 366.9V369.93M421.62 368.56H424.22" stroke="#161616" stroke-width="0.68" fill="none"/><text x="425.8" y="368.92" font-size="7.2" xml:space="preserve">(n=10)</text></g>
<line x1="391.6" y1="413.9" x2="391.6" y2="497" stroke="#3c3c3c" stroke-width="1"/>
<line x1="389.1" y1="497" x2="391.6" y2="497" stroke="#3c3c3c" stroke-width="1"/>
<text x="387.9" y="499.98" text-anchor="end">0</text>
<line x1="389.1" y1="469.3" x2="391.6" y2="469.3" stroke="#3c3c3c" stroke-width="1"/>
<text x="387.9" y="472.28" text-anchor="end">2</text>
<line x1="389.1" y1="441.6" x2="391.6" y2="441.6" stroke="#3c3c3c" stroke-width="1"/>
<text x="387.9" y="444.57" text-anchor="end">4</text>
<line x1="389.1" y1="413.9" x2="391.6" y2="413.9" stroke="#3c3c3c" stroke-width="1"/>
<text x="387.9" y="416.88" text-anchor="end">6</text>
<line x1="391.6" y1="497" x2="462.7" y2="497" stroke="#a3a3a3" stroke-width="1.5"/>
<line x1="391.6" y1="497" x2="391.6" y2="499.5" stroke="#a3a3a3" stroke-width="1.5"/>
<text x="391.6" y="507.57" text-anchor="middle">0</text>
<line x1="419.05" y1="497" x2="419.05" y2="499.5" stroke="#a3a3a3" stroke-width="1.5"/>
<text x="419.05" y="507.57" text-anchor="middle">50</text>
<line x1="446.5" y1="497" x2="446.5" y2="499.5" stroke="#a3a3a3" stroke-width="1.5"/>
<text x="446.5" y="507.57" text-anchor="middle">100</text>
<line x1="391.6" y1="496.25" x2="391.6" y2="497.75" stroke="#3c3c3c" stroke-width="1"/>
<text x="424.5" y="416.8" text-anchor="middle" font-weight="bold" fill="#3a3a3a" font-size="6.9">ITT (22 mo)</text>
<polyline points="391.6,426.37 399.84,451.29 408.07,455.45 424.54,462.38 441.01,466.53 457.48,451.29" fill="none" stroke="#8cb3e1" stroke-width="1" stroke-linejoin="round"/>
<line x1="391.6" y1="429.13" x2="391.6" y2="423.59" stroke="#8cb3e1" stroke-width="0.8"/>
<line x1="390" y1="429.13" x2="393.2" y2="429.13" stroke="#8cb3e1" stroke-width="0.8"/>
<line x1="390" y1="423.59" x2="393.2" y2="423.59" stroke="#8cb3e1" stroke-width="0.8"/>
<circle cx="391.6" cy="426.37" r="1.5" fill="#8cb3e1"/>
<line x1="399.84" y1="455.45" x2="399.84" y2="447.14" stroke="#8cb3e1" stroke-width="0.8"/>
<line x1="398.24" y1="455.45" x2="401.44" y2="455.45" stroke="#8cb3e1" stroke-width="0.8"/>
<line x1="398.24" y1="447.14" x2="401.44" y2="447.14" stroke="#8cb3e1" stroke-width="0.8"/>
<circle cx="399.84" cy="451.29" r="1.5" fill="#8cb3e1"/>
<line x1="408.07" y1="458.22" x2="408.07" y2="452.68" stroke="#8cb3e1" stroke-width="0.8"/>
<line x1="406.47" y1="458.22" x2="409.67" y2="458.22" stroke="#8cb3e1" stroke-width="0.8"/>
<line x1="406.47" y1="452.68" x2="409.67" y2="452.68" stroke="#8cb3e1" stroke-width="0.8"/>
<circle cx="408.07" cy="455.45" r="1.5" fill="#8cb3e1"/>
<line x1="424.54" y1="465.14" x2="424.54" y2="459.6" stroke="#8cb3e1" stroke-width="0.8"/>
<line x1="422.94" y1="465.14" x2="426.14" y2="465.14" stroke="#8cb3e1" stroke-width="0.8"/>
<line x1="422.94" y1="459.6" x2="426.14" y2="459.6" stroke="#8cb3e1" stroke-width="0.8"/>
<circle cx="424.54" cy="462.38" r="1.5" fill="#8cb3e1"/>
<line x1="441.01" y1="469.3" x2="441.01" y2="463.76" stroke="#8cb3e1" stroke-width="0.8"/>
<line x1="439.41" y1="469.3" x2="442.61" y2="469.3" stroke="#8cb3e1" stroke-width="0.8"/>
<line x1="439.41" y1="463.76" x2="442.61" y2="463.76" stroke="#8cb3e1" stroke-width="0.8"/>
<circle cx="441.01" cy="466.53" r="1.5" fill="#8cb3e1"/>
<line x1="457.48" y1="458.22" x2="457.48" y2="444.37" stroke="#8cb3e1" stroke-width="0.8"/>
<line x1="455.88" y1="458.22" x2="459.08" y2="458.22" stroke="#8cb3e1" stroke-width="0.8"/>
<line x1="455.88" y1="444.37" x2="459.08" y2="444.37" stroke="#8cb3e1" stroke-width="0.8"/>
<circle cx="457.48" cy="451.29" r="1.5" fill="#8cb3e1"/>
<polyline points="391.6,424.98 399.84,456.83 408.07,458.91 424.54,466.53 441.01,464.45 457.48,454.06" fill="none" stroke="#274d8c" stroke-width="1" stroke-linejoin="round"/>
<line x1="391.6" y1="427.75" x2="391.6" y2="422.21" stroke="#274d8c" stroke-width="0.8"/>
<line x1="390" y1="427.75" x2="393.2" y2="427.75" stroke="#274d8c" stroke-width="0.8"/>
<line x1="390" y1="422.21" x2="393.2" y2="422.21" stroke="#274d8c" stroke-width="0.8"/>
<circle cx="391.6" cy="424.98" r="1.5" fill="#274d8c"/>
<line x1="399.84" y1="460.99" x2="399.84" y2="452.68" stroke="#274d8c" stroke-width="0.8"/>
<line x1="398.24" y1="460.99" x2="401.44" y2="460.99" stroke="#274d8c" stroke-width="0.8"/>
<line x1="398.24" y1="452.68" x2="401.44" y2="452.68" stroke="#274d8c" stroke-width="0.8"/>
<circle cx="399.84" cy="456.83" r="1.5" fill="#274d8c"/>
<line x1="408.07" y1="463.07" x2="408.07" y2="454.76" stroke="#274d8c" stroke-width="0.8"/>
<line x1="406.47" y1="463.07" x2="409.67" y2="463.07" stroke="#274d8c" stroke-width="0.8"/>
<line x1="406.47" y1="454.76" x2="409.67" y2="454.76" stroke="#274d8c" stroke-width="0.8"/>
<circle cx="408.07" cy="458.91" r="1.5" fill="#274d8c"/>
<line x1="424.54" y1="470.69" x2="424.54" y2="462.38" stroke="#274d8c" stroke-width="0.8"/>
<line x1="422.94" y1="470.69" x2="426.14" y2="470.69" stroke="#274d8c" stroke-width="0.8"/>
<line x1="422.94" y1="462.38" x2="426.14" y2="462.38" stroke="#274d8c" stroke-width="0.8"/>
<circle cx="424.54" cy="466.53" r="1.5" fill="#274d8c"/>
<line x1="441.01" y1="469.99" x2="441.01" y2="458.91" stroke="#274d8c" stroke-width="0.8"/>
<line x1="439.41" y1="469.99" x2="442.61" y2="469.99" stroke="#274d8c" stroke-width="0.8"/>
<line x1="439.41" y1="458.91" x2="442.61" y2="458.91" stroke="#274d8c" stroke-width="0.8"/>
<circle cx="441.01" cy="464.45" r="1.5" fill="#274d8c"/>
<line x1="457.48" y1="459.6" x2="457.48" y2="448.52" stroke="#274d8c" stroke-width="0.8"/>
<line x1="455.88" y1="459.6" x2="459.08" y2="459.6" stroke="#274d8c" stroke-width="0.8"/>
<line x1="455.88" y1="448.52" x2="459.08" y2="448.52" stroke="#274d8c" stroke-width="0.8"/>
<circle cx="457.48" cy="454.06" r="1.5" fill="#274d8c"/>
<line x1="395.2" y1="482.3" x2="402.2" y2="482.3" stroke="#8cb3e1" stroke-width="1"/>
<circle cx="398.7" cy="482.3" r="1.5" fill="#8cb3e1"/>
<g><text x="405.2" y="484.82" font-size="7.2" xml:space="preserve">SED</text><circle cx="422.88" cy="483.38" r="1.44" fill="none" stroke="#161616" stroke-width="0.68"/><path d="M423.92 482.34L426.05 479.92M424.47 479.92H426.05V481.51" stroke="#161616" stroke-width="0.68" fill="none"/><text x="426.49" y="484.82" font-size="7.2" xml:space="preserve">(n=9)</text></g>
<line x1="395.2" y1="491.5" x2="402.2" y2="491.5" stroke="#274d8c" stroke-width="1"/>
<circle cx="398.7" cy="491.5" r="1.5" fill="#274d8c"/>
<g><text x="405.2" y="494.02" font-size="7.2" xml:space="preserve">EXE</text><circle cx="422.49" cy="492.58" r="1.44" fill="none" stroke="#161616" stroke-width="0.68"/><path d="M423.52 491.54L425.66 489.12M424.07 489.12H425.66V490.71" stroke="#161616" stroke-width="0.68" fill="none"/><text x="426.09" y="494.02" font-size="7.2" xml:space="preserve">(n=10)</text></g>
<text x="427.4" y="519.6" text-anchor="middle" font-size="8.8">Time (min)</text>
<text x="469.2" y="279.8" font-weight="bold" fill="#000" font-size="15.5">j</text>
<text x="588.6" y="273.2" text-anchor="middle" fill="#333" font-size="7">24 mo</text>
<rect x="502.3" y="278.8" width="87.6" height="9.4" fill="#fff" stroke="#222" stroke-width="0.9"/>
<rect x="589.9" y="278.8" width="84.3" height="9.4" fill="#fff" stroke="#222" stroke-width="0.9"/>
<text x="546.1" y="285.7" text-anchor="middle" font-style="italic" font-size="6.4">Ad libitum</text>
<text x="629.35" y="285.7" text-anchor="middle" font-size="6.2">Fasting</text>
<rect x="546.9" y="288.2" width="43" height="87" fill="#d6d6d6"/>
<rect x="631.8" y="288.2" width="42.2" height="87" fill="#d6d6d6"/>
<line x1="502.3" y1="288.2" x2="502.3" y2="375.2" stroke="#3c3c3c" stroke-width="1"/>
<line x1="499.8" y1="375.2" x2="502.3" y2="375.2" stroke="#3c3c3c" stroke-width="1"/>
<text x="498.6" y="378.18" text-anchor="end">0</text>
<line x1="499.8" y1="346.2" x2="502.3" y2="346.2" stroke="#3c3c3c" stroke-width="1"/>
<text x="498.6" y="349.18" text-anchor="end">10</text>
<line x1="499.8" y1="317.2" x2="502.3" y2="317.2" stroke="#3c3c3c" stroke-width="1"/>
<text x="498.6" y="320.18" text-anchor="end">20</text>
<line x1="499.8" y1="288.2" x2="502.3" y2="288.2" stroke="#3c3c3c" stroke-width="1"/>
<text x="498.6" y="291.18" text-anchor="end">30</text>
<line x1="502.3" y1="375.2" x2="674.2" y2="375.2" stroke="#3c3c3c" stroke-width="0.9"/>
<line x1="503.9" y1="375.2" x2="503.9" y2="377.7" stroke="#3c3c3c" stroke-width="0.9"/>
<text x="503.9" y="385.77" text-anchor="middle">0</text>
<line x1="546.42" y1="375.2" x2="546.42" y2="377.7" stroke="#3c3c3c" stroke-width="0.9"/>
<text x="546.42" y="385.77" text-anchor="middle">12</text>
<line x1="588.95" y1="375.2" x2="588.95" y2="377.7" stroke="#3c3c3c" stroke-width="0.9"/>
<text x="588.95" y="385.77" text-anchor="middle">24</text>
<line x1="631.48" y1="375.2" x2="631.48" y2="377.7" stroke="#3c3c3c" stroke-width="0.9"/>
<text x="631.48" y="385.77" text-anchor="middle">36</text>
<line x1="674" y1="375.2" x2="674" y2="377.7" stroke="#3c3c3c" stroke-width="0.9"/>
<text x="674" y="385.77" text-anchor="middle">48</text>
<polyline points="503.9,336.92 507.44,335.18 510.99,332.28 514.53,335.18 518.07,324.45 521.62,319.52 525.16,316.33 528.71,321.26 532.25,319.52 535.79,323 539.34,325.9 542.88,321.26 546.42,324.45 549.97,314.01 553.51,318.07 557.06,319.52 560.6,323 564.14,332.28 567.69,330.54 571.23,335.18 574.77,333.73 578.32,318.07 581.86,314.01 585.41,333.73 588.95,341.56 592.49,335.18 596.04,323 599.58,325.9 603.12,319.52 606.67,311.69 610.21,310.82 613.76,318.07 617.3,325.9 620.84,330.54 624.39,334.6 627.93,332.86 631.48,341.56 635.02,342.14 638.56,344.75 642.11,343.3 645.65,346.2 649.19,344.75 652.74,346.2 656.28,343.3 659.83,344.75 663.37,346.2 666.91,344.75 670.46,344.17 674,340.11" fill="none" stroke="#f07a83" stroke-width="0.8" stroke-linejoin="round"/>
<line x1="503.9" y1="342.12" x2="503.9" y2="331.72" stroke="#f07a83" stroke-width="0.6"/>
<line x1="502.9" y1="342.12" x2="504.9" y2="342.12" stroke="#f07a83" stroke-width="0.6"/>
<line x1="502.9" y1="331.72" x2="504.9" y2="331.72" stroke="#f07a83" stroke-width="0.6"/>
<circle cx="503.9" cy="336.92" r="1.15" fill="#f07a83"/>
<line x1="507.44" y1="340.48" x2="507.44" y2="329.88" stroke="#f07a83" stroke-width="0.6"/>
<line x1="506.44" y1="340.48" x2="508.44" y2="340.48" stroke="#f07a83" stroke-width="0.6"/>
<line x1="506.44" y1="329.88" x2="508.44" y2="329.88" stroke="#f07a83" stroke-width="0.6"/>
<circle cx="507.44" cy="335.18" r="1.15" fill="#f07a83"/>
<line x1="510.99" y1="337.76" x2="510.99" y2="326.8" stroke="#f07a83" stroke-width="0.6"/>
<line x1="509.99" y1="337.76" x2="511.99" y2="337.76" stroke="#f07a83" stroke-width="0.6"/>
<line x1="509.99" y1="326.8" x2="511.99" y2="326.8" stroke="#f07a83" stroke-width="0.6"/>
<circle cx="510.99" cy="332.28" r="1.15" fill="#f07a83"/>
<line x1="514.53" y1="340.48" x2="514.53" y2="329.88" stroke="#f07a83" stroke-width="0.6"/>
<line x1="513.53" y1="340.48" x2="515.53" y2="340.48" stroke="#f07a83" stroke-width="0.6"/>
<line x1="513.53" y1="329.88" x2="515.53" y2="329.88" stroke="#f07a83" stroke-width="0.6"/>
<circle cx="514.53" cy="335.18" r="1.15" fill="#f07a83"/>
<line x1="518.07" y1="330.39" x2="518.07" y2="318.5" stroke="#f07a83" stroke-width="0.6"/>
<line x1="517.07" y1="330.39" x2="519.07" y2="330.39" stroke="#f07a83" stroke-width="0.6"/>
<line x1="517.07" y1="318.5" x2="519.07" y2="318.5" stroke="#f07a83" stroke-width="0.6"/>
<circle cx="518.07" cy="324.45" r="1.15" fill="#f07a83"/>
<line x1="521.62" y1="325.76" x2="521.62" y2="313.28" stroke="#f07a83" stroke-width="0.6"/>
<line x1="520.62" y1="325.76" x2="522.62" y2="325.76" stroke="#f07a83" stroke-width="0.6"/>
<line x1="520.62" y1="313.28" x2="522.62" y2="313.28" stroke="#f07a83" stroke-width="0.6"/>
<circle cx="521.62" cy="319.52" r="1.15" fill="#f07a83"/>
<line x1="525.16" y1="322.76" x2="525.16" y2="309.9" stroke="#f07a83" stroke-width="0.6"/>
<line x1="524.16" y1="322.76" x2="526.16" y2="322.76" stroke="#f07a83" stroke-width="0.6"/>
<line x1="524.16" y1="309.9" x2="526.16" y2="309.9" stroke="#f07a83" stroke-width="0.6"/>
<circle cx="525.16" cy="316.33" r="1.15" fill="#f07a83"/>
<line x1="528.71" y1="327.4" x2="528.71" y2="315.12" stroke="#f07a83" stroke-width="0.6"/>
<line x1="527.71" y1="327.4" x2="529.71" y2="327.4" stroke="#f07a83" stroke-width="0.6"/>
<line x1="527.71" y1="315.12" x2="529.71" y2="315.12" stroke="#f07a83" stroke-width="0.6"/>
<circle cx="528.71" cy="321.26" r="1.15" fill="#f07a83"/>
<line x1="532.25" y1="325.76" x2="532.25" y2="313.28" stroke="#f07a83" stroke-width="0.6"/>
<line x1="531.25" y1="325.76" x2="533.25" y2="325.76" stroke="#f07a83" stroke-width="0.6"/>
<line x1="531.25" y1="313.28" x2="533.25" y2="313.28" stroke="#f07a83" stroke-width="0.6"/>
<circle cx="532.25" cy="319.52" r="1.15" fill="#f07a83"/>
<line x1="535.79" y1="329.03" x2="535.79" y2="316.97" stroke="#f07a83" stroke-width="0.6"/>
<line x1="534.79" y1="329.03" x2="536.79" y2="329.03" stroke="#f07a83" stroke-width="0.6"/>
<line x1="534.79" y1="316.97" x2="536.79" y2="316.97" stroke="#f07a83" stroke-width="0.6"/>
<circle cx="535.79" cy="323" r="1.15" fill="#f07a83"/>
<line x1="539.34" y1="331.76" x2="539.34" y2="320.04" stroke="#f07a83" stroke-width="0.6"/>
<line x1="538.34" y1="331.76" x2="540.34" y2="331.76" stroke="#f07a83" stroke-width="0.6"/>
<line x1="538.34" y1="320.04" x2="540.34" y2="320.04" stroke="#f07a83" stroke-width="0.6"/>
<circle cx="539.34" cy="325.9" r="1.15" fill="#f07a83"/>
<line x1="542.88" y1="327.4" x2="542.88" y2="315.12" stroke="#f07a83" stroke-width="0.6"/>
<line x1="541.88" y1="327.4" x2="543.88" y2="327.4" stroke="#f07a83" stroke-width="0.6"/>
<line x1="541.88" y1="315.12" x2="543.88" y2="315.12" stroke="#f07a83" stroke-width="0.6"/>
<circle cx="542.88" cy="321.26" r="1.15" fill="#f07a83"/>
<line x1="546.42" y1="330.39" x2="546.42" y2="318.5" stroke="#f07a83" stroke-width="0.6"/>
<line x1="545.42" y1="330.39" x2="547.42" y2="330.39" stroke="#f07a83" stroke-width="0.6"/>
<line x1="545.42" y1="318.5" x2="547.42" y2="318.5" stroke="#f07a83" stroke-width="0.6"/>
<circle cx="546.42" cy="324.45" r="1.15" fill="#f07a83"/>
<line x1="549.97" y1="320.58" x2="549.97" y2="307.44" stroke="#f07a83" stroke-width="0.6"/>
<line x1="548.97" y1="320.58" x2="550.97" y2="320.58" stroke="#f07a83" stroke-width="0.6"/>
<line x1="548.97" y1="307.44" x2="550.97" y2="307.44" stroke="#f07a83" stroke-width="0.6"/>
<circle cx="549.97" cy="314.01" r="1.15" fill="#f07a83"/>
<line x1="553.51" y1="324.4" x2="553.51" y2="311.74" stroke="#f07a83" stroke-width="0.6"/>
<line x1="552.51" y1="324.4" x2="554.51" y2="324.4" stroke="#f07a83" stroke-width="0.6"/>
<line x1="552.51" y1="311.74" x2="554.51" y2="311.74" stroke="#f07a83" stroke-width="0.6"/>
<circle cx="553.51" cy="318.07" r="1.15" fill="#f07a83"/>
<line x1="557.06" y1="325.76" x2="557.06" y2="313.28" stroke="#f07a83" stroke-width="0.6"/>
<line x1="556.06" y1="325.76" x2="558.06" y2="325.76" stroke="#f07a83" stroke-width="0.6"/>
<line x1="556.06" y1="313.28" x2="558.06" y2="313.28" stroke="#f07a83" stroke-width="0.6"/>
<circle cx="557.06" cy="319.52" r="1.15" fill="#f07a83"/>
<line x1="560.6" y1="329.03" x2="560.6" y2="316.97" stroke="#f07a83" stroke-width="0.6"/>
<line x1="559.6" y1="329.03" x2="561.6" y2="329.03" stroke="#f07a83" stroke-width="0.6"/>
<line x1="559.6" y1="316.97" x2="561.6" y2="316.97" stroke="#f07a83" stroke-width="0.6"/>
<circle cx="560.6" cy="323" r="1.15" fill="#f07a83"/>
<line x1="564.14" y1="337.76" x2="564.14" y2="326.8" stroke="#f07a83" stroke-width="0.6"/>
<line x1="563.14" y1="337.76" x2="565.14" y2="337.76" stroke="#f07a83" stroke-width="0.6"/>
<line x1="563.14" y1="326.8" x2="565.14" y2="326.8" stroke="#f07a83" stroke-width="0.6"/>
<circle cx="564.14" cy="332.28" r="1.15" fill="#f07a83"/>
<line x1="567.69" y1="336.12" x2="567.69" y2="324.96" stroke="#f07a83" stroke-width="0.6"/>
<line x1="566.69" y1="336.12" x2="568.69" y2="336.12" stroke="#f07a83" stroke-width="0.6"/>
<line x1="566.69" y1="324.96" x2="568.69" y2="324.96" stroke="#f07a83" stroke-width="0.6"/>
<circle cx="567.69" cy="330.54" r="1.15" fill="#f07a83"/>
<line x1="571.23" y1="340.48" x2="571.23" y2="329.88" stroke="#f07a83" stroke-width="0.6"/>
<line x1="570.23" y1="340.48" x2="572.23" y2="340.48" stroke="#f07a83" stroke-width="0.6"/>
<line x1="570.23" y1="329.88" x2="572.23" y2="329.88" stroke="#f07a83" stroke-width="0.6"/>
<circle cx="571.23" cy="335.18" r="1.15" fill="#f07a83"/>
<line x1="574.77" y1="339.12" x2="574.77" y2="328.34" stroke="#f07a83" stroke-width="0.6"/>
<line x1="573.77" y1="339.12" x2="575.77" y2="339.12" stroke="#f07a83" stroke-width="0.6"/>
<line x1="573.77" y1="328.34" x2="575.77" y2="328.34" stroke="#f07a83" stroke-width="0.6"/>
<circle cx="574.77" cy="333.73" r="1.15" fill="#f07a83"/>
<line x1="578.32" y1="324.4" x2="578.32" y2="311.74" stroke="#f07a83" stroke-width="0.6"/>
<line x1="577.32" y1="324.4" x2="579.32" y2="324.4" stroke="#f07a83" stroke-width="0.6"/>
<line x1="577.32" y1="311.74" x2="579.32" y2="311.74" stroke="#f07a83" stroke-width="0.6"/>
<circle cx="578.32" cy="318.07" r="1.15" fill="#f07a83"/>
<line x1="581.86" y1="320.58" x2="581.86" y2="307.44" stroke="#f07a83" stroke-width="0.6"/>
<line x1="580.86" y1="320.58" x2="582.86" y2="320.58" stroke="#f07a83" stroke-width="0.6"/>
<line x1="580.86" y1="307.44" x2="582.86" y2="307.44" stroke="#f07a83" stroke-width="0.6"/>
<circle cx="581.86" cy="314.01" r="1.15" fill="#f07a83"/>
<line x1="585.41" y1="339.12" x2="585.41" y2="328.34" stroke="#f07a83" stroke-width="0.6"/>
<line x1="584.41" y1="339.12" x2="586.41" y2="339.12" stroke="#f07a83" stroke-width="0.6"/>
<line x1="584.41" y1="328.34" x2="586.41" y2="328.34" stroke="#f07a83" stroke-width="0.6"/>
<circle cx="585.41" cy="333.73" r="1.15" fill="#f07a83"/>
<line x1="588.95" y1="346.48" x2="588.95" y2="336.64" stroke="#f07a83" stroke-width="0.6"/>
<line x1="587.95" y1="346.48" x2="589.95" y2="346.48" stroke="#f07a83" stroke-width="0.6"/>
<line x1="587.95" y1="336.64" x2="589.95" y2="336.64" stroke="#f07a83" stroke-width="0.6"/>
<circle cx="588.95" cy="341.56" r="1.15" fill="#f07a83"/>
<line x1="592.49" y1="340.48" x2="592.49" y2="329.88" stroke="#f07a83" stroke-width="0.6"/>
<line x1="591.49" y1="340.48" x2="593.49" y2="340.48" stroke="#f07a83" stroke-width="0.6"/>
<line x1="591.49" y1="329.88" x2="593.49" y2="329.88" stroke="#f07a83" stroke-width="0.6"/>
<circle cx="592.49" cy="335.18" r="1.15" fill="#f07a83"/>
<line x1="596.04" y1="329.03" x2="596.04" y2="316.97" stroke="#f07a83" stroke-width="0.6"/>
<line x1="595.04" y1="329.03" x2="597.04" y2="329.03" stroke="#f07a83" stroke-width="0.6"/>
<line x1="595.04" y1="316.97" x2="597.04" y2="316.97" stroke="#f07a83" stroke-width="0.6"/>
<circle cx="596.04" cy="323" r="1.15" fill="#f07a83"/>
<line x1="599.58" y1="331.76" x2="599.58" y2="320.04" stroke="#f07a83" stroke-width="0.6"/>
<line x1="598.58" y1="331.76" x2="600.58" y2="331.76" stroke="#f07a83" stroke-width="0.6"/>
<line x1="598.58" y1="320.04" x2="600.58" y2="320.04" stroke="#f07a83" stroke-width="0.6"/>
<circle cx="599.58" cy="325.9" r="1.15" fill="#f07a83"/>
<line x1="603.12" y1="325.76" x2="603.12" y2="313.28" stroke="#f07a83" stroke-width="0.6"/>
<line x1="602.12" y1="325.76" x2="604.12" y2="325.76" stroke="#f07a83" stroke-width="0.6"/>
<line x1="602.12" y1="313.28" x2="604.12" y2="313.28" stroke="#f07a83" stroke-width="0.6"/>
<circle cx="603.12" cy="319.52" r="1.15" fill="#f07a83"/>
<line x1="606.67" y1="318.4" x2="606.67" y2="304.98" stroke="#f07a83" stroke-width="0.6"/>
<line x1="605.67" y1="318.4" x2="607.67" y2="318.4" stroke="#f07a83" stroke-width="0.6"/>
<line x1="605.67" y1="304.98" x2="607.67" y2="304.98" stroke="#f07a83" stroke-width="0.6"/>
<circle cx="606.67" cy="311.69" r="1.15" fill="#f07a83"/>
<line x1="610.21" y1="317.58" x2="610.21" y2="304.06" stroke="#f07a83" stroke-width="0.6"/>
<line x1="609.21" y1="317.58" x2="611.21" y2="317.58" stroke="#f07a83" stroke-width="0.6"/>
<line x1="609.21" y1="304.06" x2="611.21" y2="304.06" stroke="#f07a83" stroke-width="0.6"/>
<circle cx="610.21" cy="310.82" r="1.15" fill="#f07a83"/>
<line x1="613.76" y1="324.4" x2="613.76" y2="311.74" stroke="#f07a83" stroke-width="0.6"/>
<line x1="612.76" y1="324.4" x2="614.76" y2="324.4" stroke="#f07a83" stroke-width="0.6"/>
<line x1="612.76" y1="311.74" x2="614.76" y2="311.74" stroke="#f07a83" stroke-width="0.6"/>
<circle cx="613.76" cy="318.07" r="1.15" fill="#f07a83"/>
<line x1="617.3" y1="331.76" x2="617.3" y2="320.04" stroke="#f07a83" stroke-width="0.6"/>
<line x1="616.3" y1="331.76" x2="618.3" y2="331.76" stroke="#f07a83" stroke-width="0.6"/>
<line x1="616.3" y1="320.04" x2="618.3" y2="320.04" stroke="#f07a83" stroke-width="0.6"/>
<circle cx="617.3" cy="325.9" r="1.15" fill="#f07a83"/>
<line x1="620.84" y1="336.12" x2="620.84" y2="324.96" stroke="#f07a83" stroke-width="0.6"/>
<line x1="619.84" y1="336.12" x2="621.84" y2="336.12" stroke="#f07a83" stroke-width="0.6"/>
<line x1="619.84" y1="324.96" x2="621.84" y2="324.96" stroke="#f07a83" stroke-width="0.6"/>
<circle cx="620.84" cy="330.54" r="1.15" fill="#f07a83"/>
<line x1="624.39" y1="339.94" x2="624.39" y2="329.26" stroke="#f07a83" stroke-width="0.6"/>
<line x1="623.39" y1="339.94" x2="625.39" y2="339.94" stroke="#f07a83" stroke-width="0.6"/>
<line x1="623.39" y1="329.26" x2="625.39" y2="329.26" stroke="#f07a83" stroke-width="0.6"/>
<circle cx="624.39" cy="334.6" r="1.15" fill="#f07a83"/>
<line x1="627.93" y1="338.3" x2="627.93" y2="327.42" stroke="#f07a83" stroke-width="0.6"/>
<line x1="626.93" y1="338.3" x2="628.93" y2="338.3" stroke="#f07a83" stroke-width="0.6"/>
<line x1="626.93" y1="327.42" x2="628.93" y2="327.42" stroke="#f07a83" stroke-width="0.6"/>
<circle cx="627.93" cy="332.86" r="1.15" fill="#f07a83"/>
<line x1="631.48" y1="346.48" x2="631.48" y2="336.64" stroke="#f07a83" stroke-width="0.6"/>
<line x1="630.48" y1="346.48" x2="632.48" y2="346.48" stroke="#f07a83" stroke-width="0.6"/>
<line x1="630.48" y1="336.64" x2="632.48" y2="336.64" stroke="#f07a83" stroke-width="0.6"/>
<circle cx="631.48" cy="341.56" r="1.15" fill="#f07a83"/>
<line x1="635.02" y1="347.02" x2="635.02" y2="337.26" stroke="#f07a83" stroke-width="0.6"/>
<line x1="634.02" y1="347.02" x2="636.02" y2="347.02" stroke="#f07a83" stroke-width="0.6"/>
<line x1="634.02" y1="337.26" x2="636.02" y2="337.26" stroke="#f07a83" stroke-width="0.6"/>
<circle cx="635.02" cy="342.14" r="1.15" fill="#f07a83"/>
<line x1="638.56" y1="349.48" x2="638.56" y2="340.02" stroke="#f07a83" stroke-width="0.6"/>
<line x1="637.56" y1="349.48" x2="639.56" y2="349.48" stroke="#f07a83" stroke-width="0.6"/>
<line x1="637.56" y1="340.02" x2="639.56" y2="340.02" stroke="#f07a83" stroke-width="0.6"/>
<circle cx="638.56" cy="344.75" r="1.15" fill="#f07a83"/>
<line x1="642.11" y1="348.11" x2="642.11" y2="338.49" stroke="#f07a83" stroke-width="0.6"/>
<line x1="641.11" y1="348.11" x2="643.11" y2="348.11" stroke="#f07a83" stroke-width="0.6"/>
<line x1="641.11" y1="338.49" x2="643.11" y2="338.49" stroke="#f07a83" stroke-width="0.6"/>
<circle cx="642.11" cy="343.3" r="1.15" fill="#f07a83"/>
<line x1="645.65" y1="350.84" x2="645.65" y2="341.56" stroke="#f07a83" stroke-width="0.6"/>
<line x1="644.65" y1="350.84" x2="646.65" y2="350.84" stroke="#f07a83" stroke-width="0.6"/>
<line x1="644.65" y1="341.56" x2="646.65" y2="341.56" stroke="#f07a83" stroke-width="0.6"/>
<circle cx="645.65" cy="346.2" r="1.15" fill="#f07a83"/>
<line x1="649.19" y1="349.48" x2="649.19" y2="340.02" stroke="#f07a83" stroke-width="0.6"/>
<line x1="648.19" y1="349.48" x2="650.19" y2="349.48" stroke="#f07a83" stroke-width="0.6"/>
<line x1="648.19" y1="340.02" x2="650.19" y2="340.02" stroke="#f07a83" stroke-width="0.6"/>
<circle cx="649.19" cy="344.75" r="1.15" fill="#f07a83"/>
<line x1="652.74" y1="350.84" x2="652.74" y2="341.56" stroke="#f07a83" stroke-width="0.6"/>
<line x1="651.74" y1="350.84" x2="653.74" y2="350.84" stroke="#f07a83" stroke-width="0.6"/>
<line x1="651.74" y1="341.56" x2="653.74" y2="341.56" stroke="#f07a83" stroke-width="0.6"/>
<circle cx="652.74" cy="346.2" r="1.15" fill="#f07a83"/>
<line x1="656.28" y1="348.11" x2="656.28" y2="338.49" stroke="#f07a83" stroke-width="0.6"/>
<line x1="655.28" y1="348.11" x2="657.28" y2="348.11" stroke="#f07a83" stroke-width="0.6"/>
<line x1="655.28" y1="338.49" x2="657.28" y2="338.49" stroke="#f07a83" stroke-width="0.6"/>
<circle cx="656.28" cy="343.3" r="1.15" fill="#f07a83"/>
<line x1="659.83" y1="349.48" x2="659.83" y2="340.02" stroke="#f07a83" stroke-width="0.6"/>
<line x1="658.83" y1="349.48" x2="660.83" y2="349.48" stroke="#f07a83" stroke-width="0.6"/>
<line x1="658.83" y1="340.02" x2="660.83" y2="340.02" stroke="#f07a83" stroke-width="0.6"/>
<circle cx="659.83" cy="344.75" r="1.15" fill="#f07a83"/>
<line x1="663.37" y1="350.84" x2="663.37" y2="341.56" stroke="#f07a83" stroke-width="0.6"/>
<line x1="662.37" y1="350.84" x2="664.37" y2="350.84" stroke="#f07a83" stroke-width="0.6"/>
<line x1="662.37" y1="341.56" x2="664.37" y2="341.56" stroke="#f07a83" stroke-width="0.6"/>
<circle cx="663.37" cy="346.2" r="1.15" fill="#f07a83"/>
<line x1="666.91" y1="349.48" x2="666.91" y2="340.02" stroke="#f07a83" stroke-width="0.6"/>
<line x1="665.91" y1="349.48" x2="667.91" y2="349.48" stroke="#f07a83" stroke-width="0.6"/>
<line x1="665.91" y1="340.02" x2="667.91" y2="340.02" stroke="#f07a83" stroke-width="0.6"/>
<circle cx="666.91" cy="344.75" r="1.15" fill="#f07a83"/>
<line x1="670.46" y1="348.93" x2="670.46" y2="339.41" stroke="#f07a83" stroke-width="0.6"/>
<line x1="669.46" y1="348.93" x2="671.46" y2="348.93" stroke="#f07a83" stroke-width="0.6"/>
<line x1="669.46" y1="339.41" x2="671.46" y2="339.41" stroke="#f07a83" stroke-width="0.6"/>
<circle cx="670.46" cy="344.17" r="1.15" fill="#f07a83"/>
<line x1="674" y1="345.12" x2="674" y2="335.1" stroke="#f07a83" stroke-width="0.6"/>
<line x1="673" y1="345.12" x2="675" y2="345.12" stroke="#f07a83" stroke-width="0.6"/>
<line x1="673" y1="335.1" x2="675" y2="335.1" stroke="#f07a83" stroke-width="0.6"/>
<circle cx="674" cy="340.11" r="1.15" fill="#f07a83"/>
<polyline points="503.9,343.3 507.44,334.6 510.99,327.35 514.53,330.54 518.07,324.45 521.62,319.52 525.16,315.75 528.71,318.07 532.25,323 535.79,321.26 539.34,323 542.88,328.8 546.42,316.33 549.97,315.75 553.51,324.45 557.06,330.54 560.6,326.48 564.14,327.35 567.69,335.18 571.23,336.92 574.77,331.7 578.32,325.9 581.86,328.8 585.41,338.37 588.95,340.98 592.49,325.9 596.04,327.35 599.58,321.26 603.12,322.13 606.67,314.88 610.21,311.69 613.76,313.43 617.3,321.26 620.84,318.07 624.39,323 627.93,325.9 631.48,327.35 635.02,328.8 638.56,340.98 642.11,347.94 645.65,335.18 649.19,340.98 652.74,335.18 656.28,331.7 659.83,329.67 663.37,335.18 666.91,336.05 670.46,336.05 674,335.18" fill="none" stroke="#a51d24" stroke-width="0.8" stroke-linejoin="round"/>
<line x1="503.9" y1="346.16" x2="503.9" y2="340.44" stroke="#a51d24" stroke-width="0.6"/>
<line x1="502.9" y1="346.16" x2="504.9" y2="346.16" stroke="#a51d24" stroke-width="0.6"/>
<line x1="502.9" y1="340.44" x2="504.9" y2="340.44" stroke="#a51d24" stroke-width="0.6"/>
<circle cx="503.9" cy="343.3" r="1.15" fill="#a51d24"/>
<line x1="507.44" y1="337.76" x2="507.44" y2="331.44" stroke="#a51d24" stroke-width="0.6"/>
<line x1="506.44" y1="337.76" x2="508.44" y2="337.76" stroke="#a51d24" stroke-width="0.6"/>
<line x1="506.44" y1="331.44" x2="508.44" y2="331.44" stroke="#a51d24" stroke-width="0.6"/>
<circle cx="507.44" cy="334.6" r="1.15" fill="#a51d24"/>
<line x1="510.99" y1="330.76" x2="510.99" y2="323.94" stroke="#a51d24" stroke-width="0.6"/>
<line x1="509.99" y1="330.76" x2="511.99" y2="330.76" stroke="#a51d24" stroke-width="0.6"/>
<line x1="509.99" y1="323.94" x2="511.99" y2="323.94" stroke="#a51d24" stroke-width="0.6"/>
<circle cx="510.99" cy="327.35" r="1.15" fill="#a51d24"/>
<line x1="514.53" y1="333.84" x2="514.53" y2="327.24" stroke="#a51d24" stroke-width="0.6"/>
<line x1="513.53" y1="333.84" x2="515.53" y2="333.84" stroke="#a51d24" stroke-width="0.6"/>
<line x1="513.53" y1="327.24" x2="515.53" y2="327.24" stroke="#a51d24" stroke-width="0.6"/>
<circle cx="514.53" cy="330.54" r="1.15" fill="#a51d24"/>
<line x1="518.07" y1="327.97" x2="518.07" y2="320.93" stroke="#a51d24" stroke-width="0.6"/>
<line x1="517.07" y1="327.97" x2="519.07" y2="327.97" stroke="#a51d24" stroke-width="0.6"/>
<line x1="517.07" y1="320.93" x2="519.07" y2="320.93" stroke="#a51d24" stroke-width="0.6"/>
<circle cx="518.07" cy="324.45" r="1.15" fill="#a51d24"/>
<line x1="521.62" y1="323.21" x2="521.62" y2="315.83" stroke="#a51d24" stroke-width="0.6"/>
<line x1="520.62" y1="323.21" x2="522.62" y2="323.21" stroke="#a51d24" stroke-width="0.6"/>
<line x1="520.62" y1="315.83" x2="522.62" y2="315.83" stroke="#a51d24" stroke-width="0.6"/>
<circle cx="521.62" cy="319.52" r="1.15" fill="#a51d24"/>
<line x1="525.16" y1="319.57" x2="525.16" y2="311.93" stroke="#a51d24" stroke-width="0.6"/>
<line x1="524.16" y1="319.57" x2="526.16" y2="319.57" stroke="#a51d24" stroke-width="0.6"/>
<line x1="524.16" y1="311.93" x2="526.16" y2="311.93" stroke="#a51d24" stroke-width="0.6"/>
<circle cx="525.16" cy="315.75" r="1.15" fill="#a51d24"/>
<line x1="528.71" y1="321.81" x2="528.71" y2="314.33" stroke="#a51d24" stroke-width="0.6"/>
<line x1="527.71" y1="321.81" x2="529.71" y2="321.81" stroke="#a51d24" stroke-width="0.6"/>
<line x1="527.71" y1="314.33" x2="529.71" y2="314.33" stroke="#a51d24" stroke-width="0.6"/>
<circle cx="528.71" cy="318.07" r="1.15" fill="#a51d24"/>
<line x1="532.25" y1="326.57" x2="532.25" y2="319.43" stroke="#a51d24" stroke-width="0.6"/>
<line x1="531.25" y1="326.57" x2="533.25" y2="326.57" stroke="#a51d24" stroke-width="0.6"/>
<line x1="531.25" y1="319.43" x2="533.25" y2="319.43" stroke="#a51d24" stroke-width="0.6"/>
<circle cx="532.25" cy="323" r="1.15" fill="#a51d24"/>
<line x1="535.79" y1="324.89" x2="535.79" y2="317.63" stroke="#a51d24" stroke-width="0.6"/>
<line x1="534.79" y1="324.89" x2="536.79" y2="324.89" stroke="#a51d24" stroke-width="0.6"/>
<line x1="534.79" y1="317.63" x2="536.79" y2="317.63" stroke="#a51d24" stroke-width="0.6"/>
<circle cx="535.79" cy="321.26" r="1.15" fill="#a51d24"/>
<line x1="539.34" y1="326.57" x2="539.34" y2="319.43" stroke="#a51d24" stroke-width="0.6"/>
<line x1="538.34" y1="326.57" x2="540.34" y2="326.57" stroke="#a51d24" stroke-width="0.6"/>
<line x1="538.34" y1="319.43" x2="540.34" y2="319.43" stroke="#a51d24" stroke-width="0.6"/>
<circle cx="539.34" cy="323" r="1.15" fill="#a51d24"/>
<line x1="542.88" y1="332.16" x2="542.88" y2="325.44" stroke="#a51d24" stroke-width="0.6"/>
<line x1="541.88" y1="332.16" x2="543.88" y2="332.16" stroke="#a51d24" stroke-width="0.6"/>
<line x1="541.88" y1="325.44" x2="543.88" y2="325.44" stroke="#a51d24" stroke-width="0.6"/>
<circle cx="542.88" cy="328.8" r="1.15" fill="#a51d24"/>
<line x1="546.42" y1="320.13" x2="546.42" y2="312.53" stroke="#a51d24" stroke-width="0.6"/>
<line x1="545.42" y1="320.13" x2="547.42" y2="320.13" stroke="#a51d24" stroke-width="0.6"/>
<line x1="545.42" y1="312.53" x2="547.42" y2="312.53" stroke="#a51d24" stroke-width="0.6"/>
<circle cx="546.42" cy="316.33" r="1.15" fill="#a51d24"/>
<line x1="549.97" y1="319.57" x2="549.97" y2="311.93" stroke="#a51d24" stroke-width="0.6"/>
<line x1="548.97" y1="319.57" x2="550.97" y2="319.57" stroke="#a51d24" stroke-width="0.6"/>
<line x1="548.97" y1="311.93" x2="550.97" y2="311.93" stroke="#a51d24" stroke-width="0.6"/>
<circle cx="549.97" cy="315.75" r="1.15" fill="#a51d24"/>
<line x1="553.51" y1="327.97" x2="553.51" y2="320.93" stroke="#a51d24" stroke-width="0.6"/>
<line x1="552.51" y1="327.97" x2="554.51" y2="327.97" stroke="#a51d24" stroke-width="0.6"/>
<line x1="552.51" y1="320.93" x2="554.51" y2="320.93" stroke="#a51d24" stroke-width="0.6"/>
<circle cx="553.51" cy="324.45" r="1.15" fill="#a51d24"/>
<line x1="557.06" y1="333.84" x2="557.06" y2="327.24" stroke="#a51d24" stroke-width="0.6"/>
<line x1="556.06" y1="333.84" x2="558.06" y2="333.84" stroke="#a51d24" stroke-width="0.6"/>
<line x1="556.06" y1="327.24" x2="558.06" y2="327.24" stroke="#a51d24" stroke-width="0.6"/>
<circle cx="557.06" cy="330.54" r="1.15" fill="#a51d24"/>
<line x1="560.6" y1="329.93" x2="560.6" y2="323.03" stroke="#a51d24" stroke-width="0.6"/>
<line x1="559.6" y1="329.93" x2="561.6" y2="329.93" stroke="#a51d24" stroke-width="0.6"/>
<line x1="559.6" y1="323.03" x2="561.6" y2="323.03" stroke="#a51d24" stroke-width="0.6"/>
<circle cx="560.6" cy="326.48" r="1.15" fill="#a51d24"/>
<line x1="564.14" y1="330.76" x2="564.14" y2="323.94" stroke="#a51d24" stroke-width="0.6"/>
<line x1="563.14" y1="330.76" x2="565.14" y2="330.76" stroke="#a51d24" stroke-width="0.6"/>
<line x1="563.14" y1="323.94" x2="565.14" y2="323.94" stroke="#a51d24" stroke-width="0.6"/>
<circle cx="564.14" cy="327.35" r="1.15" fill="#a51d24"/>
<line x1="567.69" y1="338.32" x2="567.69" y2="332.04" stroke="#a51d24" stroke-width="0.6"/>
<line x1="566.69" y1="338.32" x2="568.69" y2="338.32" stroke="#a51d24" stroke-width="0.6"/>
<line x1="566.69" y1="332.04" x2="568.69" y2="332.04" stroke="#a51d24" stroke-width="0.6"/>
<circle cx="567.69" cy="335.18" r="1.15" fill="#a51d24"/>
<line x1="571.23" y1="340" x2="571.23" y2="333.84" stroke="#a51d24" stroke-width="0.6"/>
<line x1="570.23" y1="340" x2="572.23" y2="340" stroke="#a51d24" stroke-width="0.6"/>
<line x1="570.23" y1="333.84" x2="572.23" y2="333.84" stroke="#a51d24" stroke-width="0.6"/>
<circle cx="571.23" cy="336.92" r="1.15" fill="#a51d24"/>
<line x1="574.77" y1="334.96" x2="574.77" y2="328.44" stroke="#a51d24" stroke-width="0.6"/>
<line x1="573.77" y1="334.96" x2="575.77" y2="334.96" stroke="#a51d24" stroke-width="0.6"/>
<line x1="573.77" y1="328.44" x2="575.77" y2="328.44" stroke="#a51d24" stroke-width="0.6"/>
<circle cx="574.77" cy="331.7" r="1.15" fill="#a51d24"/>
<line x1="578.32" y1="329.37" x2="578.32" y2="322.43" stroke="#a51d24" stroke-width="0.6"/>
<line x1="577.32" y1="329.37" x2="579.32" y2="329.37" stroke="#a51d24" stroke-width="0.6"/>
<line x1="577.32" y1="322.43" x2="579.32" y2="322.43" stroke="#a51d24" stroke-width="0.6"/>
<circle cx="578.32" cy="325.9" r="1.15" fill="#a51d24"/>
<line x1="581.86" y1="332.16" x2="581.86" y2="325.44" stroke="#a51d24" stroke-width="0.6"/>
<line x1="580.86" y1="332.16" x2="582.86" y2="332.16" stroke="#a51d24" stroke-width="0.6"/>
<line x1="580.86" y1="325.44" x2="582.86" y2="325.44" stroke="#a51d24" stroke-width="0.6"/>
<circle cx="581.86" cy="328.8" r="1.15" fill="#a51d24"/>
<line x1="585.41" y1="341.4" x2="585.41" y2="335.34" stroke="#a51d24" stroke-width="0.6"/>
<line x1="584.41" y1="341.4" x2="586.41" y2="341.4" stroke="#a51d24" stroke-width="0.6"/>
<line x1="584.41" y1="335.34" x2="586.41" y2="335.34" stroke="#a51d24" stroke-width="0.6"/>
<circle cx="585.41" cy="338.37" r="1.15" fill="#a51d24"/>
<line x1="588.95" y1="343.92" x2="588.95" y2="338.04" stroke="#a51d24" stroke-width="0.6"/>
<line x1="587.95" y1="343.92" x2="589.95" y2="343.92" stroke="#a51d24" stroke-width="0.6"/>
<line x1="587.95" y1="338.04" x2="589.95" y2="338.04" stroke="#a51d24" stroke-width="0.6"/>
<circle cx="588.95" cy="340.98" r="1.15" fill="#a51d24"/>
<line x1="592.49" y1="329.37" x2="592.49" y2="322.43" stroke="#a51d24" stroke-width="0.6"/>
<line x1="591.49" y1="329.37" x2="593.49" y2="329.37" stroke="#a51d24" stroke-width="0.6"/>
<line x1="591.49" y1="322.43" x2="593.49" y2="322.43" stroke="#a51d24" stroke-width="0.6"/>
<circle cx="592.49" cy="325.9" r="1.15" fill="#a51d24"/>
<line x1="596.04" y1="330.76" x2="596.04" y2="323.94" stroke="#a51d24" stroke-width="0.6"/>
<line x1="595.04" y1="330.76" x2="597.04" y2="330.76" stroke="#a51d24" stroke-width="0.6"/>
<line x1="595.04" y1="323.94" x2="597.04" y2="323.94" stroke="#a51d24" stroke-width="0.6"/>
<circle cx="596.04" cy="327.35" r="1.15" fill="#a51d24"/>
<line x1="599.58" y1="324.89" x2="599.58" y2="317.63" stroke="#a51d24" stroke-width="0.6"/>
<line x1="598.58" y1="324.89" x2="600.58" y2="324.89" stroke="#a51d24" stroke-width="0.6"/>
<line x1="598.58" y1="317.63" x2="600.58" y2="317.63" stroke="#a51d24" stroke-width="0.6"/>
<circle cx="599.58" cy="321.26" r="1.15" fill="#a51d24"/>
<line x1="603.12" y1="325.73" x2="603.12" y2="318.53" stroke="#a51d24" stroke-width="0.6"/>
<line x1="602.12" y1="325.73" x2="604.12" y2="325.73" stroke="#a51d24" stroke-width="0.6"/>
<line x1="602.12" y1="318.53" x2="604.12" y2="318.53" stroke="#a51d24" stroke-width="0.6"/>
<circle cx="603.12" cy="322.13" r="1.15" fill="#a51d24"/>
<line x1="606.67" y1="318.73" x2="606.67" y2="311.03" stroke="#a51d24" stroke-width="0.6"/>
<line x1="605.67" y1="318.73" x2="607.67" y2="318.73" stroke="#a51d24" stroke-width="0.6"/>
<line x1="605.67" y1="311.03" x2="607.67" y2="311.03" stroke="#a51d24" stroke-width="0.6"/>
<circle cx="606.67" cy="314.88" r="1.15" fill="#a51d24"/>
<line x1="610.21" y1="315.65" x2="610.21" y2="307.73" stroke="#a51d24" stroke-width="0.6"/>
<line x1="609.21" y1="315.65" x2="611.21" y2="315.65" stroke="#a51d24" stroke-width="0.6"/>
<line x1="609.21" y1="307.73" x2="611.21" y2="307.73" stroke="#a51d24" stroke-width="0.6"/>
<circle cx="610.21" cy="311.69" r="1.15" fill="#a51d24"/>
<line x1="613.76" y1="317.33" x2="613.76" y2="309.53" stroke="#a51d24" stroke-width="0.6"/>
<line x1="612.76" y1="317.33" x2="614.76" y2="317.33" stroke="#a51d24" stroke-width="0.6"/>
<line x1="612.76" y1="309.53" x2="614.76" y2="309.53" stroke="#a51d24" stroke-width="0.6"/>
<circle cx="613.76" cy="313.43" r="1.15" fill="#a51d24"/>
<line x1="617.3" y1="324.89" x2="617.3" y2="317.63" stroke="#a51d24" stroke-width="0.6"/>
<line x1="616.3" y1="324.89" x2="618.3" y2="324.89" stroke="#a51d24" stroke-width="0.6"/>
<line x1="616.3" y1="317.63" x2="618.3" y2="317.63" stroke="#a51d24" stroke-width="0.6"/>
<circle cx="617.3" cy="321.26" r="1.15" fill="#a51d24"/>
<line x1="620.84" y1="321.81" x2="620.84" y2="314.33" stroke="#a51d24" stroke-width="0.6"/>
<line x1="619.84" y1="321.81" x2="621.84" y2="321.81" stroke="#a51d24" stroke-width="0.6"/>
<line x1="619.84" y1="314.33" x2="621.84" y2="314.33" stroke="#a51d24" stroke-width="0.6"/>
<circle cx="620.84" cy="318.07" r="1.15" fill="#a51d24"/>
<line x1="624.39" y1="326.57" x2="624.39" y2="319.43" stroke="#a51d24" stroke-width="0.6"/>
<line x1="623.39" y1="326.57" x2="625.39" y2="326.57" stroke="#a51d24" stroke-width="0.6"/>
<line x1="623.39" y1="319.43" x2="625.39" y2="319.43" stroke="#a51d24" stroke-width="0.6"/>
<circle cx="624.39" cy="323" r="1.15" fill="#a51d24"/>
<line x1="627.93" y1="329.37" x2="627.93" y2="322.43" stroke="#a51d24" stroke-width="0.6"/>
<line x1="626.93" y1="329.37" x2="628.93" y2="329.37" stroke="#a51d24" stroke-width="0.6"/>
<line x1="626.93" y1="322.43" x2="628.93" y2="322.43" stroke="#a51d24" stroke-width="0.6"/>
<circle cx="627.93" cy="325.9" r="1.15" fill="#a51d24"/>
<line x1="631.48" y1="330.76" x2="631.48" y2="323.94" stroke="#a51d24" stroke-width="0.6"/>
<line x1="630.48" y1="330.76" x2="632.48" y2="330.76" stroke="#a51d24" stroke-width="0.6"/>
<line x1="630.48" y1="323.94" x2="632.48" y2="323.94" stroke="#a51d24" stroke-width="0.6"/>
<circle cx="631.48" cy="327.35" r="1.15" fill="#a51d24"/>
<line x1="635.02" y1="332.16" x2="635.02" y2="325.44" stroke="#a51d24" stroke-width="0.6"/>
<line x1="634.02" y1="332.16" x2="636.02" y2="332.16" stroke="#a51d24" stroke-width="0.6"/>
<line x1="634.02" y1="325.44" x2="636.02" y2="325.44" stroke="#a51d24" stroke-width="0.6"/>
<circle cx="635.02" cy="328.8" r="1.15" fill="#a51d24"/>
<line x1="638.56" y1="343.92" x2="638.56" y2="338.04" stroke="#a51d24" stroke-width="0.6"/>
<line x1="637.56" y1="343.92" x2="639.56" y2="343.92" stroke="#a51d24" stroke-width="0.6"/>
<line x1="637.56" y1="338.04" x2="639.56" y2="338.04" stroke="#a51d24" stroke-width="0.6"/>
<circle cx="638.56" cy="340.98" r="1.15" fill="#a51d24"/>
<line x1="642.11" y1="350.63" x2="642.11" y2="345.25" stroke="#a51d24" stroke-width="0.6"/>
<line x1="641.11" y1="350.63" x2="643.11" y2="350.63" stroke="#a51d24" stroke-width="0.6"/>
<line x1="641.11" y1="345.25" x2="643.11" y2="345.25" stroke="#a51d24" stroke-width="0.6"/>
<circle cx="642.11" cy="347.94" r="1.15" fill="#a51d24"/>
<line x1="645.65" y1="338.32" x2="645.65" y2="332.04" stroke="#a51d24" stroke-width="0.6"/>
<line x1="644.65" y1="338.32" x2="646.65" y2="338.32" stroke="#a51d24" stroke-width="0.6"/>
<line x1="644.65" y1="332.04" x2="646.65" y2="332.04" stroke="#a51d24" stroke-width="0.6"/>
<circle cx="645.65" cy="335.18" r="1.15" fill="#a51d24"/>
<line x1="649.19" y1="343.92" x2="649.19" y2="338.04" stroke="#a51d24" stroke-width="0.6"/>
<line x1="648.19" y1="343.92" x2="650.19" y2="343.92" stroke="#a51d24" stroke-width="0.6"/>
<line x1="648.19" y1="338.04" x2="650.19" y2="338.04" stroke="#a51d24" stroke-width="0.6"/>
<circle cx="649.19" cy="340.98" r="1.15" fill="#a51d24"/>
<line x1="652.74" y1="338.32" x2="652.74" y2="332.04" stroke="#a51d24" stroke-width="0.6"/>
<line x1="651.74" y1="338.32" x2="653.74" y2="338.32" stroke="#a51d24" stroke-width="0.6"/>
<line x1="651.74" y1="332.04" x2="653.74" y2="332.04" stroke="#a51d24" stroke-width="0.6"/>
<circle cx="652.74" cy="335.18" r="1.15" fill="#a51d24"/>
<line x1="656.28" y1="334.96" x2="656.28" y2="328.44" stroke="#a51d24" stroke-width="0.6"/>
<line x1="655.28" y1="334.96" x2="657.28" y2="334.96" stroke="#a51d24" stroke-width="0.6"/>
<line x1="655.28" y1="328.44" x2="657.28" y2="328.44" stroke="#a51d24" stroke-width="0.6"/>
<circle cx="656.28" cy="331.7" r="1.15" fill="#a51d24"/>
<line x1="659.83" y1="333" x2="659.83" y2="326.34" stroke="#a51d24" stroke-width="0.6"/>
<line x1="658.83" y1="333" x2="660.83" y2="333" stroke="#a51d24" stroke-width="0.6"/>
<line x1="658.83" y1="326.34" x2="660.83" y2="326.34" stroke="#a51d24" stroke-width="0.6"/>
<circle cx="659.83" cy="329.67" r="1.15" fill="#a51d24"/>
<line x1="663.37" y1="338.32" x2="663.37" y2="332.04" stroke="#a51d24" stroke-width="0.6"/>
<line x1="662.37" y1="338.32" x2="664.37" y2="338.32" stroke="#a51d24" stroke-width="0.6"/>
<line x1="662.37" y1="332.04" x2="664.37" y2="332.04" stroke="#a51d24" stroke-width="0.6"/>
<circle cx="663.37" cy="335.18" r="1.15" fill="#a51d24"/>
<line x1="666.91" y1="339.16" x2="666.91" y2="332.94" stroke="#a51d24" stroke-width="0.6"/>
<line x1="665.91" y1="339.16" x2="667.91" y2="339.16" stroke="#a51d24" stroke-width="0.6"/>
<line x1="665.91" y1="332.94" x2="667.91" y2="332.94" stroke="#a51d24" stroke-width="0.6"/>
<circle cx="666.91" cy="336.05" r="1.15" fill="#a51d24"/>
<line x1="670.46" y1="339.16" x2="670.46" y2="332.94" stroke="#a51d24" stroke-width="0.6"/>
<line x1="669.46" y1="339.16" x2="671.46" y2="339.16" stroke="#a51d24" stroke-width="0.6"/>
<line x1="669.46" y1="332.94" x2="671.46" y2="332.94" stroke="#a51d24" stroke-width="0.6"/>
<circle cx="670.46" cy="336.05" r="1.15" fill="#a51d24"/>
<line x1="674" y1="338.32" x2="674" y2="332.04" stroke="#a51d24" stroke-width="0.6"/>
<line x1="673" y1="338.32" x2="675" y2="338.32" stroke="#a51d24" stroke-width="0.6"/>
<line x1="673" y1="332.04" x2="675" y2="332.04" stroke="#a51d24" stroke-width="0.6"/>
<circle cx="674" cy="335.18" r="1.15" fill="#a51d24"/>
<line x1="512.3" y1="359.8" x2="519.3" y2="359.8" stroke="#f07a83" stroke-width="1"/>
<circle cx="515.8" cy="359.8" r="1.5" fill="#f07a83"/>
<g><text x="522.3" y="362.25" font-size="7" xml:space="preserve">SED</text><circle cx="539.91" cy="358.75" r="1.54" fill="none" stroke="#161616" stroke-width="0.67"/><path d="M539.91 360.29V363.23M538.65 361.9H541.17" stroke="#161616" stroke-width="0.67" fill="none"/><text x="542.71" y="362.25" font-size="7" xml:space="preserve"> (n=6)</text></g>
<line x1="512.3" y1="368.3" x2="519.3" y2="368.3" stroke="#a51d24" stroke-width="1"/>
<circle cx="515.8" cy="368.3" r="1.5" fill="#a51d24"/>
<g><text x="522.3" y="370.75" font-size="7" xml:space="preserve">EXE</text><circle cx="539.53" cy="367.25" r="1.54" fill="none" stroke="#161616" stroke-width="0.67"/><path d="M539.53 368.79V371.73M538.27 370.4H540.79" stroke="#161616" stroke-width="0.67" fill="none"/><text x="542.33" y="370.75" font-size="7" xml:space="preserve"> (n=6)</text></g>
<text x="473.6" y="329.2" text-anchor="middle" font-size="8.8" transform="rotate(-90 473.6 329.2)">Energy expenditure</text>
<text x="484.3" y="329.2" text-anchor="middle" font-size="8.8" transform="rotate(-90 484.3 329.2)">(kcal/kg/h)</text>
<rect x="501.4" y="402.6" width="86.1" height="10" fill="#fff" stroke="#222" stroke-width="0.9"/>
<rect x="587.5" y="402.6" width="83.2" height="10" fill="#fff" stroke="#222" stroke-width="0.9"/>
<text x="544.45" y="409.5" text-anchor="middle" font-style="italic" font-size="6.4">Ad libitum</text>
<text x="626.4" y="409.5" text-anchor="middle" font-size="6.2">Fasting</text>
<rect x="545.6" y="412.6" width="41.9" height="85.7" fill="#d6d6d6"/>
<rect x="629.5" y="412.6" width="41.2" height="85.7" fill="#d6d6d6"/>
<line x1="501.4" y1="412.6" x2="501.4" y2="498.3" stroke="#3c3c3c" stroke-width="1"/>
<line x1="498.9" y1="498.3" x2="501.4" y2="498.3" stroke="#3c3c3c" stroke-width="1"/>
<text x="497.7" y="501.28" text-anchor="end">0</text>
<line x1="498.9" y1="469.73" x2="501.4" y2="469.73" stroke="#3c3c3c" stroke-width="1"/>
<text x="497.7" y="472.71" text-anchor="end">10</text>
<line x1="498.9" y1="441.17" x2="501.4" y2="441.17" stroke="#3c3c3c" stroke-width="1"/>
<text x="497.7" y="444.14" text-anchor="end">20</text>
<line x1="498.9" y1="412.6" x2="501.4" y2="412.6" stroke="#3c3c3c" stroke-width="1"/>
<text x="497.7" y="415.58" text-anchor="end">30</text>
<line x1="501.4" y1="498.3" x2="670.7" y2="498.3" stroke="#3c3c3c" stroke-width="0.9"/>
<line x1="503.3" y1="498.3" x2="503.3" y2="500.8" stroke="#3c3c3c" stroke-width="0.9"/>
<text x="503.3" y="508.88" text-anchor="middle">0</text>
<line x1="545.2" y1="498.3" x2="545.2" y2="500.8" stroke="#3c3c3c" stroke-width="0.9"/>
<text x="545.2" y="508.88" text-anchor="middle">12</text>
<line x1="587.1" y1="498.3" x2="587.1" y2="500.8" stroke="#3c3c3c" stroke-width="0.9"/>
<text x="587.1" y="508.88" text-anchor="middle">24</text>
<line x1="629" y1="498.3" x2="629" y2="500.8" stroke="#3c3c3c" stroke-width="0.9"/>
<text x="629" y="508.88" text-anchor="middle">36</text>
<line x1="670.9" y1="498.3" x2="670.9" y2="500.8" stroke="#3c3c3c" stroke-width="0.9"/>
<text x="670.9" y="508.88" text-anchor="middle">48</text>
<polyline points="503.3,461.45 506.79,456.02 510.28,457.45 513.77,463.73 517.27,460.59 520.76,457.45 524.25,456.02 527.74,459.16 531.23,457.45 534.73,454.31 538.22,452.88 541.71,451.17 545.2,446.59 548.69,444.02 552.18,444.88 555.67,449.74 559.17,454.31 562.66,448.02 566.15,457.45 569.64,446.59 573.13,449.74 576.62,444.88 580.12,456.59 583.61,451.17 587.1,445.74 590.59,452.02 594.08,462.88 597.58,456.02 601.07,460.59 604.56,462.31 608.05,457.45 611.54,454.31 615.03,449.74 618.52,452.02 622.02,449.74 625.51,446.59 629,449.74 632.49,448.88 635.98,452.88 639.48,457.45 642.97,454.31 646.46,456.02 649.95,448.88 653.44,452.02 656.93,461.45 660.42,464.59 663.92,459.16 667.41,468.59 670.9,465.45" fill="none" stroke="#274d8c" stroke-width="0.8" stroke-linejoin="round"/>
<line x1="503.3" y1="464.45" x2="503.3" y2="458.45" stroke="#274d8c" stroke-width="0.6"/>
<line x1="502.3" y1="464.45" x2="504.3" y2="464.45" stroke="#274d8c" stroke-width="0.6"/>
<line x1="502.3" y1="458.45" x2="504.3" y2="458.45" stroke="#274d8c" stroke-width="0.6"/>
<circle cx="503.3" cy="461.45" r="1.15" fill="#274d8c"/>
<line x1="506.79" y1="459.22" x2="506.79" y2="452.83" stroke="#274d8c" stroke-width="0.6"/>
<line x1="505.79" y1="459.22" x2="507.79" y2="459.22" stroke="#274d8c" stroke-width="0.6"/>
<line x1="505.79" y1="452.83" x2="507.79" y2="452.83" stroke="#274d8c" stroke-width="0.6"/>
<circle cx="506.79" cy="456.02" r="1.15" fill="#274d8c"/>
<line x1="510.28" y1="460.59" x2="510.28" y2="454.31" stroke="#274d8c" stroke-width="0.6"/>
<line x1="509.28" y1="460.59" x2="511.28" y2="460.59" stroke="#274d8c" stroke-width="0.6"/>
<line x1="509.28" y1="454.31" x2="511.28" y2="454.31" stroke="#274d8c" stroke-width="0.6"/>
<circle cx="510.28" cy="457.45" r="1.15" fill="#274d8c"/>
<line x1="513.77" y1="466.66" x2="513.77" y2="460.81" stroke="#274d8c" stroke-width="0.6"/>
<line x1="512.77" y1="466.66" x2="514.77" y2="466.66" stroke="#274d8c" stroke-width="0.6"/>
<line x1="512.77" y1="460.81" x2="514.77" y2="460.81" stroke="#274d8c" stroke-width="0.6"/>
<circle cx="513.77" cy="463.73" r="1.15" fill="#274d8c"/>
<line x1="517.27" y1="463.63" x2="517.27" y2="457.56" stroke="#274d8c" stroke-width="0.6"/>
<line x1="516.27" y1="463.63" x2="518.27" y2="463.63" stroke="#274d8c" stroke-width="0.6"/>
<line x1="516.27" y1="457.56" x2="518.27" y2="457.56" stroke="#274d8c" stroke-width="0.6"/>
<circle cx="517.27" cy="460.59" r="1.15" fill="#274d8c"/>
<line x1="520.76" y1="460.59" x2="520.76" y2="454.31" stroke="#274d8c" stroke-width="0.6"/>
<line x1="519.76" y1="460.59" x2="521.76" y2="460.59" stroke="#274d8c" stroke-width="0.6"/>
<line x1="519.76" y1="454.31" x2="521.76" y2="454.31" stroke="#274d8c" stroke-width="0.6"/>
<circle cx="520.76" cy="457.45" r="1.15" fill="#274d8c"/>
<line x1="524.25" y1="459.22" x2="524.25" y2="452.83" stroke="#274d8c" stroke-width="0.6"/>
<line x1="523.25" y1="459.22" x2="525.25" y2="459.22" stroke="#274d8c" stroke-width="0.6"/>
<line x1="523.25" y1="452.83" x2="525.25" y2="452.83" stroke="#274d8c" stroke-width="0.6"/>
<circle cx="524.25" cy="456.02" r="1.15" fill="#274d8c"/>
<line x1="527.74" y1="462.25" x2="527.74" y2="456.08" stroke="#274d8c" stroke-width="0.6"/>
<line x1="526.74" y1="462.25" x2="528.74" y2="462.25" stroke="#274d8c" stroke-width="0.6"/>
<line x1="526.74" y1="456.08" x2="528.74" y2="456.08" stroke="#274d8c" stroke-width="0.6"/>
<circle cx="527.74" cy="459.16" r="1.15" fill="#274d8c"/>
<line x1="531.23" y1="460.59" x2="531.23" y2="454.31" stroke="#274d8c" stroke-width="0.6"/>
<line x1="530.23" y1="460.59" x2="532.23" y2="460.59" stroke="#274d8c" stroke-width="0.6"/>
<line x1="530.23" y1="454.31" x2="532.23" y2="454.31" stroke="#274d8c" stroke-width="0.6"/>
<circle cx="531.23" cy="457.45" r="1.15" fill="#274d8c"/>
<line x1="534.73" y1="457.56" x2="534.73" y2="451.05" stroke="#274d8c" stroke-width="0.6"/>
<line x1="533.73" y1="457.56" x2="535.73" y2="457.56" stroke="#274d8c" stroke-width="0.6"/>
<line x1="533.73" y1="451.05" x2="535.73" y2="451.05" stroke="#274d8c" stroke-width="0.6"/>
<circle cx="534.73" cy="454.31" r="1.15" fill="#274d8c"/>
<line x1="538.22" y1="456.18" x2="538.22" y2="449.58" stroke="#274d8c" stroke-width="0.6"/>
<line x1="537.22" y1="456.18" x2="539.22" y2="456.18" stroke="#274d8c" stroke-width="0.6"/>
<line x1="537.22" y1="449.58" x2="539.22" y2="449.58" stroke="#274d8c" stroke-width="0.6"/>
<circle cx="538.22" cy="452.88" r="1.15" fill="#274d8c"/>
<line x1="541.71" y1="454.53" x2="541.71" y2="447.8" stroke="#274d8c" stroke-width="0.6"/>
<line x1="540.71" y1="454.53" x2="542.71" y2="454.53" stroke="#274d8c" stroke-width="0.6"/>
<line x1="540.71" y1="447.8" x2="542.71" y2="447.8" stroke="#274d8c" stroke-width="0.6"/>
<circle cx="541.71" cy="451.17" r="1.15" fill="#274d8c"/>
<line x1="545.2" y1="450.12" x2="545.2" y2="443.07" stroke="#274d8c" stroke-width="0.6"/>
<line x1="544.2" y1="450.12" x2="546.2" y2="450.12" stroke="#274d8c" stroke-width="0.6"/>
<line x1="544.2" y1="443.07" x2="546.2" y2="443.07" stroke="#274d8c" stroke-width="0.6"/>
<circle cx="545.2" cy="446.59" r="1.15" fill="#274d8c"/>
<line x1="548.69" y1="447.64" x2="548.69" y2="440.41" stroke="#274d8c" stroke-width="0.6"/>
<line x1="547.69" y1="447.64" x2="549.69" y2="447.64" stroke="#274d8c" stroke-width="0.6"/>
<line x1="547.69" y1="440.41" x2="549.69" y2="440.41" stroke="#274d8c" stroke-width="0.6"/>
<circle cx="548.69" cy="444.02" r="1.15" fill="#274d8c"/>
<line x1="552.18" y1="448.46" x2="552.18" y2="441.3" stroke="#274d8c" stroke-width="0.6"/>
<line x1="551.18" y1="448.46" x2="553.18" y2="448.46" stroke="#274d8c" stroke-width="0.6"/>
<line x1="551.18" y1="441.3" x2="553.18" y2="441.3" stroke="#274d8c" stroke-width="0.6"/>
<circle cx="552.18" cy="444.88" r="1.15" fill="#274d8c"/>
<line x1="555.67" y1="453.15" x2="555.67" y2="446.32" stroke="#274d8c" stroke-width="0.6"/>
<line x1="554.67" y1="453.15" x2="556.67" y2="453.15" stroke="#274d8c" stroke-width="0.6"/>
<line x1="554.67" y1="446.32" x2="556.67" y2="446.32" stroke="#274d8c" stroke-width="0.6"/>
<circle cx="555.67" cy="449.74" r="1.15" fill="#274d8c"/>
<line x1="559.17" y1="457.56" x2="559.17" y2="451.05" stroke="#274d8c" stroke-width="0.6"/>
<line x1="558.17" y1="457.56" x2="560.17" y2="457.56" stroke="#274d8c" stroke-width="0.6"/>
<line x1="558.17" y1="451.05" x2="560.17" y2="451.05" stroke="#274d8c" stroke-width="0.6"/>
<circle cx="559.17" cy="454.31" r="1.15" fill="#274d8c"/>
<line x1="562.66" y1="451.5" x2="562.66" y2="444.55" stroke="#274d8c" stroke-width="0.6"/>
<line x1="561.66" y1="451.5" x2="563.66" y2="451.5" stroke="#274d8c" stroke-width="0.6"/>
<line x1="561.66" y1="444.55" x2="563.66" y2="444.55" stroke="#274d8c" stroke-width="0.6"/>
<circle cx="562.66" cy="448.02" r="1.15" fill="#274d8c"/>
<line x1="566.15" y1="460.59" x2="566.15" y2="454.31" stroke="#274d8c" stroke-width="0.6"/>
<line x1="565.15" y1="460.59" x2="567.15" y2="460.59" stroke="#274d8c" stroke-width="0.6"/>
<line x1="565.15" y1="454.31" x2="567.15" y2="454.31" stroke="#274d8c" stroke-width="0.6"/>
<circle cx="566.15" cy="457.45" r="1.15" fill="#274d8c"/>
<line x1="569.64" y1="450.12" x2="569.64" y2="443.07" stroke="#274d8c" stroke-width="0.6"/>
<line x1="568.64" y1="450.12" x2="570.64" y2="450.12" stroke="#274d8c" stroke-width="0.6"/>
<line x1="568.64" y1="443.07" x2="570.64" y2="443.07" stroke="#274d8c" stroke-width="0.6"/>
<circle cx="569.64" cy="446.59" r="1.15" fill="#274d8c"/>
<line x1="573.13" y1="453.15" x2="573.13" y2="446.32" stroke="#274d8c" stroke-width="0.6"/>
<line x1="572.13" y1="453.15" x2="574.13" y2="453.15" stroke="#274d8c" stroke-width="0.6"/>
<line x1="572.13" y1="446.32" x2="574.13" y2="446.32" stroke="#274d8c" stroke-width="0.6"/>
<circle cx="573.13" cy="449.74" r="1.15" fill="#274d8c"/>
<line x1="576.62" y1="448.46" x2="576.62" y2="441.3" stroke="#274d8c" stroke-width="0.6"/>
<line x1="575.62" y1="448.46" x2="577.62" y2="448.46" stroke="#274d8c" stroke-width="0.6"/>
<line x1="575.62" y1="441.3" x2="577.62" y2="441.3" stroke="#274d8c" stroke-width="0.6"/>
<circle cx="576.62" cy="444.88" r="1.15" fill="#274d8c"/>
<line x1="580.12" y1="459.77" x2="580.12" y2="453.42" stroke="#274d8c" stroke-width="0.6"/>
<line x1="579.12" y1="459.77" x2="581.12" y2="459.77" stroke="#274d8c" stroke-width="0.6"/>
<line x1="579.12" y1="453.42" x2="581.12" y2="453.42" stroke="#274d8c" stroke-width="0.6"/>
<circle cx="580.12" cy="456.59" r="1.15" fill="#274d8c"/>
<line x1="583.61" y1="454.53" x2="583.61" y2="447.8" stroke="#274d8c" stroke-width="0.6"/>
<line x1="582.61" y1="454.53" x2="584.61" y2="454.53" stroke="#274d8c" stroke-width="0.6"/>
<line x1="582.61" y1="447.8" x2="584.61" y2="447.8" stroke="#274d8c" stroke-width="0.6"/>
<circle cx="583.61" cy="451.17" r="1.15" fill="#274d8c"/>
<line x1="587.1" y1="449.29" x2="587.1" y2="442.18" stroke="#274d8c" stroke-width="0.6"/>
<line x1="586.1" y1="449.29" x2="588.1" y2="449.29" stroke="#274d8c" stroke-width="0.6"/>
<line x1="586.1" y1="442.18" x2="588.1" y2="442.18" stroke="#274d8c" stroke-width="0.6"/>
<circle cx="587.1" cy="445.74" r="1.15" fill="#274d8c"/>
<line x1="590.59" y1="455.36" x2="590.59" y2="448.69" stroke="#274d8c" stroke-width="0.6"/>
<line x1="589.59" y1="455.36" x2="591.59" y2="455.36" stroke="#274d8c" stroke-width="0.6"/>
<line x1="589.59" y1="448.69" x2="591.59" y2="448.69" stroke="#274d8c" stroke-width="0.6"/>
<circle cx="590.59" cy="452.02" r="1.15" fill="#274d8c"/>
<line x1="594.08" y1="465.83" x2="594.08" y2="459.92" stroke="#274d8c" stroke-width="0.6"/>
<line x1="593.08" y1="465.83" x2="595.08" y2="465.83" stroke="#274d8c" stroke-width="0.6"/>
<line x1="593.08" y1="459.92" x2="595.08" y2="459.92" stroke="#274d8c" stroke-width="0.6"/>
<circle cx="594.08" cy="462.88" r="1.15" fill="#274d8c"/>
<line x1="597.58" y1="459.22" x2="597.58" y2="452.83" stroke="#274d8c" stroke-width="0.6"/>
<line x1="596.58" y1="459.22" x2="598.58" y2="459.22" stroke="#274d8c" stroke-width="0.6"/>
<line x1="596.58" y1="452.83" x2="598.58" y2="452.83" stroke="#274d8c" stroke-width="0.6"/>
<circle cx="597.58" cy="456.02" r="1.15" fill="#274d8c"/>
<line x1="601.07" y1="463.63" x2="601.07" y2="457.56" stroke="#274d8c" stroke-width="0.6"/>
<line x1="600.07" y1="463.63" x2="602.07" y2="463.63" stroke="#274d8c" stroke-width="0.6"/>
<line x1="600.07" y1="457.56" x2="602.07" y2="457.56" stroke="#274d8c" stroke-width="0.6"/>
<circle cx="601.07" cy="460.59" r="1.15" fill="#274d8c"/>
<line x1="604.56" y1="465.28" x2="604.56" y2="459.33" stroke="#274d8c" stroke-width="0.6"/>
<line x1="603.56" y1="465.28" x2="605.56" y2="465.28" stroke="#274d8c" stroke-width="0.6"/>
<line x1="603.56" y1="459.33" x2="605.56" y2="459.33" stroke="#274d8c" stroke-width="0.6"/>
<circle cx="604.56" cy="462.31" r="1.15" fill="#274d8c"/>
<line x1="608.05" y1="460.59" x2="608.05" y2="454.31" stroke="#274d8c" stroke-width="0.6"/>
<line x1="607.05" y1="460.59" x2="609.05" y2="460.59" stroke="#274d8c" stroke-width="0.6"/>
<line x1="607.05" y1="454.31" x2="609.05" y2="454.31" stroke="#274d8c" stroke-width="0.6"/>
<circle cx="608.05" cy="457.45" r="1.15" fill="#274d8c"/>
<line x1="611.54" y1="457.56" x2="611.54" y2="451.05" stroke="#274d8c" stroke-width="0.6"/>
<line x1="610.54" y1="457.56" x2="612.54" y2="457.56" stroke="#274d8c" stroke-width="0.6"/>
<line x1="610.54" y1="451.05" x2="612.54" y2="451.05" stroke="#274d8c" stroke-width="0.6"/>
<circle cx="611.54" cy="454.31" r="1.15" fill="#274d8c"/>
<line x1="615.03" y1="453.15" x2="615.03" y2="446.32" stroke="#274d8c" stroke-width="0.6"/>
<line x1="614.03" y1="453.15" x2="616.03" y2="453.15" stroke="#274d8c" stroke-width="0.6"/>
<line x1="614.03" y1="446.32" x2="616.03" y2="446.32" stroke="#274d8c" stroke-width="0.6"/>
<circle cx="615.03" cy="449.74" r="1.15" fill="#274d8c"/>
<line x1="618.52" y1="455.36" x2="618.52" y2="448.69" stroke="#274d8c" stroke-width="0.6"/>
<line x1="617.52" y1="455.36" x2="619.52" y2="455.36" stroke="#274d8c" stroke-width="0.6"/>
<line x1="617.52" y1="448.69" x2="619.52" y2="448.69" stroke="#274d8c" stroke-width="0.6"/>
<circle cx="618.52" cy="452.02" r="1.15" fill="#274d8c"/>
<line x1="622.02" y1="453.15" x2="622.02" y2="446.32" stroke="#274d8c" stroke-width="0.6"/>
<line x1="621.02" y1="453.15" x2="623.02" y2="453.15" stroke="#274d8c" stroke-width="0.6"/>
<line x1="621.02" y1="446.32" x2="623.02" y2="446.32" stroke="#274d8c" stroke-width="0.6"/>
<circle cx="622.02" cy="449.74" r="1.15" fill="#274d8c"/>
<line x1="625.51" y1="450.12" x2="625.51" y2="443.07" stroke="#274d8c" stroke-width="0.6"/>
<line x1="624.51" y1="450.12" x2="626.51" y2="450.12" stroke="#274d8c" stroke-width="0.6"/>
<line x1="624.51" y1="443.07" x2="626.51" y2="443.07" stroke="#274d8c" stroke-width="0.6"/>
<circle cx="625.51" cy="446.59" r="1.15" fill="#274d8c"/>
<line x1="629" y1="453.15" x2="629" y2="446.32" stroke="#274d8c" stroke-width="0.6"/>
<line x1="628" y1="453.15" x2="630" y2="453.15" stroke="#274d8c" stroke-width="0.6"/>
<line x1="628" y1="446.32" x2="630" y2="446.32" stroke="#274d8c" stroke-width="0.6"/>
<circle cx="629" cy="449.74" r="1.15" fill="#274d8c"/>
<line x1="632.49" y1="452.32" x2="632.49" y2="445.44" stroke="#274d8c" stroke-width="0.6"/>
<line x1="631.49" y1="452.32" x2="633.49" y2="452.32" stroke="#274d8c" stroke-width="0.6"/>
<line x1="631.49" y1="445.44" x2="633.49" y2="445.44" stroke="#274d8c" stroke-width="0.6"/>
<circle cx="632.49" cy="448.88" r="1.15" fill="#274d8c"/>
<line x1="635.98" y1="456.18" x2="635.98" y2="449.58" stroke="#274d8c" stroke-width="0.6"/>
<line x1="634.98" y1="456.18" x2="636.98" y2="456.18" stroke="#274d8c" stroke-width="0.6"/>
<line x1="634.98" y1="449.58" x2="636.98" y2="449.58" stroke="#274d8c" stroke-width="0.6"/>
<circle cx="635.98" cy="452.88" r="1.15" fill="#274d8c"/>
<line x1="639.48" y1="460.59" x2="639.48" y2="454.31" stroke="#274d8c" stroke-width="0.6"/>
<line x1="638.48" y1="460.59" x2="640.48" y2="460.59" stroke="#274d8c" stroke-width="0.6"/>
<line x1="638.48" y1="454.31" x2="640.48" y2="454.31" stroke="#274d8c" stroke-width="0.6"/>
<circle cx="639.48" cy="457.45" r="1.15" fill="#274d8c"/>
<line x1="642.97" y1="457.56" x2="642.97" y2="451.05" stroke="#274d8c" stroke-width="0.6"/>
<line x1="641.97" y1="457.56" x2="643.97" y2="457.56" stroke="#274d8c" stroke-width="0.6"/>
<line x1="641.97" y1="451.05" x2="643.97" y2="451.05" stroke="#274d8c" stroke-width="0.6"/>
<circle cx="642.97" cy="454.31" r="1.15" fill="#274d8c"/>
<line x1="646.46" y1="459.22" x2="646.46" y2="452.83" stroke="#274d8c" stroke-width="0.6"/>
<line x1="645.46" y1="459.22" x2="647.46" y2="459.22" stroke="#274d8c" stroke-width="0.6"/>
<line x1="645.46" y1="452.83" x2="647.46" y2="452.83" stroke="#274d8c" stroke-width="0.6"/>
<circle cx="646.46" cy="456.02" r="1.15" fill="#274d8c"/>
<line x1="649.95" y1="452.32" x2="649.95" y2="445.44" stroke="#274d8c" stroke-width="0.6"/>
<line x1="648.95" y1="452.32" x2="650.95" y2="452.32" stroke="#274d8c" stroke-width="0.6"/>
<line x1="648.95" y1="445.44" x2="650.95" y2="445.44" stroke="#274d8c" stroke-width="0.6"/>
<circle cx="649.95" cy="448.88" r="1.15" fill="#274d8c"/>
<line x1="653.44" y1="455.36" x2="653.44" y2="448.69" stroke="#274d8c" stroke-width="0.6"/>
<line x1="652.44" y1="455.36" x2="654.44" y2="455.36" stroke="#274d8c" stroke-width="0.6"/>
<line x1="652.44" y1="448.69" x2="654.44" y2="448.69" stroke="#274d8c" stroke-width="0.6"/>
<circle cx="653.44" cy="452.02" r="1.15" fill="#274d8c"/>
<line x1="656.93" y1="464.45" x2="656.93" y2="458.45" stroke="#274d8c" stroke-width="0.6"/>
<line x1="655.93" y1="464.45" x2="657.93" y2="464.45" stroke="#274d8c" stroke-width="0.6"/>
<line x1="655.93" y1="458.45" x2="657.93" y2="458.45" stroke="#274d8c" stroke-width="0.6"/>
<circle cx="656.93" cy="461.45" r="1.15" fill="#274d8c"/>
<line x1="660.42" y1="467.49" x2="660.42" y2="461.7" stroke="#274d8c" stroke-width="0.6"/>
<line x1="659.42" y1="467.49" x2="661.42" y2="467.49" stroke="#274d8c" stroke-width="0.6"/>
<line x1="659.42" y1="461.7" x2="661.42" y2="461.7" stroke="#274d8c" stroke-width="0.6"/>
<circle cx="660.42" cy="464.59" r="1.15" fill="#274d8c"/>
<line x1="663.92" y1="462.25" x2="663.92" y2="456.08" stroke="#274d8c" stroke-width="0.6"/>
<line x1="662.92" y1="462.25" x2="664.92" y2="462.25" stroke="#274d8c" stroke-width="0.6"/>
<line x1="662.92" y1="456.08" x2="664.92" y2="456.08" stroke="#274d8c" stroke-width="0.6"/>
<circle cx="663.92" cy="459.16" r="1.15" fill="#274d8c"/>
<line x1="667.41" y1="471.34" x2="667.41" y2="465.84" stroke="#274d8c" stroke-width="0.6"/>
<line x1="666.41" y1="471.34" x2="668.41" y2="471.34" stroke="#274d8c" stroke-width="0.6"/>
<line x1="666.41" y1="465.84" x2="668.41" y2="465.84" stroke="#274d8c" stroke-width="0.6"/>
<circle cx="667.41" cy="468.59" r="1.15" fill="#274d8c"/>
<line x1="670.9" y1="468.31" x2="670.9" y2="462.58" stroke="#274d8c" stroke-width="0.6"/>
<line x1="669.9" y1="468.31" x2="671.9" y2="468.31" stroke="#274d8c" stroke-width="0.6"/>
<line x1="669.9" y1="462.58" x2="671.9" y2="462.58" stroke="#274d8c" stroke-width="0.6"/>
<circle cx="670.9" cy="465.45" r="1.15" fill="#274d8c"/>
<polyline points="503.3,456.59 506.79,454.31 510.28,459.16 513.77,454.31 517.27,452.88 520.76,457.45 524.25,456.02 527.74,455.45 531.23,454.31 534.73,452.88 538.22,451.17 541.71,448.88 545.2,443.45 548.69,444.88 552.18,440.31 555.67,444.88 559.17,449.74 562.66,451.17 566.15,452.88 569.64,448.02 573.13,451.17 576.62,446.59 580.12,454.31 583.61,452.02 587.1,449.74 590.59,452.88 594.08,460.59 597.58,458.31 601.07,459.16 604.56,460.59 608.05,456.02 611.54,454.31 615.03,452.02 618.52,452.88 622.02,449.74 625.51,448.02 629,451.17 632.49,451.17 635.98,456.02 639.48,460.59 642.97,465.45 646.46,466.88 649.95,468.59 653.44,470.02 656.93,473.16 660.42,474.88 663.92,473.16 667.41,474.02 670.9,475.45" fill="none" stroke="#8cb3e1" stroke-width="0.8" stroke-linejoin="round"/>
<line x1="503.3" y1="462.81" x2="503.3" y2="450.38" stroke="#8cb3e1" stroke-width="0.6"/>
<line x1="502.3" y1="462.81" x2="504.3" y2="462.81" stroke="#8cb3e1" stroke-width="0.6"/>
<line x1="502.3" y1="450.38" x2="504.3" y2="450.38" stroke="#8cb3e1" stroke-width="0.6"/>
<circle cx="503.3" cy="456.59" r="1.15" fill="#8cb3e1"/>
<line x1="506.79" y1="460.66" x2="506.79" y2="447.95" stroke="#8cb3e1" stroke-width="0.6"/>
<line x1="505.79" y1="460.66" x2="507.79" y2="460.66" stroke="#8cb3e1" stroke-width="0.6"/>
<line x1="505.79" y1="447.95" x2="507.79" y2="447.95" stroke="#8cb3e1" stroke-width="0.6"/>
<circle cx="506.79" cy="454.31" r="1.15" fill="#8cb3e1"/>
<line x1="510.28" y1="465.23" x2="510.28" y2="453.1" stroke="#8cb3e1" stroke-width="0.6"/>
<line x1="509.28" y1="465.23" x2="511.28" y2="465.23" stroke="#8cb3e1" stroke-width="0.6"/>
<line x1="509.28" y1="453.1" x2="511.28" y2="453.1" stroke="#8cb3e1" stroke-width="0.6"/>
<circle cx="510.28" cy="459.16" r="1.15" fill="#8cb3e1"/>
<line x1="513.77" y1="460.66" x2="513.77" y2="447.95" stroke="#8cb3e1" stroke-width="0.6"/>
<line x1="512.77" y1="460.66" x2="514.77" y2="460.66" stroke="#8cb3e1" stroke-width="0.6"/>
<line x1="512.77" y1="447.95" x2="514.77" y2="447.95" stroke="#8cb3e1" stroke-width="0.6"/>
<circle cx="513.77" cy="454.31" r="1.15" fill="#8cb3e1"/>
<line x1="517.27" y1="459.32" x2="517.27" y2="446.44" stroke="#8cb3e1" stroke-width="0.6"/>
<line x1="516.27" y1="459.32" x2="518.27" y2="459.32" stroke="#8cb3e1" stroke-width="0.6"/>
<line x1="516.27" y1="446.44" x2="518.27" y2="446.44" stroke="#8cb3e1" stroke-width="0.6"/>
<circle cx="517.27" cy="452.88" r="1.15" fill="#8cb3e1"/>
<line x1="520.76" y1="463.61" x2="520.76" y2="451.28" stroke="#8cb3e1" stroke-width="0.6"/>
<line x1="519.76" y1="463.61" x2="521.76" y2="463.61" stroke="#8cb3e1" stroke-width="0.6"/>
<line x1="519.76" y1="451.28" x2="521.76" y2="451.28" stroke="#8cb3e1" stroke-width="0.6"/>
<circle cx="520.76" cy="457.45" r="1.15" fill="#8cb3e1"/>
<line x1="524.25" y1="462.27" x2="524.25" y2="449.77" stroke="#8cb3e1" stroke-width="0.6"/>
<line x1="523.25" y1="462.27" x2="525.25" y2="462.27" stroke="#8cb3e1" stroke-width="0.6"/>
<line x1="523.25" y1="449.77" x2="525.25" y2="449.77" stroke="#8cb3e1" stroke-width="0.6"/>
<circle cx="524.25" cy="456.02" r="1.15" fill="#8cb3e1"/>
<line x1="527.74" y1="461.73" x2="527.74" y2="449.17" stroke="#8cb3e1" stroke-width="0.6"/>
<line x1="526.74" y1="461.73" x2="528.74" y2="461.73" stroke="#8cb3e1" stroke-width="0.6"/>
<line x1="526.74" y1="449.17" x2="528.74" y2="449.17" stroke="#8cb3e1" stroke-width="0.6"/>
<circle cx="527.74" cy="455.45" r="1.15" fill="#8cb3e1"/>
<line x1="531.23" y1="460.66" x2="531.23" y2="447.95" stroke="#8cb3e1" stroke-width="0.6"/>
<line x1="530.23" y1="460.66" x2="532.23" y2="460.66" stroke="#8cb3e1" stroke-width="0.6"/>
<line x1="530.23" y1="447.95" x2="532.23" y2="447.95" stroke="#8cb3e1" stroke-width="0.6"/>
<circle cx="531.23" cy="454.31" r="1.15" fill="#8cb3e1"/>
<line x1="534.73" y1="459.32" x2="534.73" y2="446.44" stroke="#8cb3e1" stroke-width="0.6"/>
<line x1="533.73" y1="459.32" x2="535.73" y2="459.32" stroke="#8cb3e1" stroke-width="0.6"/>
<line x1="533.73" y1="446.44" x2="535.73" y2="446.44" stroke="#8cb3e1" stroke-width="0.6"/>
<circle cx="534.73" cy="452.88" r="1.15" fill="#8cb3e1"/>
<line x1="538.22" y1="457.71" x2="538.22" y2="444.62" stroke="#8cb3e1" stroke-width="0.6"/>
<line x1="537.22" y1="457.71" x2="539.22" y2="457.71" stroke="#8cb3e1" stroke-width="0.6"/>
<line x1="537.22" y1="444.62" x2="539.22" y2="444.62" stroke="#8cb3e1" stroke-width="0.6"/>
<circle cx="538.22" cy="451.17" r="1.15" fill="#8cb3e1"/>
<line x1="541.71" y1="455.56" x2="541.71" y2="442.2" stroke="#8cb3e1" stroke-width="0.6"/>
<line x1="540.71" y1="455.56" x2="542.71" y2="455.56" stroke="#8cb3e1" stroke-width="0.6"/>
<line x1="540.71" y1="442.2" x2="542.71" y2="442.2" stroke="#8cb3e1" stroke-width="0.6"/>
<circle cx="541.71" cy="448.88" r="1.15" fill="#8cb3e1"/>
<line x1="545.2" y1="450.46" x2="545.2" y2="436.45" stroke="#8cb3e1" stroke-width="0.6"/>
<line x1="544.2" y1="450.46" x2="546.2" y2="450.46" stroke="#8cb3e1" stroke-width="0.6"/>
<line x1="544.2" y1="436.45" x2="546.2" y2="436.45" stroke="#8cb3e1" stroke-width="0.6"/>
<circle cx="545.2" cy="443.45" r="1.15" fill="#8cb3e1"/>
<line x1="548.69" y1="451.8" x2="548.69" y2="437.96" stroke="#8cb3e1" stroke-width="0.6"/>
<line x1="547.69" y1="451.8" x2="549.69" y2="451.8" stroke="#8cb3e1" stroke-width="0.6"/>
<line x1="547.69" y1="437.96" x2="549.69" y2="437.96" stroke="#8cb3e1" stroke-width="0.6"/>
<circle cx="548.69" cy="444.88" r="1.15" fill="#8cb3e1"/>
<line x1="552.18" y1="447.5" x2="552.18" y2="433.12" stroke="#8cb3e1" stroke-width="0.6"/>
<line x1="551.18" y1="447.5" x2="553.18" y2="447.5" stroke="#8cb3e1" stroke-width="0.6"/>
<line x1="551.18" y1="433.12" x2="553.18" y2="433.12" stroke="#8cb3e1" stroke-width="0.6"/>
<circle cx="552.18" cy="440.31" r="1.15" fill="#8cb3e1"/>
<line x1="555.67" y1="451.8" x2="555.67" y2="437.96" stroke="#8cb3e1" stroke-width="0.6"/>
<line x1="554.67" y1="451.8" x2="556.67" y2="451.8" stroke="#8cb3e1" stroke-width="0.6"/>
<line x1="554.67" y1="437.96" x2="556.67" y2="437.96" stroke="#8cb3e1" stroke-width="0.6"/>
<circle cx="555.67" cy="444.88" r="1.15" fill="#8cb3e1"/>
<line x1="559.17" y1="456.36" x2="559.17" y2="443.11" stroke="#8cb3e1" stroke-width="0.6"/>
<line x1="558.17" y1="456.36" x2="560.17" y2="456.36" stroke="#8cb3e1" stroke-width="0.6"/>
<line x1="558.17" y1="443.11" x2="560.17" y2="443.11" stroke="#8cb3e1" stroke-width="0.6"/>
<circle cx="559.17" cy="449.74" r="1.15" fill="#8cb3e1"/>
<line x1="562.66" y1="457.71" x2="562.66" y2="444.62" stroke="#8cb3e1" stroke-width="0.6"/>
<line x1="561.66" y1="457.71" x2="563.66" y2="457.71" stroke="#8cb3e1" stroke-width="0.6"/>
<line x1="561.66" y1="444.62" x2="563.66" y2="444.62" stroke="#8cb3e1" stroke-width="0.6"/>
<circle cx="562.66" cy="451.17" r="1.15" fill="#8cb3e1"/>
<line x1="566.15" y1="459.32" x2="566.15" y2="446.44" stroke="#8cb3e1" stroke-width="0.6"/>
<line x1="565.15" y1="459.32" x2="567.15" y2="459.32" stroke="#8cb3e1" stroke-width="0.6"/>
<line x1="565.15" y1="446.44" x2="567.15" y2="446.44" stroke="#8cb3e1" stroke-width="0.6"/>
<circle cx="566.15" cy="452.88" r="1.15" fill="#8cb3e1"/>
<line x1="569.64" y1="454.75" x2="569.64" y2="441.29" stroke="#8cb3e1" stroke-width="0.6"/>
<line x1="568.64" y1="454.75" x2="570.64" y2="454.75" stroke="#8cb3e1" stroke-width="0.6"/>
<line x1="568.64" y1="441.29" x2="570.64" y2="441.29" stroke="#8cb3e1" stroke-width="0.6"/>
<circle cx="569.64" cy="448.02" r="1.15" fill="#8cb3e1"/>
<line x1="573.13" y1="457.71" x2="573.13" y2="444.62" stroke="#8cb3e1" stroke-width="0.6"/>
<line x1="572.13" y1="457.71" x2="574.13" y2="457.71" stroke="#8cb3e1" stroke-width="0.6"/>
<line x1="572.13" y1="444.62" x2="574.13" y2="444.62" stroke="#8cb3e1" stroke-width="0.6"/>
<circle cx="573.13" cy="451.17" r="1.15" fill="#8cb3e1"/>
<line x1="576.62" y1="453.41" x2="576.62" y2="439.78" stroke="#8cb3e1" stroke-width="0.6"/>
<line x1="575.62" y1="453.41" x2="577.62" y2="453.41" stroke="#8cb3e1" stroke-width="0.6"/>
<line x1="575.62" y1="439.78" x2="577.62" y2="439.78" stroke="#8cb3e1" stroke-width="0.6"/>
<circle cx="576.62" cy="446.59" r="1.15" fill="#8cb3e1"/>
<line x1="580.12" y1="460.66" x2="580.12" y2="447.95" stroke="#8cb3e1" stroke-width="0.6"/>
<line x1="579.12" y1="460.66" x2="581.12" y2="460.66" stroke="#8cb3e1" stroke-width="0.6"/>
<line x1="579.12" y1="447.95" x2="581.12" y2="447.95" stroke="#8cb3e1" stroke-width="0.6"/>
<circle cx="580.12" cy="454.31" r="1.15" fill="#8cb3e1"/>
<line x1="583.61" y1="458.51" x2="583.61" y2="445.53" stroke="#8cb3e1" stroke-width="0.6"/>
<line x1="582.61" y1="458.51" x2="584.61" y2="458.51" stroke="#8cb3e1" stroke-width="0.6"/>
<line x1="582.61" y1="445.53" x2="584.61" y2="445.53" stroke="#8cb3e1" stroke-width="0.6"/>
<circle cx="583.61" cy="452.02" r="1.15" fill="#8cb3e1"/>
<line x1="587.1" y1="456.36" x2="587.1" y2="443.11" stroke="#8cb3e1" stroke-width="0.6"/>
<line x1="586.1" y1="456.36" x2="588.1" y2="456.36" stroke="#8cb3e1" stroke-width="0.6"/>
<line x1="586.1" y1="443.11" x2="588.1" y2="443.11" stroke="#8cb3e1" stroke-width="0.6"/>
<circle cx="587.1" cy="449.74" r="1.15" fill="#8cb3e1"/>
<line x1="590.59" y1="459.32" x2="590.59" y2="446.44" stroke="#8cb3e1" stroke-width="0.6"/>
<line x1="589.59" y1="459.32" x2="591.59" y2="459.32" stroke="#8cb3e1" stroke-width="0.6"/>
<line x1="589.59" y1="446.44" x2="591.59" y2="446.44" stroke="#8cb3e1" stroke-width="0.6"/>
<circle cx="590.59" cy="452.88" r="1.15" fill="#8cb3e1"/>
<line x1="594.08" y1="466.57" x2="594.08" y2="454.62" stroke="#8cb3e1" stroke-width="0.6"/>
<line x1="593.08" y1="466.57" x2="595.08" y2="466.57" stroke="#8cb3e1" stroke-width="0.6"/>
<line x1="593.08" y1="454.62" x2="595.08" y2="454.62" stroke="#8cb3e1" stroke-width="0.6"/>
<circle cx="594.08" cy="460.59" r="1.15" fill="#8cb3e1"/>
<line x1="597.58" y1="464.42" x2="597.58" y2="452.19" stroke="#8cb3e1" stroke-width="0.6"/>
<line x1="596.58" y1="464.42" x2="598.58" y2="464.42" stroke="#8cb3e1" stroke-width="0.6"/>
<line x1="596.58" y1="452.19" x2="598.58" y2="452.19" stroke="#8cb3e1" stroke-width="0.6"/>
<circle cx="597.58" cy="458.31" r="1.15" fill="#8cb3e1"/>
<line x1="601.07" y1="465.23" x2="601.07" y2="453.1" stroke="#8cb3e1" stroke-width="0.6"/>
<line x1="600.07" y1="465.23" x2="602.07" y2="465.23" stroke="#8cb3e1" stroke-width="0.6"/>
<line x1="600.07" y1="453.1" x2="602.07" y2="453.1" stroke="#8cb3e1" stroke-width="0.6"/>
<circle cx="601.07" cy="459.16" r="1.15" fill="#8cb3e1"/>
<line x1="604.56" y1="466.57" x2="604.56" y2="454.62" stroke="#8cb3e1" stroke-width="0.6"/>
<line x1="603.56" y1="466.57" x2="605.56" y2="466.57" stroke="#8cb3e1" stroke-width="0.6"/>
<line x1="603.56" y1="454.62" x2="605.56" y2="454.62" stroke="#8cb3e1" stroke-width="0.6"/>
<circle cx="604.56" cy="460.59" r="1.15" fill="#8cb3e1"/>
<line x1="608.05" y1="462.27" x2="608.05" y2="449.77" stroke="#8cb3e1" stroke-width="0.6"/>
<line x1="607.05" y1="462.27" x2="609.05" y2="462.27" stroke="#8cb3e1" stroke-width="0.6"/>
<line x1="607.05" y1="449.77" x2="609.05" y2="449.77" stroke="#8cb3e1" stroke-width="0.6"/>
<circle cx="608.05" cy="456.02" r="1.15" fill="#8cb3e1"/>
<line x1="611.54" y1="460.66" x2="611.54" y2="447.95" stroke="#8cb3e1" stroke-width="0.6"/>
<line x1="610.54" y1="460.66" x2="612.54" y2="460.66" stroke="#8cb3e1" stroke-width="0.6"/>
<line x1="610.54" y1="447.95" x2="612.54" y2="447.95" stroke="#8cb3e1" stroke-width="0.6"/>
<circle cx="611.54" cy="454.31" r="1.15" fill="#8cb3e1"/>
<line x1="615.03" y1="458.51" x2="615.03" y2="445.53" stroke="#8cb3e1" stroke-width="0.6"/>
<line x1="614.03" y1="458.51" x2="616.03" y2="458.51" stroke="#8cb3e1" stroke-width="0.6"/>
<line x1="614.03" y1="445.53" x2="616.03" y2="445.53" stroke="#8cb3e1" stroke-width="0.6"/>
<circle cx="615.03" cy="452.02" r="1.15" fill="#8cb3e1"/>
<line x1="618.52" y1="459.32" x2="618.52" y2="446.44" stroke="#8cb3e1" stroke-width="0.6"/>
<line x1="617.52" y1="459.32" x2="619.52" y2="459.32" stroke="#8cb3e1" stroke-width="0.6"/>
<line x1="617.52" y1="446.44" x2="619.52" y2="446.44" stroke="#8cb3e1" stroke-width="0.6"/>
<circle cx="618.52" cy="452.88" r="1.15" fill="#8cb3e1"/>
<line x1="622.02" y1="456.36" x2="622.02" y2="443.11" stroke="#8cb3e1" stroke-width="0.6"/>
<line x1="621.02" y1="456.36" x2="623.02" y2="456.36" stroke="#8cb3e1" stroke-width="0.6"/>
<line x1="621.02" y1="443.11" x2="623.02" y2="443.11" stroke="#8cb3e1" stroke-width="0.6"/>
<circle cx="622.02" cy="449.74" r="1.15" fill="#8cb3e1"/>
<line x1="625.51" y1="454.75" x2="625.51" y2="441.29" stroke="#8cb3e1" stroke-width="0.6"/>
<line x1="624.51" y1="454.75" x2="626.51" y2="454.75" stroke="#8cb3e1" stroke-width="0.6"/>
<line x1="624.51" y1="441.29" x2="626.51" y2="441.29" stroke="#8cb3e1" stroke-width="0.6"/>
<circle cx="625.51" cy="448.02" r="1.15" fill="#8cb3e1"/>
<line x1="629" y1="457.71" x2="629" y2="444.62" stroke="#8cb3e1" stroke-width="0.6"/>
<line x1="628" y1="457.71" x2="630" y2="457.71" stroke="#8cb3e1" stroke-width="0.6"/>
<line x1="628" y1="444.62" x2="630" y2="444.62" stroke="#8cb3e1" stroke-width="0.6"/>
<circle cx="629" cy="451.17" r="1.15" fill="#8cb3e1"/>
<line x1="632.49" y1="457.71" x2="632.49" y2="444.62" stroke="#8cb3e1" stroke-width="0.6"/>
<line x1="631.49" y1="457.71" x2="633.49" y2="457.71" stroke="#8cb3e1" stroke-width="0.6"/>
<line x1="631.49" y1="444.62" x2="633.49" y2="444.62" stroke="#8cb3e1" stroke-width="0.6"/>
<circle cx="632.49" cy="451.17" r="1.15" fill="#8cb3e1"/>
<line x1="635.98" y1="462.27" x2="635.98" y2="449.77" stroke="#8cb3e1" stroke-width="0.6"/>
<line x1="634.98" y1="462.27" x2="636.98" y2="462.27" stroke="#8cb3e1" stroke-width="0.6"/>
<line x1="634.98" y1="449.77" x2="636.98" y2="449.77" stroke="#8cb3e1" stroke-width="0.6"/>
<circle cx="635.98" cy="456.02" r="1.15" fill="#8cb3e1"/>
<line x1="639.48" y1="466.57" x2="639.48" y2="454.62" stroke="#8cb3e1" stroke-width="0.6"/>
<line x1="638.48" y1="466.57" x2="640.48" y2="466.57" stroke="#8cb3e1" stroke-width="0.6"/>
<line x1="638.48" y1="454.62" x2="640.48" y2="454.62" stroke="#8cb3e1" stroke-width="0.6"/>
<circle cx="639.48" cy="460.59" r="1.15" fill="#8cb3e1"/>
<line x1="642.97" y1="471.13" x2="642.97" y2="459.76" stroke="#8cb3e1" stroke-width="0.6"/>
<line x1="641.97" y1="471.13" x2="643.97" y2="471.13" stroke="#8cb3e1" stroke-width="0.6"/>
<line x1="641.97" y1="459.76" x2="643.97" y2="459.76" stroke="#8cb3e1" stroke-width="0.6"/>
<circle cx="642.97" cy="465.45" r="1.15" fill="#8cb3e1"/>
<line x1="646.46" y1="472.48" x2="646.46" y2="461.28" stroke="#8cb3e1" stroke-width="0.6"/>
<line x1="645.46" y1="472.48" x2="647.46" y2="472.48" stroke="#8cb3e1" stroke-width="0.6"/>
<line x1="645.46" y1="461.28" x2="647.46" y2="461.28" stroke="#8cb3e1" stroke-width="0.6"/>
<circle cx="646.46" cy="466.88" r="1.15" fill="#8cb3e1"/>
<line x1="649.95" y1="474.09" x2="649.95" y2="463.09" stroke="#8cb3e1" stroke-width="0.6"/>
<line x1="648.95" y1="474.09" x2="650.95" y2="474.09" stroke="#8cb3e1" stroke-width="0.6"/>
<line x1="648.95" y1="463.09" x2="650.95" y2="463.09" stroke="#8cb3e1" stroke-width="0.6"/>
<circle cx="649.95" cy="468.59" r="1.15" fill="#8cb3e1"/>
<line x1="653.44" y1="475.43" x2="653.44" y2="464.61" stroke="#8cb3e1" stroke-width="0.6"/>
<line x1="652.44" y1="475.43" x2="654.44" y2="475.43" stroke="#8cb3e1" stroke-width="0.6"/>
<line x1="652.44" y1="464.61" x2="654.44" y2="464.61" stroke="#8cb3e1" stroke-width="0.6"/>
<circle cx="653.44" cy="470.02" r="1.15" fill="#8cb3e1"/>
<line x1="656.93" y1="478.38" x2="656.93" y2="467.94" stroke="#8cb3e1" stroke-width="0.6"/>
<line x1="655.93" y1="478.38" x2="657.93" y2="478.38" stroke="#8cb3e1" stroke-width="0.6"/>
<line x1="655.93" y1="467.94" x2="657.93" y2="467.94" stroke="#8cb3e1" stroke-width="0.6"/>
<circle cx="656.93" cy="473.16" r="1.15" fill="#8cb3e1"/>
<line x1="660.42" y1="479.99" x2="660.42" y2="469.76" stroke="#8cb3e1" stroke-width="0.6"/>
<line x1="659.42" y1="479.99" x2="661.42" y2="479.99" stroke="#8cb3e1" stroke-width="0.6"/>
<line x1="659.42" y1="469.76" x2="661.42" y2="469.76" stroke="#8cb3e1" stroke-width="0.6"/>
<circle cx="660.42" cy="474.88" r="1.15" fill="#8cb3e1"/>
<line x1="663.92" y1="478.38" x2="663.92" y2="467.94" stroke="#8cb3e1" stroke-width="0.6"/>
<line x1="662.92" y1="478.38" x2="664.92" y2="478.38" stroke="#8cb3e1" stroke-width="0.6"/>
<line x1="662.92" y1="467.94" x2="664.92" y2="467.94" stroke="#8cb3e1" stroke-width="0.6"/>
<circle cx="663.92" cy="473.16" r="1.15" fill="#8cb3e1"/>
<line x1="667.41" y1="479.19" x2="667.41" y2="468.85" stroke="#8cb3e1" stroke-width="0.6"/>
<line x1="666.41" y1="479.19" x2="668.41" y2="479.19" stroke="#8cb3e1" stroke-width="0.6"/>
<line x1="666.41" y1="468.85" x2="668.41" y2="468.85" stroke="#8cb3e1" stroke-width="0.6"/>
<circle cx="667.41" cy="474.02" r="1.15" fill="#8cb3e1"/>
<line x1="670.9" y1="480.53" x2="670.9" y2="470.36" stroke="#8cb3e1" stroke-width="0.6"/>
<line x1="669.9" y1="480.53" x2="671.9" y2="480.53" stroke="#8cb3e1" stroke-width="0.6"/>
<line x1="669.9" y1="470.36" x2="671.9" y2="470.36" stroke="#8cb3e1" stroke-width="0.6"/>
<circle cx="670.9" cy="475.45" r="1.15" fill="#8cb3e1"/>
<line x1="511.4" y1="483.5" x2="518.4" y2="483.5" stroke="#8cb3e1" stroke-width="1"/>
<circle cx="514.9" cy="483.5" r="1.5" fill="#8cb3e1"/>
<g><text x="521.4" y="485.95" font-size="7" xml:space="preserve">SED</text><circle cx="538.59" cy="484.55" r="1.4" fill="none" stroke="#161616" stroke-width="0.67"/><path d="M539.6 483.54L541.67 481.19M540.13 481.19H541.67V482.73" stroke="#161616" stroke-width="0.67" fill="none"/><text x="542.09" y="485.95" font-size="7" xml:space="preserve"> (n=8)</text></g>
<line x1="511.4" y1="492" x2="518.4" y2="492" stroke="#274d8c" stroke-width="1"/>
<circle cx="514.9" cy="492" r="1.5" fill="#274d8c"/>
<g><text x="521.4" y="494.45" font-size="7" xml:space="preserve">EXE</text><circle cx="538.21" cy="493.05" r="1.4" fill="none" stroke="#161616" stroke-width="0.67"/><path d="M539.22 492.04L541.29 489.69M539.75 489.69H541.29V491.23" stroke="#161616" stroke-width="0.67" fill="none"/><text x="541.71" y="494.45" font-size="7" xml:space="preserve"> (n=6)</text></g>
<text x="473.6" y="453.5" text-anchor="middle" font-size="8.8" transform="rotate(-90 473.6 453.5)">Energy expenditure</text>
<text x="484.3" y="453.5" text-anchor="middle" font-size="8.8" transform="rotate(-90 484.3 453.5)">(kcal/kg/h)</text>
<text x="584.8" y="521.8" text-anchor="middle" font-size="8.4">Zeitgeber time (h)</text>
<text x="12.5" y="553" font-weight="bold" fill="#000" font-size="15.5">k</text>
<text x="355.3" y="553.3" font-weight="bold" fill="#000" font-size="15.5">l</text>
<rect x="34.2" y="540.5" width="304.1" height="13" fill="#fff" stroke="#222" stroke-width="1"/>
<text x="186.2" y="549.4" text-anchor="middle" font-style="italic" font-size="6.4">Ad libitum</text>
<rect x="380.2" y="540.5" width="303.2" height="12.8" fill="#fff" stroke="#222" stroke-width="1"/>
<text x="531.8" y="549.3" text-anchor="middle" font-size="6.4">Fasting</text>
<rect x="71.3" y="578.6" width="34.5" height="84.8" fill="#d6d6d6"/>
<rect x="37.5" y="602.29" width="9.8" height="61.11" fill="#f7dde0"/>
<circle cx="38.6" cy="597.2" r="1.35" fill="#f07a83"/>
<circle cx="41.4" cy="596.86" r="1.35" fill="#f07a83"/>
<circle cx="43.01" cy="600.93" r="1.35" fill="#f07a83"/>
<circle cx="40.46" cy="604.67" r="1.35" fill="#f07a83"/>
<circle cx="44.4" cy="605.68" r="1.35" fill="#f07a83"/>
<circle cx="46.11" cy="605.01" r="1.35" fill="#f07a83"/>
<line x1="42.4" y1="605.68" x2="42.4" y2="598.89" stroke="#f07a83" stroke-width="0.8"/>
<line x1="40.4" y1="605.68" x2="44.4" y2="605.68" stroke="#f07a83" stroke-width="0.8"/>
<line x1="40.4" y1="598.89" x2="44.4" y2="598.89" stroke="#f07a83" stroke-width="0.8"/>
<rect x="52.1" y="611.8" width="9.8" height="51.6" fill="#f7dde0"/>
<circle cx="56.19" cy="598.22" r="1.35" fill="#a51d24"/>
<circle cx="57.83" cy="610.78" r="1.35" fill="#a51d24"/>
<circle cx="59.18" cy="611.8" r="1.35" fill="#a51d24"/>
<circle cx="53.18" cy="613.15" r="1.35" fill="#a51d24"/>
<circle cx="54.97" cy="614.17" r="1.35" fill="#a51d24"/>
<circle cx="60.99" cy="614.85" r="1.35" fill="#a51d24"/>
<line x1="57" y1="615.87" x2="57" y2="607.72" stroke="#a51d24" stroke-width="0.8"/>
<line x1="55" y1="615.87" x2="59" y2="615.87" stroke="#a51d24" stroke-width="0.8"/>
<line x1="55" y1="607.72" x2="59" y2="607.72" stroke="#a51d24" stroke-width="0.8"/>
<rect x="76.2" y="607.38" width="9.8" height="56.02" fill="#f7dde0"/>
<circle cx="83.6" cy="603.31" r="1.35" fill="#f07a83"/>
<circle cx="84.8" cy="604.67" r="1.35" fill="#f07a83"/>
<circle cx="80.1" cy="607.38" r="1.35" fill="#f07a83"/>
<circle cx="82.1" cy="608.06" r="1.35" fill="#f07a83"/>
<circle cx="77.65" cy="607.38" r="1.35" fill="#f07a83"/>
<circle cx="78.89" cy="608.4" r="1.35" fill="#f07a83"/>
<line x1="81.1" y1="609.08" x2="81.1" y2="605.68" stroke="#f07a83" stroke-width="0.8"/>
<line x1="79.1" y1="609.08" x2="83.1" y2="609.08" stroke="#f07a83" stroke-width="0.8"/>
<line x1="79.1" y1="605.68" x2="83.1" y2="605.68" stroke="#f07a83" stroke-width="0.8"/>
<rect x="90.9" y="607.04" width="9.8" height="56.36" fill="#f7dde0"/>
<circle cx="97.82" cy="589.73" r="1.35" fill="#a51d24"/>
<circle cx="95.07" cy="598.22" r="1.35" fill="#a51d24"/>
<circle cx="92.2" cy="607.04" r="1.35" fill="#a51d24"/>
<circle cx="93.84" cy="610.44" r="1.35" fill="#a51d24"/>
<circle cx="99.64" cy="611.8" r="1.35" fill="#a51d24"/>
<circle cx="96.63" cy="618.25" r="1.35" fill="#a51d24"/>
<line x1="95.8" y1="612.14" x2="95.8" y2="601.95" stroke="#a51d24" stroke-width="0.8"/>
<line x1="93.8" y1="612.14" x2="97.8" y2="612.14" stroke="#a51d24" stroke-width="0.8"/>
<line x1="93.8" y1="601.95" x2="97.8" y2="601.95" stroke="#a51d24" stroke-width="0.8"/>
<line x1="32.7" y1="578.6" x2="32.7" y2="663.4" stroke="#3c3c3c" stroke-width="1"/>
<line x1="30.2" y1="663.4" x2="32.7" y2="663.4" stroke="#3c3c3c" stroke-width="1"/>
<text x="29" y="666.4" text-anchor="end">0</text>
<line x1="30.2" y1="629.45" x2="32.7" y2="629.45" stroke="#3c3c3c" stroke-width="1"/>
<text x="29" y="632.45" text-anchor="end">10</text>
<line x1="30.2" y1="595.5" x2="32.7" y2="595.5" stroke="#3c3c3c" stroke-width="1"/>
<text x="29" y="598.5" text-anchor="end">20</text>
<line x1="32.7" y1="663.4" x2="105.8" y2="663.4" stroke="#3c3c3c" stroke-width="1"/>
<line x1="49.7" y1="663.4" x2="49.7" y2="665.9" stroke="#3c3c3c" stroke-width="1"/>
<line x1="88.45" y1="663.4" x2="88.45" y2="665.9" stroke="#3c3c3c" stroke-width="1"/>
<text x="49.7" y="675" text-anchor="middle" font-size="8.6">Day</text>
<text x="88.45" y="675" text-anchor="middle" font-size="8.6">Night</text>
<text x="6.5" y="619.3" text-anchor="middle" font-size="8.4" transform="rotate(-90 6.5 619.3)">Energy expenditure</text>
<text x="17.9" y="619.3" text-anchor="middle" font-size="8.8" transform="rotate(-90 17.9 619.3)">(kcal/kg/h)</text>
<rect x="187.4" y="577.6" width="35.4" height="88.6" fill="#d6d6d6"/>
<rect x="152.5" y="613.02" width="9.8" height="53.18" fill="#f7dde0"/>
<circle cx="155.02" cy="603.81" r="1.35" fill="#f07a83"/>
<circle cx="156.91" cy="608.77" r="1.35" fill="#f07a83"/>
<circle cx="161.19" cy="611.96" r="1.35" fill="#f07a83"/>
<circle cx="159.5" cy="613.02" r="1.35" fill="#f07a83"/>
<circle cx="153.47" cy="615.86" r="1.35" fill="#f07a83"/>
<circle cx="157.99" cy="617.99" r="1.35" fill="#f07a83"/>
<line x1="157.4" y1="615.86" x2="157.4" y2="610.19" stroke="#f07a83" stroke-width="0.8"/>
<line x1="155.4" y1="615.86" x2="159.4" y2="615.86" stroke="#f07a83" stroke-width="0.8"/>
<line x1="155.4" y1="610.19" x2="159.4" y2="610.19" stroke="#f07a83" stroke-width="0.8"/>
<rect x="167.3" y="619.41" width="9.8" height="46.79" fill="#f7dde0"/>
<circle cx="169.86" cy="611.25" r="1.35" fill="#a51d24"/>
<circle cx="171.73" cy="611.25" r="1.35" fill="#a51d24"/>
<circle cx="174.24" cy="618.34" r="1.35" fill="#a51d24"/>
<circle cx="168.35" cy="621.89" r="1.35" fill="#a51d24"/>
<circle cx="173.12" cy="623.66" r="1.35" fill="#a51d24"/>
<circle cx="175.61" cy="624.37" r="1.35" fill="#a51d24"/>
<line x1="172.2" y1="622.6" x2="172.2" y2="616.22" stroke="#a51d24" stroke-width="0.8"/>
<line x1="170.2" y1="622.6" x2="174.2" y2="622.6" stroke="#a51d24" stroke-width="0.8"/>
<line x1="170.2" y1="616.22" x2="174.2" y2="616.22" stroke="#a51d24" stroke-width="0.8"/>
<rect x="192.5" y="620.82" width="9.8" height="45.38" fill="#f7dde0"/>
<circle cx="193.78" cy="615.15" r="1.35" fill="#f07a83"/>
<circle cx="201.33" cy="619.41" r="1.35" fill="#f07a83"/>
<circle cx="195.16" cy="620.82" r="1.35" fill="#f07a83"/>
<circle cx="197.98" cy="621.18" r="1.35" fill="#f07a83"/>
<circle cx="196.51" cy="621.89" r="1.35" fill="#f07a83"/>
<circle cx="199.9" cy="622.24" r="1.35" fill="#f07a83"/>
<line x1="197.4" y1="622.95" x2="197.4" y2="618.7" stroke="#f07a83" stroke-width="0.8"/>
<line x1="195.4" y1="622.95" x2="199.4" y2="622.95" stroke="#f07a83" stroke-width="0.8"/>
<line x1="195.4" y1="618.7" x2="199.4" y2="618.7" stroke="#f07a83" stroke-width="0.8"/>
<rect x="207.9" y="620.82" width="9.8" height="45.38" fill="#f7dde0"/>
<circle cx="210.58" cy="608.42" r="1.35" fill="#a51d24"/>
<circle cx="215.13" cy="614.8" r="1.35" fill="#a51d24"/>
<circle cx="213.49" cy="616.57" r="1.35" fill="#a51d24"/>
<circle cx="208.95" cy="622.6" r="1.35" fill="#a51d24"/>
<circle cx="212.16" cy="627.21" r="1.35" fill="#a51d24"/>
<circle cx="216.76" cy="627.91" r="1.35" fill="#a51d24"/>
<line x1="212.8" y1="625.08" x2="212.8" y2="616.57" stroke="#a51d24" stroke-width="0.8"/>
<line x1="210.8" y1="625.08" x2="214.8" y2="625.08" stroke="#a51d24" stroke-width="0.8"/>
<line x1="210.8" y1="616.57" x2="214.8" y2="616.57" stroke="#a51d24" stroke-width="0.8"/>
<line x1="146.9" y1="577.6" x2="146.9" y2="666.2" stroke="#3c3c3c" stroke-width="1"/>
<line x1="144.4" y1="666.2" x2="146.9" y2="666.2" stroke="#3c3c3c" stroke-width="1"/>
<text x="143.2" y="669.2" text-anchor="end">0</text>
<line x1="144.4" y1="630.75" x2="146.9" y2="630.75" stroke="#3c3c3c" stroke-width="1"/>
<text x="143.2" y="633.75" text-anchor="end">10</text>
<line x1="144.4" y1="595.3" x2="146.9" y2="595.3" stroke="#3c3c3c" stroke-width="1"/>
<text x="143.2" y="598.3" text-anchor="end">20</text>
<line x1="146.9" y1="666.2" x2="222.8" y2="666.2" stroke="#3c3c3c" stroke-width="1"/>
<line x1="164.8" y1="666.2" x2="164.8" y2="668.7" stroke="#3c3c3c" stroke-width="1"/>
<line x1="205.1" y1="666.2" x2="205.1" y2="668.7" stroke="#3c3c3c" stroke-width="1"/>
<text x="164.8" y="677.8" text-anchor="middle" font-size="8.6">Day</text>
<text x="205.1" y="677.8" text-anchor="middle" font-size="8.6">Night</text>
<text x="128.3" y="620" text-anchor="middle" font-size="9" transform="rotate(-90 128.3 620)">CH oxidation (g/d/kg<tspan dy="-3.5" font-size="6">Eff.Mass</tspan><tspan dy="3.5">)</tspan></text>
<rect x="300.6" y="576.5" width="35.2" height="89.7" fill="#d6d6d6"/>
<rect x="265.3" y="657.34" width="9.8" height="8.86" fill="#f7dde0"/>
<circle cx="272.55" cy="655.92" r="1.35" fill="#f07a83"/>
<circle cx="273.82" cy="656.98" r="1.35" fill="#f07a83"/>
<circle cx="269.4" cy="657.34" r="1.35" fill="#f07a83"/>
<circle cx="266.2" cy="657.69" r="1.35" fill="#f07a83"/>
<circle cx="270.82" cy="658.05" r="1.35" fill="#f07a83"/>
<circle cx="268.18" cy="658.4" r="1.35" fill="#f07a83"/>
<line x1="270.2" y1="658.05" x2="270.2" y2="656.63" stroke="#f07a83" stroke-width="0.8"/>
<line x1="268.2" y1="658.05" x2="272.2" y2="658.05" stroke="#f07a83" stroke-width="0.8"/>
<line x1="268.2" y1="656.63" x2="272.2" y2="656.63" stroke="#f07a83" stroke-width="0.8"/>
<rect x="279.8" y="659.11" width="9.8" height="7.09" fill="#f7dde0"/>
<circle cx="284.12" cy="655.21" r="1.35" fill="#a51d24"/>
<circle cx="286.74" cy="658.4" r="1.35" fill="#a51d24"/>
<circle cx="288.38" cy="659.11" r="1.35" fill="#a51d24"/>
<circle cx="285.3" cy="660.17" r="1.35" fill="#a51d24"/>
<circle cx="282.71" cy="660.53" r="1.35" fill="#a51d24"/>
<circle cx="280.76" cy="660.53" r="1.35" fill="#a51d24"/>
<line x1="284.7" y1="659.82" x2="284.7" y2="658.4" stroke="#a51d24" stroke-width="0.8"/>
<line x1="282.7" y1="659.82" x2="286.7" y2="659.82" stroke="#a51d24" stroke-width="0.8"/>
<line x1="282.7" y1="658.4" x2="286.7" y2="658.4" stroke="#a51d24" stroke-width="0.8"/>
<rect x="305.9" y="660.17" width="9.8" height="6.03" fill="#f7dde0"/>
<circle cx="310.01" cy="658.4" r="1.35" fill="#f07a83"/>
<circle cx="314.6" cy="659.46" r="1.35" fill="#f07a83"/>
<circle cx="307.36" cy="660.17" r="1.35" fill="#f07a83"/>
<circle cx="308.37" cy="660.53" r="1.35" fill="#f07a83"/>
<circle cx="311.48" cy="660.88" r="1.35" fill="#f07a83"/>
<circle cx="312.85" cy="661.24" r="1.35" fill="#f07a83"/>
<line x1="310.8" y1="660.88" x2="310.8" y2="659.46" stroke="#f07a83" stroke-width="0.8"/>
<line x1="308.8" y1="660.88" x2="312.8" y2="660.88" stroke="#f07a83" stroke-width="0.8"/>
<line x1="308.8" y1="659.46" x2="312.8" y2="659.46" stroke="#f07a83" stroke-width="0.8"/>
<rect x="320.5" y="660.17" width="9.8" height="6.03" fill="#f7dde0"/>
<circle cx="328.91" cy="657.69" r="1.35" fill="#a51d24"/>
<circle cx="324.63" cy="659.11" r="1.35" fill="#a51d24"/>
<circle cx="321.82" cy="660.17" r="1.35" fill="#a51d24"/>
<circle cx="326.03" cy="660.88" r="1.35" fill="#a51d24"/>
<circle cx="322.95" cy="661.59" r="1.35" fill="#a51d24"/>
<circle cx="327.37" cy="661.95" r="1.35" fill="#a51d24"/>
<line x1="325.4" y1="660.88" x2="325.4" y2="659.46" stroke="#a51d24" stroke-width="0.8"/>
<line x1="323.4" y1="660.88" x2="327.4" y2="660.88" stroke="#a51d24" stroke-width="0.8"/>
<line x1="323.4" y1="659.46" x2="327.4" y2="659.46" stroke="#a51d24" stroke-width="0.8"/>
<line x1="260" y1="576.5" x2="260" y2="666.2" stroke="#3c3c3c" stroke-width="1"/>
<line x1="257.5" y1="666.2" x2="260" y2="666.2" stroke="#3c3c3c" stroke-width="1"/>
<text x="256.3" y="669.2" text-anchor="end">0</text>
<line x1="257.5" y1="630.75" x2="260" y2="630.75" stroke="#3c3c3c" stroke-width="1"/>
<text x="256.3" y="633.75" text-anchor="end">10</text>
<line x1="257.5" y1="595.3" x2="260" y2="595.3" stroke="#3c3c3c" stroke-width="1"/>
<text x="256.3" y="598.3" text-anchor="end">20</text>
<line x1="260" y1="666.2" x2="335.8" y2="666.2" stroke="#3c3c3c" stroke-width="1"/>
<line x1="277.45" y1="666.2" x2="277.45" y2="668.7" stroke="#3c3c3c" stroke-width="1"/>
<line x1="318.1" y1="666.2" x2="318.1" y2="668.7" stroke="#3c3c3c" stroke-width="1"/>
<text x="277.45" y="677.8" text-anchor="middle" font-size="8.6">Day</text>
<text x="318.1" y="677.8" text-anchor="middle" font-size="8.6">Night</text>
<text x="242.7" y="620" text-anchor="middle" font-size="9" transform="rotate(-90 242.7 620)">Fat oxidation (g/d/kg<tspan dy="-3.5" font-size="6">Eff.Mass</tspan><tspan dy="3.5">)</tspan></text>
<rect x="71.8" y="705" width="34.1" height="85.9" fill="#d6d6d6"/>
<rect x="37.9" y="741.64" width="9.8" height="49.26" fill="#cde1f6"/>
<circle cx="44.74" cy="725.45" r="1.35" fill="#8cb3e1"/>
<circle cx="43.64" cy="739.23" r="1.35" fill="#8cb3e1"/>
<circle cx="39.02" cy="740.95" r="1.35" fill="#8cb3e1"/>
<circle cx="46.43" cy="742.67" r="1.35" fill="#8cb3e1"/>
<circle cx="41.96" cy="744.39" r="1.35" fill="#8cb3e1"/>
<circle cx="40.38" cy="751.28" r="1.35" fill="#8cb3e1"/>
<line x1="42.8" y1="746.12" x2="42.8" y2="737.16" stroke="#8cb3e1" stroke-width="0.8"/>
<line x1="40.8" y1="746.12" x2="44.8" y2="746.12" stroke="#8cb3e1" stroke-width="0.8"/>
<line x1="40.8" y1="737.16" x2="44.8" y2="737.16" stroke="#8cb3e1" stroke-width="0.8"/>
<rect x="52.3" y="743.36" width="9.8" height="47.54" fill="#cde1f6"/>
<circle cx="57.89" cy="740.95" r="1.35" fill="#274d8c"/>
<circle cx="55.21" cy="741.64" r="1.35" fill="#274d8c"/>
<circle cx="59.46" cy="742.67" r="1.35" fill="#274d8c"/>
<circle cx="56.61" cy="744.39" r="1.35" fill="#274d8c"/>
<circle cx="60.83" cy="746.12" r="1.35" fill="#274d8c"/>
<circle cx="53.66" cy="746.8" r="1.35" fill="#274d8c"/>
<line x1="57.2" y1="745.43" x2="57.2" y2="741.29" stroke="#274d8c" stroke-width="0.8"/>
<line x1="55.2" y1="745.43" x2="59.2" y2="745.43" stroke="#274d8c" stroke-width="0.8"/>
<line x1="55.2" y1="741.29" x2="59.2" y2="741.29" stroke="#274d8c" stroke-width="0.8"/>
<rect x="76.6" y="731.3" width="9.8" height="59.6" fill="#cde1f6"/>
<circle cx="85.02" cy="712.35" r="1.35" fill="#8cb3e1"/>
<circle cx="79.3" cy="725.45" r="1.35" fill="#8cb3e1"/>
<circle cx="83.69" cy="732.34" r="1.35" fill="#8cb3e1"/>
<circle cx="77.69" cy="735.78" r="1.35" fill="#8cb3e1"/>
<circle cx="82.38" cy="740.95" r="1.35" fill="#8cb3e1"/>
<circle cx="80.74" cy="740.95" r="1.35" fill="#8cb3e1"/>
<line x1="81.5" y1="736.81" x2="81.5" y2="725.79" stroke="#8cb3e1" stroke-width="0.8"/>
<line x1="79.5" y1="736.81" x2="83.5" y2="736.81" stroke="#8cb3e1" stroke-width="0.8"/>
<line x1="79.5" y1="725.79" x2="83.5" y2="725.79" stroke="#8cb3e1" stroke-width="0.8"/>
<rect x="90.8" y="734.75" width="9.8" height="56.15" fill="#cde1f6"/>
<circle cx="91.72" cy="727.17" r="1.35" fill="#274d8c"/>
<circle cx="97.64" cy="732.34" r="1.35" fill="#274d8c"/>
<circle cx="94.7" cy="734.06" r="1.35" fill="#274d8c"/>
<circle cx="93.73" cy="735.78" r="1.35" fill="#274d8c"/>
<circle cx="96.3" cy="736.47" r="1.35" fill="#274d8c"/>
<circle cx="99.55" cy="738.54" r="1.35" fill="#274d8c"/>
<line x1="95.7" y1="737.5" x2="95.7" y2="731.99" stroke="#274d8c" stroke-width="0.8"/>
<line x1="93.7" y1="737.5" x2="97.7" y2="737.5" stroke="#274d8c" stroke-width="0.8"/>
<line x1="93.7" y1="731.99" x2="97.7" y2="731.99" stroke="#274d8c" stroke-width="0.8"/>
<line x1="32.8" y1="705" x2="32.8" y2="790.9" stroke="#3c3c3c" stroke-width="1"/>
<line x1="30.3" y1="790.9" x2="32.8" y2="790.9" stroke="#3c3c3c" stroke-width="1"/>
<text x="29.1" y="793.9" text-anchor="end">0</text>
<line x1="30.3" y1="756.45" x2="32.8" y2="756.45" stroke="#3c3c3c" stroke-width="1"/>
<text x="29.1" y="759.45" text-anchor="end">10</text>
<line x1="30.3" y1="722" x2="32.8" y2="722" stroke="#3c3c3c" stroke-width="1"/>
<text x="29.1" y="725" text-anchor="end">20</text>
<line x1="32.8" y1="790.9" x2="105.9" y2="790.9" stroke="#3c3c3c" stroke-width="1"/>
<line x1="50" y1="790.9" x2="50" y2="793.4" stroke="#3c3c3c" stroke-width="1"/>
<line x1="88.6" y1="790.9" x2="88.6" y2="793.4" stroke="#3c3c3c" stroke-width="1"/>
<text x="50" y="802.5" text-anchor="middle" font-size="8.6">Day</text>
<text x="88.6" y="802.5" text-anchor="middle" font-size="8.6">Night</text>
<text x="6.5" y="746.2" text-anchor="middle" font-size="8.4" transform="rotate(-90 6.5 746.2)">Energy expenditure</text>
<text x="17.9" y="746.2" text-anchor="middle" font-size="8.8" transform="rotate(-90 17.9 746.2)">(kcal/kg/h)</text>
<rect x="187.8" y="702.7" width="35.2" height="88.9" fill="#d6d6d6"/>
<rect x="152.5" y="748.17" width="9.8" height="43.43" fill="#cde1f6"/>
<circle cx="153.97" cy="732.15" r="1.35" fill="#8cb3e1"/>
<circle cx="158.21" cy="742.83" r="1.35" fill="#8cb3e1"/>
<circle cx="155.03" cy="743.54" r="1.35" fill="#8cb3e1"/>
<circle cx="161.23" cy="747.1" r="1.35" fill="#8cb3e1"/>
<circle cx="156.55" cy="750.66" r="1.35" fill="#8cb3e1"/>
<circle cx="159.49" cy="762.05" r="1.35" fill="#8cb3e1"/>
<line x1="157.4" y1="752.44" x2="157.4" y2="743.9" stroke="#8cb3e1" stroke-width="0.8"/>
<line x1="155.4" y1="752.44" x2="159.4" y2="752.44" stroke="#8cb3e1" stroke-width="0.8"/>
<line x1="155.4" y1="743.9" x2="159.4" y2="743.9" stroke="#8cb3e1" stroke-width="0.8"/>
<rect x="167.3" y="747.81" width="9.8" height="43.79" fill="#cde1f6"/>
<circle cx="169.74" cy="739.62" r="1.35" fill="#274d8c"/>
<circle cx="171.59" cy="744.25" r="1.35" fill="#274d8c"/>
<circle cx="172.92" cy="747.1" r="1.35" fill="#274d8c"/>
<circle cx="176.07" cy="747.81" r="1.35" fill="#274d8c"/>
<circle cx="174.6" cy="751.73" r="1.35" fill="#274d8c"/>
<circle cx="168.74" cy="751.73" r="1.35" fill="#274d8c"/>
<line x1="172.2" y1="750.3" x2="172.2" y2="745.32" stroke="#274d8c" stroke-width="0.8"/>
<line x1="170.2" y1="750.3" x2="174.2" y2="750.3" stroke="#274d8c" stroke-width="0.8"/>
<line x1="170.2" y1="745.32" x2="174.2" y2="745.32" stroke="#274d8c" stroke-width="0.8"/>
<rect x="192.9" y="745.32" width="9.8" height="46.28" fill="#cde1f6"/>
<circle cx="200.2" cy="733.22" r="1.35" fill="#8cb3e1"/>
<circle cx="197.2" cy="737.13" r="1.35" fill="#8cb3e1"/>
<circle cx="194.29" cy="746.03" r="1.35" fill="#8cb3e1"/>
<circle cx="201.67" cy="751.73" r="1.35" fill="#8cb3e1"/>
<circle cx="195.64" cy="752.44" r="1.35" fill="#8cb3e1"/>
<circle cx="198.44" cy="752.44" r="1.35" fill="#8cb3e1"/>
<line x1="197.8" y1="749.59" x2="197.8" y2="741.05" stroke="#8cb3e1" stroke-width="0.8"/>
<line x1="195.8" y1="749.59" x2="199.8" y2="749.59" stroke="#8cb3e1" stroke-width="0.8"/>
<line x1="195.8" y1="741.05" x2="199.8" y2="741.05" stroke="#8cb3e1" stroke-width="0.8"/>
<rect x="208.3" y="746.03" width="9.8" height="45.57" fill="#cde1f6"/>
<circle cx="210.98" cy="741.76" r="1.35" fill="#274d8c"/>
<circle cx="209.43" cy="743.9" r="1.35" fill="#274d8c"/>
<circle cx="215.22" cy="745.32" r="1.35" fill="#274d8c"/>
<circle cx="216.85" cy="746.74" r="1.35" fill="#274d8c"/>
<circle cx="214.03" cy="747.1" r="1.35" fill="#274d8c"/>
<circle cx="212.45" cy="747.81" r="1.35" fill="#274d8c"/>
<line x1="213.2" y1="748.17" x2="213.2" y2="743.9" stroke="#274d8c" stroke-width="0.8"/>
<line x1="211.2" y1="748.17" x2="215.2" y2="748.17" stroke="#274d8c" stroke-width="0.8"/>
<line x1="211.2" y1="743.9" x2="215.2" y2="743.9" stroke="#274d8c" stroke-width="0.8"/>
<line x1="146.9" y1="702.7" x2="146.9" y2="791.6" stroke="#3c3c3c" stroke-width="1"/>
<line x1="144.4" y1="791.6" x2="146.9" y2="791.6" stroke="#3c3c3c" stroke-width="1"/>
<text x="143.2" y="794.6" text-anchor="end">0</text>
<line x1="144.4" y1="756" x2="146.9" y2="756" stroke="#3c3c3c" stroke-width="1"/>
<text x="143.2" y="759" text-anchor="end">10</text>
<line x1="144.4" y1="720.4" x2="146.9" y2="720.4" stroke="#3c3c3c" stroke-width="1"/>
<text x="143.2" y="723.4" text-anchor="end">20</text>
<line x1="146.9" y1="791.6" x2="223" y2="791.6" stroke="#3c3c3c" stroke-width="1"/>
<line x1="164.8" y1="791.6" x2="164.8" y2="794.1" stroke="#3c3c3c" stroke-width="1"/>
<line x1="205.5" y1="791.6" x2="205.5" y2="794.1" stroke="#3c3c3c" stroke-width="1"/>
<text x="164.8" y="803.2" text-anchor="middle" font-size="8.6">Day</text>
<text x="205.5" y="803.2" text-anchor="middle" font-size="8.6">Night</text>
<text x="128.3" y="747" text-anchor="middle" font-size="9" transform="rotate(-90 128.3 747)">CH oxidation (g/d/kg<tspan dy="-3.5" font-size="6">Eff.Mass</tspan><tspan dy="3.5">)</tspan></text>
<rect x="300.2" y="702.7" width="35.5" height="88.9" fill="#d6d6d6"/>
<rect x="265.1" y="784.84" width="9.8" height="6.76" fill="#cde1f6"/>
<circle cx="274" cy="781.28" r="1.35" fill="#8cb3e1"/>
<circle cx="266.15" cy="783.41" r="1.35" fill="#8cb3e1"/>
<circle cx="270.49" cy="784.48" r="1.35" fill="#8cb3e1"/>
<circle cx="267.54" cy="784.84" r="1.35" fill="#8cb3e1"/>
<circle cx="269.26" cy="785.19" r="1.35" fill="#8cb3e1"/>
<circle cx="272.35" cy="788.4" r="1.35" fill="#8cb3e1"/>
<line x1="270" y1="785.55" x2="270" y2="784.12" stroke="#8cb3e1" stroke-width="0.8"/>
<line x1="268" y1="785.55" x2="272" y2="785.55" stroke="#8cb3e1" stroke-width="0.8"/>
<line x1="268" y1="784.12" x2="272" y2="784.12" stroke="#8cb3e1" stroke-width="0.8"/>
<rect x="280.1" y="783.77" width="9.8" height="7.83" fill="#cde1f6"/>
<circle cx="284.24" cy="780.56" r="1.35" fill="#274d8c"/>
<circle cx="288.94" cy="782.34" r="1.35" fill="#274d8c"/>
<circle cx="281.14" cy="783.06" r="1.35" fill="#274d8c"/>
<circle cx="287.25" cy="783.77" r="1.35" fill="#274d8c"/>
<circle cx="282.94" cy="784.48" r="1.35" fill="#274d8c"/>
<circle cx="285.9" cy="785.9" r="1.35" fill="#274d8c"/>
<line x1="285" y1="784.48" x2="285" y2="783.06" stroke="#274d8c" stroke-width="0.8"/>
<line x1="283" y1="784.48" x2="287" y2="784.48" stroke="#274d8c" stroke-width="0.8"/>
<line x1="283" y1="783.06" x2="287" y2="783.06" stroke="#274d8c" stroke-width="0.8"/>
<rect x="305.4" y="786.26" width="9.8" height="5.34" fill="#cde1f6"/>
<circle cx="306.52" cy="783.77" r="1.35" fill="#8cb3e1"/>
<circle cx="308.22" cy="785.55" r="1.35" fill="#8cb3e1"/>
<circle cx="310.86" cy="786.26" r="1.35" fill="#8cb3e1"/>
<circle cx="312.37" cy="786.62" r="1.35" fill="#8cb3e1"/>
<circle cx="313.85" cy="786.97" r="1.35" fill="#8cb3e1"/>
<circle cx="309.35" cy="787.33" r="1.35" fill="#8cb3e1"/>
<line x1="310.3" y1="786.79" x2="310.3" y2="785.73" stroke="#8cb3e1" stroke-width="0.8"/>
<line x1="308.3" y1="786.79" x2="312.3" y2="786.79" stroke="#8cb3e1" stroke-width="0.8"/>
<line x1="308.3" y1="785.73" x2="312.3" y2="785.73" stroke="#8cb3e1" stroke-width="0.8"/>
<rect x="320.8" y="785.9" width="9.8" height="5.7" fill="#cde1f6"/>
<circle cx="326.29" cy="784.84" r="1.35" fill="#274d8c"/>
<circle cx="329.25" cy="785.19" r="1.35" fill="#274d8c"/>
<circle cx="322.01" cy="785.55" r="1.35" fill="#274d8c"/>
<circle cx="325.05" cy="785.9" r="1.35" fill="#274d8c"/>
<circle cx="323.24" cy="786.26" r="1.35" fill="#274d8c"/>
<circle cx="327.9" cy="786.26" r="1.35" fill="#274d8c"/>
<line x1="325.7" y1="786.26" x2="325.7" y2="785.55" stroke="#274d8c" stroke-width="0.8"/>
<line x1="323.7" y1="786.26" x2="327.7" y2="786.26" stroke="#274d8c" stroke-width="0.8"/>
<line x1="323.7" y1="785.55" x2="327.7" y2="785.55" stroke="#274d8c" stroke-width="0.8"/>
<line x1="260" y1="702.7" x2="260" y2="791.6" stroke="#3c3c3c" stroke-width="1"/>
<line x1="257.5" y1="791.6" x2="260" y2="791.6" stroke="#3c3c3c" stroke-width="1"/>
<text x="256.3" y="794.6" text-anchor="end">0</text>
<line x1="257.5" y1="756" x2="260" y2="756" stroke="#3c3c3c" stroke-width="1"/>
<text x="256.3" y="759" text-anchor="end">10</text>
<line x1="257.5" y1="720.4" x2="260" y2="720.4" stroke="#3c3c3c" stroke-width="1"/>
<text x="256.3" y="723.4" text-anchor="end">20</text>
<line x1="260" y1="791.6" x2="335.7" y2="791.6" stroke="#3c3c3c" stroke-width="1"/>
<line x1="277.5" y1="791.6" x2="277.5" y2="794.1" stroke="#3c3c3c" stroke-width="1"/>
<line x1="318" y1="791.6" x2="318" y2="794.1" stroke="#3c3c3c" stroke-width="1"/>
<text x="277.5" y="803.2" text-anchor="middle" font-size="8.6">Day</text>
<text x="318" y="803.2" text-anchor="middle" font-size="8.6">Night</text>
<text x="242.7" y="747" text-anchor="middle" font-size="9" transform="rotate(-90 242.7 747)">Fat oxidation (g/d/kg<tspan dy="-3.5" font-size="6">Eff.Mass</tspan><tspan dy="3.5">)</tspan></text>
<rect x="418.3" y="578.6" width="34.7" height="85.9" fill="#d6d6d6"/>
<rect x="384.4" y="627.96" width="9.2" height="36.54" fill="#fff" stroke="#f3c6ca" stroke-width="0.6"/>
<circle cx="388.46" cy="611.57" r="1.35" fill="#f07a83"/>
<circle cx="389.99" cy="613.28" r="1.35" fill="#f07a83"/>
<circle cx="386.5" cy="618.06" r="1.35" fill="#f07a83"/>
<circle cx="391.1" cy="632.06" r="1.35" fill="#f07a83"/>
<circle cx="392.48" cy="642.3" r="1.35" fill="#f07a83"/>
<circle cx="385.11" cy="648.11" r="1.35" fill="#f07a83"/>
<line x1="389" y1="634.79" x2="389" y2="621.13" stroke="#f07a83" stroke-width="0.8"/>
<line x1="387" y1="634.79" x2="391" y2="634.79" stroke="#f07a83" stroke-width="0.8"/>
<line x1="387" y1="621.13" x2="391" y2="621.13" stroke="#f07a83" stroke-width="0.8"/>
<rect x="398.9" y="616.01" width="9.2" height="48.49" fill="#fff" stroke="#f3c6ca" stroke-width="0.6"/>
<circle cx="402.73" cy="611.57" r="1.35" fill="#a51d24"/>
<circle cx="404.1" cy="613.28" r="1.35" fill="#a51d24"/>
<circle cx="407.37" cy="616.69" r="1.35" fill="#a51d24"/>
<circle cx="400.06" cy="617.37" r="1.35" fill="#a51d24"/>
<circle cx="401.04" cy="619.42" r="1.35" fill="#a51d24"/>
<circle cx="405.78" cy="621.81" r="1.35" fill="#a51d24"/>
<line x1="403.5" y1="618.06" x2="403.5" y2="613.96" stroke="#a51d24" stroke-width="0.8"/>
<line x1="401.5" y1="618.06" x2="405.5" y2="618.06" stroke="#a51d24" stroke-width="0.8"/>
<line x1="401.5" y1="613.96" x2="405.5" y2="613.96" stroke="#a51d24" stroke-width="0.8"/>
<rect x="423.4" y="608.84" width="9.2" height="55.66" fill="#fff" stroke="#f3c6ca" stroke-width="0.6"/>
<circle cx="431.61" cy="604.74" r="1.35" fill="#f07a83"/>
<circle cx="428.47" cy="605.76" r="1.35" fill="#f07a83"/>
<circle cx="424.6" cy="607.13" r="1.35" fill="#f07a83"/>
<circle cx="425.5" cy="608.84" r="1.35" fill="#f07a83"/>
<circle cx="427.4" cy="610.54" r="1.35" fill="#f07a83"/>
<circle cx="430.47" cy="617.37" r="1.35" fill="#f07a83"/>
<line x1="428" y1="610.88" x2="428" y2="606.79" stroke="#f07a83" stroke-width="0.8"/>
<line x1="426" y1="610.88" x2="430" y2="610.88" stroke="#f07a83" stroke-width="0.8"/>
<line x1="426" y1="606.79" x2="430" y2="606.79" stroke="#f07a83" stroke-width="0.8"/>
<rect x="437.9" y="595.52" width="9.2" height="68.98" fill="#fff" stroke="#f3c6ca" stroke-width="0.6"/>
<circle cx="446.02" cy="592.79" r="1.35" fill="#a51d24"/>
<circle cx="440.16" cy="593.47" r="1.35" fill="#a51d24"/>
<circle cx="444.54" cy="594.49" r="1.35" fill="#a51d24"/>
<circle cx="443.42" cy="595.18" r="1.35" fill="#a51d24"/>
<circle cx="441.79" cy="596.88" r="1.35" fill="#a51d24"/>
<circle cx="438.53" cy="603.71" r="1.35" fill="#a51d24"/>
<line x1="442.5" y1="597.57" x2="442.5" y2="593.47" stroke="#a51d24" stroke-width="0.8"/>
<line x1="440.5" y1="597.57" x2="444.5" y2="597.57" stroke="#a51d24" stroke-width="0.8"/>
<line x1="440.5" y1="593.47" x2="444.5" y2="593.47" stroke="#a51d24" stroke-width="0.8"/>
<line x1="379.4" y1="578.6" x2="379.4" y2="664.5" stroke="#3c3c3c" stroke-width="1"/>
<line x1="376.9" y1="664.5" x2="379.4" y2="664.5" stroke="#3c3c3c" stroke-width="1"/>
<text x="375.7" y="667.5" text-anchor="end">0</text>
<line x1="376.9" y1="630.35" x2="379.4" y2="630.35" stroke="#3c3c3c" stroke-width="1"/>
<text x="375.7" y="633.35" text-anchor="end">10</text>
<line x1="376.9" y1="596.2" x2="379.4" y2="596.2" stroke="#3c3c3c" stroke-width="1"/>
<text x="375.7" y="599.2" text-anchor="end">20</text>
<line x1="379.4" y1="664.5" x2="453" y2="664.5" stroke="#3c3c3c" stroke-width="1"/>
<line x1="396.25" y1="664.5" x2="396.25" y2="667" stroke="#3c3c3c" stroke-width="1"/>
<line x1="435.25" y1="664.5" x2="435.25" y2="667" stroke="#3c3c3c" stroke-width="1"/>
<text x="396.25" y="676.1" text-anchor="middle" font-size="8.6">Day</text>
<text x="435.25" y="676.1" text-anchor="middle" font-size="8.6">Night</text>
<text x="354" y="619.3" text-anchor="middle" font-size="8.4" transform="rotate(-90 354 619.3)">Energy expenditure</text>
<text x="364.8" y="619.3" text-anchor="middle" font-size="8.8" transform="rotate(-90 364.8 619.3)">(kcal/kg/h)</text>
<text x="435.2" y="584.67" text-anchor="middle" fill="#333" font-size="6.2"><tspan font-style="italic">P</tspan>=0.041</text>
<polyline points="427.5,590 427.5,586.5 443,586.5 443,590" fill="none" stroke="#333" stroke-width="0.8"/>
<rect x="534.9" y="577.5" width="35.9" height="87.8" fill="#d6d6d6"/>
<rect x="499.8" y="626.28" width="9.2" height="39.02" fill="#fff" stroke="#f3c6ca" stroke-width="0.6"/>
<circle cx="506.71" cy="609.06" r="1.35" fill="#f07a83"/>
<circle cx="508.04" cy="613.28" r="1.35" fill="#f07a83"/>
<circle cx="503.52" cy="621.36" r="1.35" fill="#f07a83"/>
<circle cx="502.47" cy="630.15" r="1.35" fill="#f07a83"/>
<circle cx="505.24" cy="638.23" r="1.35" fill="#f07a83"/>
<circle cx="500.65" cy="647.02" r="1.35" fill="#f07a83"/>
<line x1="504.4" y1="632.61" x2="504.4" y2="619.96" stroke="#f07a83" stroke-width="0.8"/>
<line x1="502.4" y1="632.61" x2="506.4" y2="632.61" stroke="#f07a83" stroke-width="0.8"/>
<line x1="502.4" y1="619.96" x2="506.4" y2="619.96" stroke="#f07a83" stroke-width="0.8"/>
<rect x="514.9" y="613.28" width="9.2" height="52.02" fill="#fff" stroke="#f3c6ca" stroke-width="0.6"/>
<circle cx="522.92" cy="608.01" r="1.35" fill="#a51d24"/>
<circle cx="520.4" cy="609.06" r="1.35" fill="#a51d24"/>
<circle cx="517.46" cy="611.52" r="1.35" fill="#a51d24"/>
<circle cx="521.81" cy="613.28" r="1.35" fill="#a51d24"/>
<circle cx="518.69" cy="615.04" r="1.35" fill="#a51d24"/>
<circle cx="515.74" cy="618.9" r="1.35" fill="#a51d24"/>
<line x1="519.5" y1="615.39" x2="519.5" y2="611.17" stroke="#a51d24" stroke-width="0.8"/>
<line x1="517.5" y1="615.39" x2="521.5" y2="615.39" stroke="#a51d24" stroke-width="0.8"/>
<line x1="517.5" y1="611.17" x2="521.5" y2="611.17" stroke="#a51d24" stroke-width="0.8"/>
<rect x="540.4" y="610.11" width="9.2" height="55.19" fill="#fff" stroke="#f3c6ca" stroke-width="0.6"/>
<circle cx="544.45" cy="604.84" r="1.35" fill="#f07a83"/>
<circle cx="548.65" cy="606.25" r="1.35" fill="#f07a83"/>
<circle cx="547.45" cy="607.3" r="1.35" fill="#f07a83"/>
<circle cx="542.75" cy="609.76" r="1.35" fill="#f07a83"/>
<circle cx="545.54" cy="613.63" r="1.35" fill="#f07a83"/>
<circle cx="541" cy="625.58" r="1.35" fill="#f07a83"/>
<line x1="545" y1="613.63" x2="545" y2="606.6" stroke="#f07a83" stroke-width="0.8"/>
<line x1="543" y1="613.63" x2="547" y2="613.63" stroke="#f07a83" stroke-width="0.8"/>
<line x1="543" y1="606.6" x2="547" y2="606.6" stroke="#f07a83" stroke-width="0.8"/>
<rect x="555.6" y="596.76" width="9.2" height="68.54" fill="#fff" stroke="#f3c6ca" stroke-width="0.6"/>
<circle cx="559.6" cy="592.54" r="1.35" fill="#a51d24"/>
<circle cx="563.71" cy="593.95" r="1.35" fill="#a51d24"/>
<circle cx="556.4" cy="595.7" r="1.35" fill="#a51d24"/>
<circle cx="560.74" cy="596.41" r="1.35" fill="#a51d24"/>
<circle cx="557.78" cy="603.44" r="1.35" fill="#a51d24"/>
<circle cx="562.16" cy="603.79" r="1.35" fill="#a51d24"/>
<line x1="560.2" y1="599.22" x2="560.2" y2="594.3" stroke="#a51d24" stroke-width="0.8"/>
<line x1="558.2" y1="599.22" x2="562.2" y2="599.22" stroke="#a51d24" stroke-width="0.8"/>
<line x1="558.2" y1="594.3" x2="562.2" y2="594.3" stroke="#a51d24" stroke-width="0.8"/>
<line x1="494.5" y1="577.5" x2="494.5" y2="665.3" stroke="#3c3c3c" stroke-width="1"/>
<line x1="492" y1="665.3" x2="494.5" y2="665.3" stroke="#3c3c3c" stroke-width="1"/>
<text x="490.8" y="668.3" text-anchor="end">0</text>
<line x1="492" y1="630.15" x2="494.5" y2="630.15" stroke="#3c3c3c" stroke-width="1"/>
<text x="490.8" y="633.15" text-anchor="end">10</text>
<line x1="492" y1="595" x2="494.5" y2="595" stroke="#3c3c3c" stroke-width="1"/>
<text x="490.8" y="598" text-anchor="end">20</text>
<line x1="494.5" y1="665.3" x2="570.8" y2="665.3" stroke="#3c3c3c" stroke-width="1"/>
<line x1="511.95" y1="665.3" x2="511.95" y2="667.8" stroke="#3c3c3c" stroke-width="1"/>
<line x1="552.6" y1="665.3" x2="552.6" y2="667.8" stroke="#3c3c3c" stroke-width="1"/>
<text x="511.95" y="676.9" text-anchor="middle" font-size="8.6">Day</text>
<text x="552.6" y="676.9" text-anchor="middle" font-size="8.6">Night</text>
<text x="476.9" y="620" text-anchor="middle" font-size="9" transform="rotate(-90 476.9 620)">CH oxidation (g/d/kg<tspan dy="-3.5" font-size="6">Eff.Mass</tspan><tspan dy="3.5">)</tspan></text>
<text x="552.5" y="581.47" text-anchor="middle" fill="#333" font-size="6.2"><tspan font-style="italic">P</tspan>=0.047</text>
<polyline points="544.8,588.5 544.8,584.2 560.2,584.2 560.2,588.5" fill="none" stroke="#333" stroke-width="0.8"/>
<rect x="644.6" y="577" width="35.9" height="88.3" fill="#d6d6d6"/>
<rect x="609.3" y="657.22" width="9.2" height="8.08" fill="#fff" stroke="#f3c6ca" stroke-width="0.6"/>
<circle cx="613.36" cy="654.75" r="1.35" fill="#f07a83"/>
<circle cx="609.92" cy="655.46" r="1.35" fill="#f07a83"/>
<circle cx="616.37" cy="656.51" r="1.35" fill="#f07a83"/>
<circle cx="611.57" cy="658.27" r="1.35" fill="#f07a83"/>
<circle cx="617.67" cy="659.32" r="1.35" fill="#f07a83"/>
<circle cx="614.72" cy="660.03" r="1.35" fill="#f07a83"/>
<line x1="613.9" y1="658.62" x2="613.9" y2="655.81" stroke="#f07a83" stroke-width="0.8"/>
<line x1="611.9" y1="658.62" x2="615.9" y2="658.62" stroke="#f07a83" stroke-width="0.8"/>
<line x1="611.9" y1="655.81" x2="615.9" y2="655.81" stroke="#f07a83" stroke-width="0.8"/>
<rect x="624.6" y="653.7" width="9.2" height="11.6" fill="#fff" stroke="#f3c6ca" stroke-width="0.6"/>
<circle cx="630.01" cy="652.65" r="1.35" fill="#a51d24"/>
<circle cx="632.97" cy="653" r="1.35" fill="#a51d24"/>
<circle cx="628.28" cy="653.35" r="1.35" fill="#a51d24"/>
<circle cx="626.96" cy="653.7" r="1.35" fill="#a51d24"/>
<circle cx="631.46" cy="654.05" r="1.35" fill="#a51d24"/>
<circle cx="625.22" cy="654.4" r="1.35" fill="#a51d24"/>
<line x1="629.2" y1="654.4" x2="629.2" y2="653" stroke="#a51d24" stroke-width="0.8"/>
<line x1="627.2" y1="654.4" x2="631.2" y2="654.4" stroke="#a51d24" stroke-width="0.8"/>
<line x1="627.2" y1="653" x2="631.2" y2="653" stroke="#a51d24" stroke-width="0.8"/>
<rect x="649.7" y="653.35" width="9.2" height="11.95" fill="#fff" stroke="#f3c6ca" stroke-width="0.6"/>
<circle cx="653.35" cy="651.94" r="1.35" fill="#f07a83"/>
<circle cx="650.88" cy="652.65" r="1.35" fill="#f07a83"/>
<circle cx="658.19" cy="653.35" r="1.35" fill="#f07a83"/>
<circle cx="654.86" cy="653.7" r="1.35" fill="#f07a83"/>
<circle cx="652.31" cy="654.4" r="1.35" fill="#f07a83"/>
<circle cx="656.73" cy="655.11" r="1.35" fill="#f07a83"/>
<line x1="654.3" y1="654.05" x2="654.3" y2="652.65" stroke="#f07a83" stroke-width="0.8"/>
<line x1="652.3" y1="654.05" x2="656.3" y2="654.05" stroke="#f07a83" stroke-width="0.8"/>
<line x1="652.3" y1="652.65" x2="656.3" y2="652.65" stroke="#f07a83" stroke-width="0.8"/>
<rect x="665.2" y="650.54" width="9.2" height="14.76" fill="#fff" stroke="#f3c6ca" stroke-width="0.6"/>
<circle cx="670.6" cy="649.83" r="1.35" fill="#a51d24"/>
<circle cx="667.61" cy="650.19" r="1.35" fill="#a51d24"/>
<circle cx="672.1" cy="650.54" r="1.35" fill="#a51d24"/>
<circle cx="668.94" cy="650.54" r="1.35" fill="#a51d24"/>
<circle cx="666.05" cy="650.89" r="1.35" fill="#a51d24"/>
<circle cx="673.55" cy="651.24" r="1.35" fill="#a51d24"/>
<line x1="669.8" y1="650.89" x2="669.8" y2="650.19" stroke="#a51d24" stroke-width="0.8"/>
<line x1="667.8" y1="650.89" x2="671.8" y2="650.89" stroke="#a51d24" stroke-width="0.8"/>
<line x1="667.8" y1="650.19" x2="671.8" y2="650.19" stroke="#a51d24" stroke-width="0.8"/>
<line x1="603.6" y1="577" x2="603.6" y2="665.3" stroke="#3c3c3c" stroke-width="1"/>
<line x1="601.1" y1="665.3" x2="603.6" y2="665.3" stroke="#3c3c3c" stroke-width="1"/>
<text x="599.9" y="668.3" text-anchor="end">0</text>
<line x1="601.1" y1="630.15" x2="603.6" y2="630.15" stroke="#3c3c3c" stroke-width="1"/>
<text x="599.9" y="633.15" text-anchor="end">10</text>
<line x1="601.1" y1="595" x2="603.6" y2="595" stroke="#3c3c3c" stroke-width="1"/>
<text x="599.9" y="598" text-anchor="end">20</text>
<line x1="603.6" y1="665.3" x2="680.5" y2="665.3" stroke="#3c3c3c" stroke-width="1"/>
<line x1="621.55" y1="665.3" x2="621.55" y2="667.8" stroke="#3c3c3c" stroke-width="1"/>
<line x1="662.05" y1="665.3" x2="662.05" y2="667.8" stroke="#3c3c3c" stroke-width="1"/>
<text x="621.55" y="676.9" text-anchor="middle" font-size="8.6">Day</text>
<text x="662.05" y="676.9" text-anchor="middle" font-size="8.6">Night</text>
<text x="587" y="620" text-anchor="middle" font-size="9" transform="rotate(-90 587 620)">Fat oxidation (g/d/kg<tspan dy="-3.5" font-size="6">Eff.Mass</tspan><tspan dy="3.5">)</tspan></text>
<text x="661.7" y="625.77" text-anchor="middle" fill="#333" font-size="6.2"><tspan font-style="italic">P</tspan>=0.044</text>
<polyline points="653.2,631.8 653.2,627.6 669.6,627.6 669.6,631.8" fill="none" stroke="#333" stroke-width="0.8"/>
<rect x="418.3" y="704.2" width="34.7" height="85.3" fill="#d6d6d6"/>
<rect x="384.7" y="751.94" width="9.2" height="37.56" fill="#fff" stroke="#bcd5f0" stroke-width="0.6"/>
<circle cx="385.4" cy="744.42" r="1.35" fill="#8cb3e1"/>
<circle cx="391.22" cy="749.2" r="1.35" fill="#8cb3e1"/>
<circle cx="387.37" cy="750.57" r="1.35" fill="#8cb3e1"/>
<circle cx="388.54" cy="751.94" r="1.35" fill="#8cb3e1"/>
<circle cx="392.97" cy="753.98" r="1.35" fill="#8cb3e1"/>
<circle cx="390.11" cy="756.72" r="1.35" fill="#8cb3e1"/>
<line x1="389.3" y1="754.33" x2="389.3" y2="749.54" stroke="#8cb3e1" stroke-width="0.8"/>
<line x1="387.3" y1="754.33" x2="391.3" y2="754.33" stroke="#8cb3e1" stroke-width="0.8"/>
<line x1="387.3" y1="749.54" x2="391.3" y2="749.54" stroke="#8cb3e1" stroke-width="0.8"/>
<rect x="398.9" y="744.76" width="9.2" height="44.74" fill="#fff" stroke="#bcd5f0" stroke-width="0.6"/>
<circle cx="402.5" cy="742.37" r="1.35" fill="#274d8c"/>
<circle cx="399.71" cy="743.4" r="1.35" fill="#274d8c"/>
<circle cx="405.64" cy="744.42" r="1.35" fill="#274d8c"/>
<circle cx="407.39" cy="745.11" r="1.35" fill="#274d8c"/>
<circle cx="401.28" cy="745.79" r="1.35" fill="#274d8c"/>
<circle cx="404.34" cy="749.2" r="1.35" fill="#274d8c"/>
<line x1="403.5" y1="746.47" x2="403.5" y2="743.06" stroke="#274d8c" stroke-width="0.8"/>
<line x1="401.5" y1="746.47" x2="405.5" y2="746.47" stroke="#274d8c" stroke-width="0.8"/>
<line x1="401.5" y1="743.06" x2="405.5" y2="743.06" stroke="#274d8c" stroke-width="0.8"/>
<rect x="423.1" y="742.03" width="9.2" height="47.47" fill="#fff" stroke="#bcd5f0" stroke-width="0.6"/>
<circle cx="428.61" cy="731.45" r="1.35" fill="#8cb3e1"/>
<circle cx="429.93" cy="739.98" r="1.35" fill="#8cb3e1"/>
<circle cx="426.69" cy="740.67" r="1.35" fill="#8cb3e1"/>
<circle cx="431.41" cy="742.37" r="1.35" fill="#8cb3e1"/>
<circle cx="425.4" cy="745.79" r="1.35" fill="#8cb3e1"/>
<circle cx="424.27" cy="747.5" r="1.35" fill="#8cb3e1"/>
<line x1="427.7" y1="744.08" x2="427.7" y2="739.98" stroke="#8cb3e1" stroke-width="0.8"/>
<line x1="425.7" y1="744.08" x2="429.7" y2="744.08" stroke="#8cb3e1" stroke-width="0.8"/>
<line x1="425.7" y1="739.98" x2="429.7" y2="739.98" stroke="#8cb3e1" stroke-width="0.8"/>
<rect x="437.9" y="734.86" width="9.2" height="54.64" fill="#fff" stroke="#bcd5f0" stroke-width="0.6"/>
<circle cx="446.02" cy="728.71" r="1.35" fill="#274d8c"/>
<circle cx="443.53" cy="729.74" r="1.35" fill="#274d8c"/>
<circle cx="441.75" cy="733.15" r="1.35" fill="#274d8c"/>
<circle cx="445" cy="733.84" r="1.35" fill="#274d8c"/>
<circle cx="439.05" cy="739.98" r="1.35" fill="#274d8c"/>
<circle cx="440.08" cy="741.69" r="1.35" fill="#274d8c"/>
<line x1="442.5" y1="737.59" x2="442.5" y2="732.13" stroke="#274d8c" stroke-width="0.8"/>
<line x1="440.5" y1="737.59" x2="444.5" y2="737.59" stroke="#274d8c" stroke-width="0.8"/>
<line x1="440.5" y1="732.13" x2="444.5" y2="732.13" stroke="#274d8c" stroke-width="0.8"/>
<line x1="379.4" y1="704.2" x2="379.4" y2="789.5" stroke="#3c3c3c" stroke-width="1"/>
<line x1="376.9" y1="789.5" x2="379.4" y2="789.5" stroke="#3c3c3c" stroke-width="1"/>
<text x="375.7" y="792.5" text-anchor="end">0</text>
<line x1="376.9" y1="755.35" x2="379.4" y2="755.35" stroke="#3c3c3c" stroke-width="1"/>
<text x="375.7" y="758.35" text-anchor="end">10</text>
<line x1="376.9" y1="721.2" x2="379.4" y2="721.2" stroke="#3c3c3c" stroke-width="1"/>
<text x="375.7" y="724.2" text-anchor="end">20</text>
<line x1="379.4" y1="789.5" x2="453" y2="789.5" stroke="#3c3c3c" stroke-width="1"/>
<line x1="396.4" y1="789.5" x2="396.4" y2="792" stroke="#3c3c3c" stroke-width="1"/>
<line x1="435.1" y1="789.5" x2="435.1" y2="792" stroke="#3c3c3c" stroke-width="1"/>
<text x="396.4" y="801.1" text-anchor="middle" font-size="8.6">Day</text>
<text x="435.1" y="801.1" text-anchor="middle" font-size="8.6">Night</text>
<text x="354" y="744.9" text-anchor="middle" font-size="8.4" transform="rotate(-90 354 744.9)">Energy expenditure</text>
<text x="364.8" y="744.9" text-anchor="middle" font-size="8.8" transform="rotate(-90 364.8 744.9)">(kcal/kg/h)</text>
<text x="435.5" y="711.57" text-anchor="middle" fill="#333" font-size="6.2"><tspan font-style="italic">P</tspan>=0.026</text>
<polyline points="427.5,717.8 427.5,714.7 443.8,714.7 443.8,717.8" fill="none" stroke="#333" stroke-width="0.8"/>
<rect x="534.9" y="702.9" width="35.1" height="88.6" fill="#d6d6d6"/>
<rect x="499.8" y="751.27" width="9.2" height="40.23" fill="#fff" stroke="#bcd5f0" stroke-width="0.6"/>
<circle cx="504.94" cy="744.15" r="1.35" fill="#8cb3e1"/>
<circle cx="503.9" cy="744.15" r="1.35" fill="#8cb3e1"/>
<circle cx="506.49" cy="749.49" r="1.35" fill="#8cb3e1"/>
<circle cx="500.88" cy="750.56" r="1.35" fill="#8cb3e1"/>
<circle cx="501.96" cy="755.9" r="1.35" fill="#8cb3e1"/>
<circle cx="508.11" cy="757.32" r="1.35" fill="#8cb3e1"/>
<line x1="504.4" y1="754.12" x2="504.4" y2="748.42" stroke="#8cb3e1" stroke-width="0.8"/>
<line x1="502.4" y1="754.12" x2="506.4" y2="754.12" stroke="#8cb3e1" stroke-width="0.8"/>
<line x1="502.4" y1="748.42" x2="506.4" y2="748.42" stroke="#8cb3e1" stroke-width="0.8"/>
<rect x="514.9" y="747.71" width="9.2" height="43.79" fill="#fff" stroke="#bcd5f0" stroke-width="0.6"/>
<circle cx="521.61" cy="743.44" r="1.35" fill="#274d8c"/>
<circle cx="515.52" cy="744.51" r="1.35" fill="#274d8c"/>
<circle cx="523.01" cy="745.22" r="1.35" fill="#274d8c"/>
<circle cx="518.56" cy="747" r="1.35" fill="#274d8c"/>
<circle cx="517.54" cy="748.78" r="1.35" fill="#274d8c"/>
<circle cx="520.35" cy="764.8" r="1.35" fill="#274d8c"/>
<line x1="519.5" y1="751.27" x2="519.5" y2="744.15" stroke="#274d8c" stroke-width="0.8"/>
<line x1="517.5" y1="751.27" x2="521.5" y2="751.27" stroke="#274d8c" stroke-width="0.8"/>
<line x1="517.5" y1="744.15" x2="521.5" y2="744.15" stroke="#274d8c" stroke-width="0.8"/>
<rect x="540.4" y="743.08" width="9.2" height="48.42" fill="#fff" stroke="#bcd5f0" stroke-width="0.6"/>
<circle cx="547.3" cy="740.59" r="1.35" fill="#8cb3e1"/>
<circle cx="548.62" cy="741.66" r="1.35" fill="#8cb3e1"/>
<circle cx="541.52" cy="742.37" r="1.35" fill="#8cb3e1"/>
<circle cx="544.29" cy="743.08" r="1.35" fill="#8cb3e1"/>
<circle cx="542.83" cy="743.8" r="1.35" fill="#8cb3e1"/>
<circle cx="545.97" cy="745.22" r="1.35" fill="#8cb3e1"/>
<line x1="545" y1="744.15" x2="545" y2="742.02" stroke="#8cb3e1" stroke-width="0.8"/>
<line x1="543" y1="744.15" x2="547" y2="744.15" stroke="#8cb3e1" stroke-width="0.8"/>
<line x1="543" y1="742.02" x2="547" y2="742.02" stroke="#8cb3e1" stroke-width="0.8"/>
<rect x="555.6" y="732.76" width="9.2" height="58.74" fill="#fff" stroke="#bcd5f0" stroke-width="0.6"/>
<circle cx="563.76" cy="727.78" r="1.35" fill="#274d8c"/>
<circle cx="558.27" cy="728.84" r="1.35" fill="#274d8c"/>
<circle cx="562.47" cy="729.56" r="1.35" fill="#274d8c"/>
<circle cx="560.86" cy="733.83" r="1.35" fill="#274d8c"/>
<circle cx="559.62" cy="734.18" r="1.35" fill="#274d8c"/>
<circle cx="556.46" cy="735.25" r="1.35" fill="#274d8c"/>
<line x1="560.2" y1="734.9" x2="560.2" y2="730.62" stroke="#274d8c" stroke-width="0.8"/>
<line x1="558.2" y1="734.9" x2="562.2" y2="734.9" stroke="#274d8c" stroke-width="0.8"/>
<line x1="558.2" y1="730.62" x2="562.2" y2="730.62" stroke="#274d8c" stroke-width="0.8"/>
<line x1="494.5" y1="702.9" x2="494.5" y2="791.5" stroke="#3c3c3c" stroke-width="1"/>
<line x1="492" y1="791.5" x2="494.5" y2="791.5" stroke="#3c3c3c" stroke-width="1"/>
<text x="490.8" y="794.5" text-anchor="end">0</text>
<line x1="492" y1="755.9" x2="494.5" y2="755.9" stroke="#3c3c3c" stroke-width="1"/>
<text x="490.8" y="758.9" text-anchor="end">10</text>
<line x1="492" y1="720.3" x2="494.5" y2="720.3" stroke="#3c3c3c" stroke-width="1"/>
<text x="490.8" y="723.3" text-anchor="end">20</text>
<line x1="494.5" y1="791.5" x2="570" y2="791.5" stroke="#3c3c3c" stroke-width="1"/>
<line x1="511.95" y1="791.5" x2="511.95" y2="794" stroke="#3c3c3c" stroke-width="1"/>
<line x1="552.6" y1="791.5" x2="552.6" y2="794" stroke="#3c3c3c" stroke-width="1"/>
<text x="511.95" y="803.1" text-anchor="middle" font-size="8.6">Day</text>
<text x="552.6" y="803.1" text-anchor="middle" font-size="8.6">Night</text>
<text x="476.9" y="747" text-anchor="middle" font-size="9" transform="rotate(-90 476.9 747)">CH oxidation (g/d/kg<tspan dy="-3.5" font-size="6">Eff.Mass</tspan><tspan dy="3.5">)</tspan></text>
<text x="552.5" y="713.17" text-anchor="middle" fill="#333" font-size="6.2"><tspan font-style="italic">P</tspan>=0.010</text>
<polyline points="543,719 543,716 560,716 560,719" fill="none" stroke="#333" stroke-width="0.8"/>
<rect x="644.6" y="702.9" width="34.9" height="88.6" fill="#d6d6d6"/>
<rect x="609.3" y="782.96" width="9.2" height="8.54" fill="#fff" stroke="#bcd5f0" stroke-width="0.6"/>
<circle cx="614.53" cy="781.89" r="1.35" fill="#8cb3e1"/>
<circle cx="613.44" cy="782.24" r="1.35" fill="#8cb3e1"/>
<circle cx="617.83" cy="782.6" r="1.35" fill="#8cb3e1"/>
<circle cx="610.45" cy="782.96" r="1.35" fill="#8cb3e1"/>
<circle cx="616.36" cy="783.67" r="1.35" fill="#8cb3e1"/>
<circle cx="611.82" cy="784.02" r="1.35" fill="#8cb3e1"/>
<line x1="613.9" y1="783.67" x2="613.9" y2="782.24" stroke="#8cb3e1" stroke-width="0.8"/>
<line x1="611.9" y1="783.67" x2="615.9" y2="783.67" stroke="#8cb3e1" stroke-width="0.8"/>
<line x1="611.9" y1="782.24" x2="615.9" y2="782.24" stroke="#8cb3e1" stroke-width="0.8"/>
<rect x="624.6" y="782.24" width="9.2" height="9.26" fill="#fff" stroke="#bcd5f0" stroke-width="0.6"/>
<circle cx="628.53" cy="781.18" r="1.35" fill="#274d8c"/>
<circle cx="629.9" cy="781.53" r="1.35" fill="#274d8c"/>
<circle cx="631.43" cy="781.53" r="1.35" fill="#274d8c"/>
<circle cx="627.21" cy="781.89" r="1.35" fill="#274d8c"/>
<circle cx="625.27" cy="782.24" r="1.35" fill="#274d8c"/>
<circle cx="632.74" cy="785.8" r="1.35" fill="#274d8c"/>
<line x1="629.2" y1="782.96" x2="629.2" y2="781.53" stroke="#274d8c" stroke-width="0.8"/>
<line x1="627.2" y1="782.96" x2="631.2" y2="782.96" stroke="#274d8c" stroke-width="0.8"/>
<line x1="627.2" y1="781.53" x2="631.2" y2="781.53" stroke="#274d8c" stroke-width="0.8"/>
<rect x="649.7" y="780.82" width="9.2" height="10.68" fill="#fff" stroke="#bcd5f0" stroke-width="0.6"/>
<circle cx="652.12" cy="777.97" r="1.35" fill="#8cb3e1"/>
<circle cx="653.44" cy="780.11" r="1.35" fill="#8cb3e1"/>
<circle cx="655.05" cy="780.82" r="1.35" fill="#8cb3e1"/>
<circle cx="656.54" cy="781.18" r="1.35" fill="#8cb3e1"/>
<circle cx="650.54" cy="781.53" r="1.35" fill="#8cb3e1"/>
<circle cx="657.89" cy="781.89" r="1.35" fill="#8cb3e1"/>
<line x1="654.3" y1="781.53" x2="654.3" y2="780.11" stroke="#8cb3e1" stroke-width="0.8"/>
<line x1="652.3" y1="781.53" x2="656.3" y2="781.53" stroke="#8cb3e1" stroke-width="0.8"/>
<line x1="652.3" y1="780.11" x2="656.3" y2="780.11" stroke="#8cb3e1" stroke-width="0.8"/>
<rect x="664.9" y="778.33" width="9.2" height="13.17" fill="#fff" stroke="#bcd5f0" stroke-width="0.6"/>
<circle cx="665.59" cy="777.26" r="1.35" fill="#274d8c"/>
<circle cx="671.43" cy="777.62" r="1.35" fill="#274d8c"/>
<circle cx="670.42" cy="777.97" r="1.35" fill="#274d8c"/>
<circle cx="668.88" cy="778.33" r="1.35" fill="#274d8c"/>
<circle cx="673.17" cy="778.68" r="1.35" fill="#274d8c"/>
<circle cx="667.02" cy="780.11" r="1.35" fill="#274d8c"/>
<line x1="669.5" y1="778.68" x2="669.5" y2="777.97" stroke="#274d8c" stroke-width="0.8"/>
<line x1="667.5" y1="778.68" x2="671.5" y2="778.68" stroke="#274d8c" stroke-width="0.8"/>
<line x1="667.5" y1="777.97" x2="671.5" y2="777.97" stroke="#274d8c" stroke-width="0.8"/>
<line x1="603.6" y1="702.9" x2="603.6" y2="791.5" stroke="#3c3c3c" stroke-width="1"/>
<line x1="601.1" y1="791.5" x2="603.6" y2="791.5" stroke="#3c3c3c" stroke-width="1"/>
<text x="599.9" y="794.5" text-anchor="end">0</text>
<line x1="601.1" y1="755.9" x2="603.6" y2="755.9" stroke="#3c3c3c" stroke-width="1"/>
<text x="599.9" y="758.9" text-anchor="end">10</text>
<line x1="601.1" y1="720.3" x2="603.6" y2="720.3" stroke="#3c3c3c" stroke-width="1"/>
<text x="599.9" y="723.3" text-anchor="end">20</text>
<line x1="603.6" y1="791.5" x2="679.5" y2="791.5" stroke="#3c3c3c" stroke-width="1"/>
<line x1="621.55" y1="791.5" x2="621.55" y2="794" stroke="#3c3c3c" stroke-width="1"/>
<line x1="661.9" y1="791.5" x2="661.9" y2="794" stroke="#3c3c3c" stroke-width="1"/>
<text x="621.55" y="803.1" text-anchor="middle" font-size="8.6">Day</text>
<text x="661.9" y="803.1" text-anchor="middle" font-size="8.6">Night</text>
<text x="587" y="747" text-anchor="middle" font-size="9" transform="rotate(-90 587 747)">Fat oxidation (g/d/kg<tspan dy="-3.5" font-size="6">Eff.Mass</tspan><tspan dy="3.5">)</tspan></text>
<text x="662.3" y="759.87" text-anchor="middle" fill="#333" font-size="6.2"><tspan font-style="italic">P</tspan>=0.047</text>
<polyline points="653.8,767 653.8,763 669.6,763 669.6,767" fill="none" stroke="#333" stroke-width="0.8"/>
<circle cx="48.1" cy="562.8" r="1.3" fill="#f07a83"/>
<g><text x="54.6" y="565.18" font-size="6.8" xml:space="preserve">SED</text><circle cx="71.71" cy="561.78" r="1.5" fill="none" stroke="#161616" stroke-width="0.65"/><path d="M71.71 563.28V566.13M70.49 564.84H72.93" stroke="#161616" stroke-width="0.65" fill="none"/><text x="74.43" y="565.18" font-size="6.8" xml:space="preserve">(n=6)</text></g>
<circle cx="48.1" cy="572.7" r="1.3" fill="#a51d24"/>
<g><text x="54.6" y="575.08" font-size="6.8" xml:space="preserve">EXE</text><circle cx="71.34" cy="571.68" r="1.5" fill="none" stroke="#161616" stroke-width="0.65"/><path d="M71.34 573.18V576.03M70.11 574.74H72.56" stroke="#161616" stroke-width="0.65" fill="none"/><text x="74.06" y="575.08" font-size="6.8" xml:space="preserve">(n=6)</text></g>
<circle cx="395.7" cy="564.2" r="1.3" fill="#f07a83"/>
<g><text x="402.2" y="566.58" font-size="6.8" xml:space="preserve">SED</text><circle cx="419.31" cy="563.18" r="1.5" fill="none" stroke="#161616" stroke-width="0.65"/><path d="M419.31 564.68V567.53M418.09 566.24H420.53" stroke="#161616" stroke-width="0.65" fill="none"/><text x="422.03" y="566.58" font-size="6.8" xml:space="preserve"> (n=6)</text></g>
<circle cx="395.7" cy="573.9" r="1.3" fill="#a51d24"/>
<g><text x="402.2" y="576.28" font-size="6.8" xml:space="preserve">EXE</text><circle cx="418.94" cy="572.88" r="1.5" fill="none" stroke="#161616" stroke-width="0.65"/><path d="M418.94 574.38V577.23M417.71 575.94H420.16" stroke="#161616" stroke-width="0.65" fill="none"/><text x="421.66" y="576.28" font-size="6.8" xml:space="preserve"> (n=6)</text></g>
<circle cx="52.5" cy="689.7" r="1.3" fill="#8cb3e1"/>
<g><text x="59" y="692.08" font-size="6.8" xml:space="preserve">SED</text><circle cx="75.7" cy="690.72" r="1.36" fill="none" stroke="#161616" stroke-width="0.65"/><path d="M76.68 689.74L78.69 687.46M77.2 687.46H78.69V688.95" stroke="#161616" stroke-width="0.65" fill="none"/><text x="79.1" y="692.08" font-size="6.8" xml:space="preserve"> (n=6)</text></g>
<circle cx="52.5" cy="699.7" r="1.3" fill="#274d8c"/>
<g><text x="59" y="702.08" font-size="6.8" xml:space="preserve">EXE</text><circle cx="75.33" cy="700.72" r="1.36" fill="none" stroke="#161616" stroke-width="0.65"/><path d="M76.31 699.74L78.32 697.46M76.82 697.46H78.32V698.95" stroke="#161616" stroke-width="0.65" fill="none"/><text x="78.73" y="702.08" font-size="6.8" xml:space="preserve"> (n=6)</text></g>
<circle cx="398.3" cy="688.4" r="1.3" fill="#8cb3e1"/>
<g><text x="404.8" y="690.78" font-size="6.8" xml:space="preserve">SED</text><circle cx="421.5" cy="689.42" r="1.36" fill="none" stroke="#161616" stroke-width="0.65"/><path d="M422.48 688.44L424.49 686.16M423 686.16H424.49V687.65" stroke="#161616" stroke-width="0.65" fill="none"/><text x="424.9" y="690.78" font-size="6.8" xml:space="preserve"> (n=6)</text></g>
<circle cx="398.3" cy="697.6" r="1.3" fill="#274d8c"/>
<g><text x="404.8" y="699.98" font-size="6.8" xml:space="preserve">EXE</text><circle cx="421.13" cy="698.62" r="1.36" fill="none" stroke="#161616" stroke-width="0.65"/><path d="M422.11 697.64L424.12 695.36M422.62 695.36H424.12V696.85" stroke="#161616" stroke-width="0.65" fill="none"/><text x="424.53" y="699.98" font-size="6.8" xml:space="preserve"> (n=6)</text></g>
</g></svg></body></html>
